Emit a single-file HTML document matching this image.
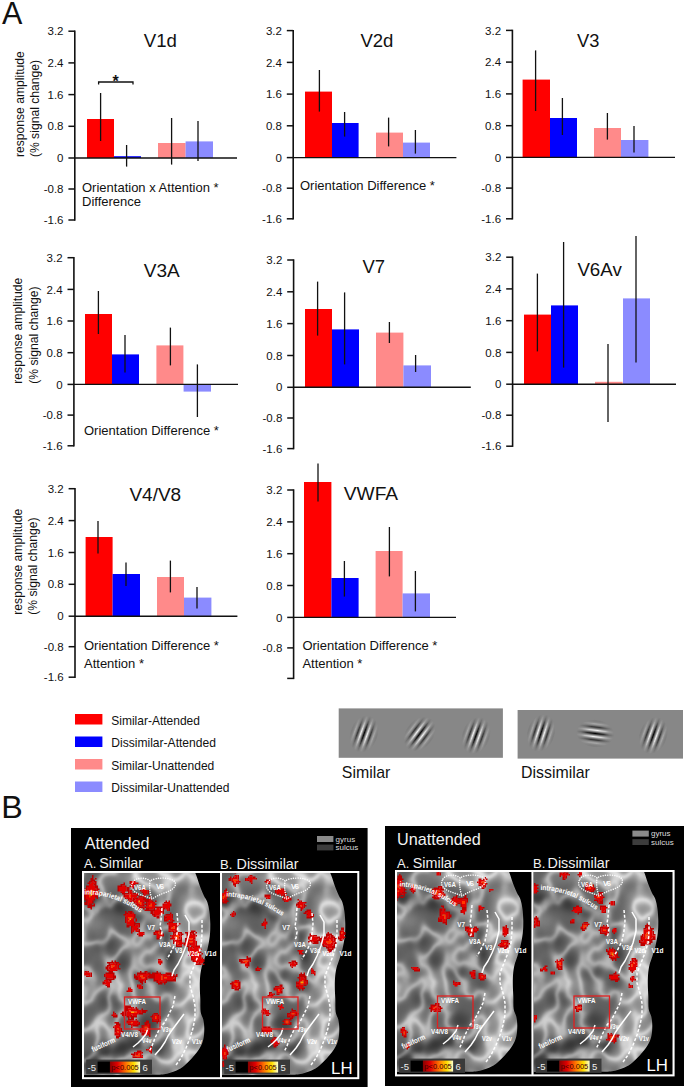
<!DOCTYPE html>
<html><head><meta charset="utf-8"><style>
html,body{margin:0;padding:0;background:#fff;width:685px;height:1089px;overflow:hidden}
svg{position:absolute;left:0;top:0;display:block}
text{font-family:"Liberation Sans", sans-serif}
</style></head><body>
<svg width="685" height="1089" viewBox="0 0 685 1089" fill="#111">
<defs>
<linearGradient id="stripes" gradientUnits="userSpaceOnUse" x1="-3.25" y1="0" x2="3.25" y2="0" spreadMethod="repeat">
<stop offset="0" stop-color="#fff"/><stop offset="0.5" stop-color="#000"/><stop offset="1" stop-color="#fff"/>
</linearGradient>
<radialGradient id="env" cx="0.5" cy="0.5" r="0.5">
<stop offset="0" stop-color="#fff"/><stop offset="0.25" stop-color="#e4e4e4"/><stop offset="0.5" stop-color="#909090"/><stop offset="0.75" stop-color="#303030"/><stop offset="1" stop-color="#000"/>
</radialGradient>
<mask id="gmask" maskContentUnits="userSpaceOnUse"><ellipse cx="0" cy="0" rx="14" ry="19" fill="url(#env)"/></mask>
</defs>
<text x="2" y="24" font-size="30.5">A</text>
<text x="1.2" y="818" font-size="30.5" textLength="21.5" lengthAdjust="spacingAndGlyphs">B</text>

<rect x="87" y="119.0" width="27.0" height="39.0" fill="#ff0000"/>
<rect x="114" y="156.2" width="27.0" height="1.8" fill="#0000ff"/>
<rect x="158" y="143.0" width="27.6" height="15.0" fill="#ff8a8a"/>
<rect x="185.6" y="141.4" width="27.4" height="16.6" fill="#8b8bff"/>
<line x1="74.8" y1="158.0" x2="237" y2="158.0" stroke="#111" stroke-width="1.4"/>
<line x1="100.6" y1="93" x2="100.6" y2="141" stroke="#111" stroke-width="1.3"/>
<line x1="126.6" y1="145" x2="126.6" y2="166.6" stroke="#111" stroke-width="1.3"/>
<line x1="171.6" y1="118" x2="171.6" y2="164.6" stroke="#111" stroke-width="1.3"/>
<line x1="198" y1="121" x2="198" y2="161" stroke="#111" stroke-width="1.3"/>
<line x1="74.8" y1="30.5" x2="74.8" y2="220.7" stroke="#111" stroke-width="1.6"/>
<line x1="68.39999999999999" y1="31.2" x2="74.8" y2="31.2" stroke="#111" stroke-width="1.5"/>
<text x="63.5" y="35.3" text-anchor="end" font-size="11.5">3.2</text>
<line x1="68.39999999999999" y1="62.9" x2="74.8" y2="62.9" stroke="#111" stroke-width="1.5"/>
<text x="63.5" y="67.0" text-anchor="end" font-size="11.5">2.4</text>
<line x1="68.39999999999999" y1="94.6" x2="74.8" y2="94.6" stroke="#111" stroke-width="1.5"/>
<text x="63.5" y="98.7" text-anchor="end" font-size="11.5">1.6</text>
<line x1="68.39999999999999" y1="126.3" x2="74.8" y2="126.3" stroke="#111" stroke-width="1.5"/>
<text x="63.5" y="130.4" text-anchor="end" font-size="11.5">0.8</text>
<line x1="68.39999999999999" y1="158.0" x2="74.8" y2="158.0" stroke="#111" stroke-width="1.5"/>
<text x="63.5" y="162.1" text-anchor="end" font-size="11.5">0</text>
<line x1="68.39999999999999" y1="189.0" x2="74.8" y2="189.0" stroke="#111" stroke-width="1.5"/>
<text x="63.5" y="193.1" text-anchor="end" font-size="11.5">-0.8</text>
<line x1="68.39999999999999" y1="220.0" x2="74.8" y2="220.0" stroke="#111" stroke-width="1.5"/>
<text x="63.5" y="224.1" text-anchor="end" font-size="11.5">-1.6</text>
<text x="143.8" y="47.4" font-size="18" textLength="33.2" lengthAdjust="spacingAndGlyphs">V1d</text>
<text x="82" y="192.3" font-size="13">Orientation x Attention *</text>
<text x="82" y="205.8" font-size="13">Difference</text>
<rect x="305" y="91.6" width="27.0" height="66.0" fill="#ff0000"/>
<rect x="332" y="123.0" width="26.6" height="34.6" fill="#0000ff"/>
<rect x="376" y="132.6" width="27.0" height="25.0" fill="#ff8a8a"/>
<rect x="403" y="142.6" width="27.0" height="15.0" fill="#8b8bff"/>
<line x1="293.2" y1="157.6" x2="456.4" y2="157.6" stroke="#111" stroke-width="1.4"/>
<line x1="319.4" y1="70" x2="319.4" y2="111.6" stroke="#111" stroke-width="1.3"/>
<line x1="344.6" y1="112" x2="344.6" y2="136.6" stroke="#111" stroke-width="1.3"/>
<line x1="388.6" y1="117.6" x2="388.6" y2="146.4" stroke="#111" stroke-width="1.3"/>
<line x1="415.4" y1="130" x2="415.4" y2="153.6" stroke="#111" stroke-width="1.3"/>
<line x1="293.2" y1="29.900000000000002" x2="293.2" y2="219.5" stroke="#111" stroke-width="1.6"/>
<line x1="286.8" y1="30.6" x2="293.2" y2="30.6" stroke="#111" stroke-width="1.5"/>
<text x="281.9" y="34.7" text-anchor="end" font-size="11.5">3.2</text>
<line x1="286.8" y1="62.4" x2="293.2" y2="62.4" stroke="#111" stroke-width="1.5"/>
<text x="281.9" y="66.5" text-anchor="end" font-size="11.5">2.4</text>
<line x1="286.8" y1="94.1" x2="293.2" y2="94.1" stroke="#111" stroke-width="1.5"/>
<text x="281.9" y="98.2" text-anchor="end" font-size="11.5">1.6</text>
<line x1="286.8" y1="125.8" x2="293.2" y2="125.8" stroke="#111" stroke-width="1.5"/>
<text x="281.9" y="129.9" text-anchor="end" font-size="11.5">0.8</text>
<line x1="286.8" y1="157.6" x2="293.2" y2="157.6" stroke="#111" stroke-width="1.5"/>
<text x="281.9" y="161.7" text-anchor="end" font-size="11.5">0</text>
<line x1="286.8" y1="188.2" x2="293.2" y2="188.2" stroke="#111" stroke-width="1.5"/>
<text x="281.9" y="192.3" text-anchor="end" font-size="11.5">-0.8</text>
<line x1="286.8" y1="218.8" x2="293.2" y2="218.8" stroke="#111" stroke-width="1.5"/>
<text x="281.9" y="222.9" text-anchor="end" font-size="11.5">-1.6</text>
<text x="360.4" y="47" font-size="18" textLength="33" lengthAdjust="spacingAndGlyphs">V2d</text>
<text x="300" y="190.4" font-size="13">Orientation Difference *</text>
<rect x="522.6" y="79.6" width="27.4" height="77.8" fill="#ff0000"/>
<rect x="550" y="118.0" width="27.0" height="39.4" fill="#0000ff"/>
<rect x="594" y="128.0" width="27.0" height="29.4" fill="#ff8a8a"/>
<rect x="621" y="140.0" width="27.4" height="17.4" fill="#8b8bff"/>
<line x1="512.4" y1="157.4" x2="675" y2="157.4" stroke="#111" stroke-width="1.4"/>
<line x1="535.6" y1="50.4" x2="535.6" y2="111" stroke="#111" stroke-width="1.3"/>
<line x1="562.4" y1="98" x2="562.4" y2="135" stroke="#111" stroke-width="1.3"/>
<line x1="607.4" y1="113" x2="607.4" y2="139.6" stroke="#111" stroke-width="1.3"/>
<line x1="634" y1="126" x2="634" y2="152.4" stroke="#111" stroke-width="1.3"/>
<line x1="512.4" y1="29.7" x2="512.4" y2="219.5" stroke="#111" stroke-width="1.6"/>
<line x1="506.0" y1="30.4" x2="512.4" y2="30.4" stroke="#111" stroke-width="1.5"/>
<text x="501.1" y="34.5" text-anchor="end" font-size="11.5">3.2</text>
<line x1="506.0" y1="62.1" x2="512.4" y2="62.1" stroke="#111" stroke-width="1.5"/>
<text x="501.1" y="66.2" text-anchor="end" font-size="11.5">2.4</text>
<line x1="506.0" y1="93.9" x2="512.4" y2="93.9" stroke="#111" stroke-width="1.5"/>
<text x="501.1" y="98.0" text-anchor="end" font-size="11.5">1.6</text>
<line x1="506.0" y1="125.7" x2="512.4" y2="125.7" stroke="#111" stroke-width="1.5"/>
<text x="501.1" y="129.8" text-anchor="end" font-size="11.5">0.8</text>
<line x1="506.0" y1="157.4" x2="512.4" y2="157.4" stroke="#111" stroke-width="1.5"/>
<text x="501.1" y="161.5" text-anchor="end" font-size="11.5">0</text>
<line x1="506.0" y1="188.1" x2="512.4" y2="188.1" stroke="#111" stroke-width="1.5"/>
<text x="501.1" y="192.2" text-anchor="end" font-size="11.5">-0.8</text>
<line x1="506.0" y1="218.8" x2="512.4" y2="218.8" stroke="#111" stroke-width="1.5"/>
<text x="501.1" y="222.9" text-anchor="end" font-size="11.5">-1.6</text>
<text x="577.0" y="47" font-size="18" textLength="22.4" lengthAdjust="spacingAndGlyphs">V3</text>
<rect x="85" y="314.0" width="27.0" height="70.4" fill="#ff0000"/>
<rect x="112" y="354.4" width="27.0" height="30.0" fill="#0000ff"/>
<rect x="156.4" y="345.4" width="27.0" height="39.0" fill="#ff8a8a"/>
<rect x="183.6" y="384.4" width="27.4" height="7.2" fill="#8b8bff"/>
<line x1="73.9" y1="384.4" x2="238" y2="384.4" stroke="#111" stroke-width="1.4"/>
<line x1="98.4" y1="291" x2="98.4" y2="334" stroke="#111" stroke-width="1.3"/>
<line x1="125" y1="335" x2="125" y2="372.4" stroke="#111" stroke-width="1.3"/>
<line x1="170.4" y1="327.6" x2="170.4" y2="365.4" stroke="#111" stroke-width="1.3"/>
<line x1="197.4" y1="364.4" x2="197.4" y2="417" stroke="#111" stroke-width="1.3"/>
<line x1="73.9" y1="257.0" x2="73.9" y2="446.5" stroke="#111" stroke-width="1.6"/>
<line x1="67.5" y1="257.7" x2="73.9" y2="257.7" stroke="#111" stroke-width="1.5"/>
<text x="62.6" y="261.8" text-anchor="end" font-size="11.5">3.2</text>
<line x1="67.5" y1="289.4" x2="73.9" y2="289.4" stroke="#111" stroke-width="1.5"/>
<text x="62.6" y="293.5" text-anchor="end" font-size="11.5">2.4</text>
<line x1="67.5" y1="321.0" x2="73.9" y2="321.0" stroke="#111" stroke-width="1.5"/>
<text x="62.6" y="325.1" text-anchor="end" font-size="11.5">1.6</text>
<line x1="67.5" y1="352.7" x2="73.9" y2="352.7" stroke="#111" stroke-width="1.5"/>
<text x="62.6" y="356.8" text-anchor="end" font-size="11.5">0.8</text>
<line x1="67.5" y1="384.4" x2="73.9" y2="384.4" stroke="#111" stroke-width="1.5"/>
<text x="62.6" y="388.5" text-anchor="end" font-size="11.5">0</text>
<line x1="67.5" y1="415.1" x2="73.9" y2="415.1" stroke="#111" stroke-width="1.5"/>
<text x="62.6" y="419.2" text-anchor="end" font-size="11.5">-0.8</text>
<line x1="67.5" y1="445.8" x2="73.9" y2="445.8" stroke="#111" stroke-width="1.5"/>
<text x="62.6" y="449.9" text-anchor="end" font-size="11.5">-1.6</text>
<text x="143.8" y="276.6" font-size="18" textLength="36" lengthAdjust="spacingAndGlyphs">V3A</text>
<text x="84" y="435.2" font-size="13">Orientation Difference *</text>
<rect x="305" y="309.0" width="27.0" height="78.3" fill="#ff0000"/>
<rect x="332" y="329.4" width="27.0" height="57.9" fill="#0000ff"/>
<rect x="376" y="332.6" width="27.4" height="54.7" fill="#ff8a8a"/>
<rect x="403.4" y="365.4" width="27.6" height="21.9" fill="#8b8bff"/>
<line x1="293.6" y1="387.3" x2="470.8" y2="387.3" stroke="#111" stroke-width="1.4"/>
<line x1="317.6" y1="281.6" x2="317.6" y2="335.6" stroke="#111" stroke-width="1.3"/>
<line x1="344.6" y1="292.4" x2="344.6" y2="364.4" stroke="#111" stroke-width="1.3"/>
<line x1="389.4" y1="322" x2="389.4" y2="343" stroke="#111" stroke-width="1.3"/>
<line x1="415.6" y1="355" x2="415.6" y2="372" stroke="#111" stroke-width="1.3"/>
<line x1="293.6" y1="259.3" x2="293.6" y2="449.3" stroke="#111" stroke-width="1.6"/>
<line x1="287.20000000000005" y1="260.0" x2="293.6" y2="260.0" stroke="#111" stroke-width="1.5"/>
<text x="282.3" y="264.1" text-anchor="end" font-size="11.5">3.2</text>
<line x1="287.20000000000005" y1="291.8" x2="293.6" y2="291.8" stroke="#111" stroke-width="1.5"/>
<text x="282.3" y="295.9" text-anchor="end" font-size="11.5">2.4</text>
<line x1="287.20000000000005" y1="323.6" x2="293.6" y2="323.6" stroke="#111" stroke-width="1.5"/>
<text x="282.3" y="327.8" text-anchor="end" font-size="11.5">1.6</text>
<line x1="287.20000000000005" y1="355.5" x2="293.6" y2="355.5" stroke="#111" stroke-width="1.5"/>
<text x="282.3" y="359.6" text-anchor="end" font-size="11.5">0.8</text>
<line x1="287.20000000000005" y1="387.3" x2="293.6" y2="387.3" stroke="#111" stroke-width="1.5"/>
<text x="282.3" y="391.4" text-anchor="end" font-size="11.5">0</text>
<line x1="287.20000000000005" y1="418.0" x2="293.6" y2="418.0" stroke="#111" stroke-width="1.5"/>
<text x="282.3" y="422.1" text-anchor="end" font-size="11.5">-0.8</text>
<line x1="287.20000000000005" y1="448.6" x2="293.6" y2="448.6" stroke="#111" stroke-width="1.5"/>
<text x="282.3" y="452.7" text-anchor="end" font-size="11.5">-1.6</text>
<text x="362.4" y="273" font-size="18" textLength="22.6" lengthAdjust="spacingAndGlyphs">V7</text>
<rect x="524" y="314.6" width="27.0" height="69.6" fill="#ff0000"/>
<rect x="551" y="305.4" width="27.0" height="78.8" fill="#0000ff"/>
<rect x="595" y="381.8" width="27.6" height="2.4" fill="#ff8a8a"/>
<rect x="623" y="298.4" width="27.0" height="85.8" fill="#8b8bff"/>
<line x1="512.6" y1="384.2" x2="676" y2="384.2" stroke="#111" stroke-width="1.4"/>
<line x1="537.4" y1="273.6" x2="537.4" y2="351.4" stroke="#111" stroke-width="1.3"/>
<line x1="563.6" y1="242" x2="563.6" y2="367.6" stroke="#111" stroke-width="1.3"/>
<line x1="608" y1="344" x2="608" y2="422" stroke="#111" stroke-width="1.3"/>
<line x1="636" y1="236" x2="636" y2="362.6" stroke="#111" stroke-width="1.3"/>
<line x1="512.6" y1="256.5" x2="512.6" y2="446.9" stroke="#111" stroke-width="1.6"/>
<line x1="506.20000000000005" y1="257.2" x2="512.6" y2="257.2" stroke="#111" stroke-width="1.5"/>
<text x="501.3" y="261.3" text-anchor="end" font-size="11.5">3.2</text>
<line x1="506.20000000000005" y1="288.9" x2="512.6" y2="288.9" stroke="#111" stroke-width="1.5"/>
<text x="501.3" y="293.1" text-anchor="end" font-size="11.5">2.4</text>
<line x1="506.20000000000005" y1="320.7" x2="512.6" y2="320.7" stroke="#111" stroke-width="1.5"/>
<text x="501.3" y="324.8" text-anchor="end" font-size="11.5">1.6</text>
<line x1="506.20000000000005" y1="352.4" x2="512.6" y2="352.4" stroke="#111" stroke-width="1.5"/>
<text x="501.3" y="356.6" text-anchor="end" font-size="11.5">0.8</text>
<line x1="506.20000000000005" y1="384.2" x2="512.6" y2="384.2" stroke="#111" stroke-width="1.5"/>
<text x="501.3" y="388.3" text-anchor="end" font-size="11.5">0</text>
<line x1="506.20000000000005" y1="415.2" x2="512.6" y2="415.2" stroke="#111" stroke-width="1.5"/>
<text x="501.3" y="419.3" text-anchor="end" font-size="11.5">-0.8</text>
<line x1="506.20000000000005" y1="446.2" x2="512.6" y2="446.2" stroke="#111" stroke-width="1.5"/>
<text x="501.3" y="450.3" text-anchor="end" font-size="11.5">-1.6</text>
<text x="577.4" y="275.6" font-size="18" textLength="44.4" lengthAdjust="spacingAndGlyphs">V6Av</text>
<rect x="85.6" y="537.0" width="27.0" height="79.2" fill="#ff0000"/>
<rect x="112.6" y="574.0" width="27.4" height="42.2" fill="#0000ff"/>
<rect x="157" y="577.0" width="27.0" height="39.2" fill="#ff8a8a"/>
<rect x="184" y="597.6" width="27.4" height="18.6" fill="#8b8bff"/>
<line x1="75.0" y1="616.2" x2="237.4" y2="616.2" stroke="#111" stroke-width="1.4"/>
<line x1="98" y1="521" x2="98" y2="553.6" stroke="#111" stroke-width="1.3"/>
<line x1="126" y1="562.4" x2="126" y2="586" stroke="#111" stroke-width="1.3"/>
<line x1="170.4" y1="560.6" x2="170.4" y2="592.4" stroke="#111" stroke-width="1.3"/>
<line x1="197" y1="587" x2="197" y2="608.6" stroke="#111" stroke-width="1.3"/>
<line x1="75.0" y1="488.0" x2="75.0" y2="677.9000000000001" stroke="#111" stroke-width="1.6"/>
<line x1="68.6" y1="488.7" x2="75.0" y2="488.7" stroke="#111" stroke-width="1.5"/>
<text x="63.7" y="492.8" text-anchor="end" font-size="11.5">3.2</text>
<line x1="68.6" y1="520.6" x2="75.0" y2="520.6" stroke="#111" stroke-width="1.5"/>
<text x="63.7" y="524.7" text-anchor="end" font-size="11.5">2.4</text>
<line x1="68.6" y1="552.5" x2="75.0" y2="552.5" stroke="#111" stroke-width="1.5"/>
<text x="63.7" y="556.6" text-anchor="end" font-size="11.5">1.6</text>
<line x1="68.6" y1="584.3" x2="75.0" y2="584.3" stroke="#111" stroke-width="1.5"/>
<text x="63.7" y="588.4" text-anchor="end" font-size="11.5">0.8</text>
<line x1="68.6" y1="616.2" x2="75.0" y2="616.2" stroke="#111" stroke-width="1.5"/>
<text x="63.7" y="620.3" text-anchor="end" font-size="11.5">0</text>
<line x1="68.6" y1="646.7" x2="75.0" y2="646.7" stroke="#111" stroke-width="1.5"/>
<text x="63.7" y="650.8" text-anchor="end" font-size="11.5">-0.8</text>
<line x1="68.6" y1="677.2" x2="75.0" y2="677.2" stroke="#111" stroke-width="1.5"/>
<text x="63.7" y="681.3" text-anchor="end" font-size="11.5">-1.6</text>
<text x="129.4" y="501" font-size="18" textLength="51.8" lengthAdjust="spacingAndGlyphs">V4/V8</text>
<text x="84" y="650" font-size="13">Orientation Difference *</text>
<text x="84" y="668" font-size="13">Attention *</text>
<rect x="304" y="482.0" width="27.4" height="135.4" fill="#ff0000"/>
<rect x="331.4" y="578.0" width="27.2" height="39.4" fill="#0000ff"/>
<rect x="375.6" y="551.0" width="27.0" height="66.4" fill="#ff8a8a"/>
<rect x="402.6" y="593.4" width="27.4" height="24.0" fill="#8b8bff"/>
<line x1="293.6" y1="617.4" x2="456" y2="617.4" stroke="#111" stroke-width="1.4"/>
<line x1="318" y1="463.6" x2="318" y2="501.6" stroke="#111" stroke-width="1.3"/>
<line x1="344.4" y1="561" x2="344.4" y2="596.6" stroke="#111" stroke-width="1.3"/>
<line x1="389.4" y1="527" x2="389.4" y2="576.4" stroke="#111" stroke-width="1.3"/>
<line x1="415.4" y1="571" x2="415.4" y2="611.4" stroke="#111" stroke-width="1.3"/>
<line x1="293.6" y1="489.3" x2="293.6" y2="679.1" stroke="#111" stroke-width="1.6"/>
<line x1="287.20000000000005" y1="490.0" x2="293.6" y2="490.0" stroke="#111" stroke-width="1.5"/>
<text x="282.3" y="494.1" text-anchor="end" font-size="11.5">3.2</text>
<line x1="287.20000000000005" y1="521.9" x2="293.6" y2="521.9" stroke="#111" stroke-width="1.5"/>
<text x="282.3" y="526.0" text-anchor="end" font-size="11.5">2.4</text>
<line x1="287.20000000000005" y1="553.7" x2="293.6" y2="553.7" stroke="#111" stroke-width="1.5"/>
<text x="282.3" y="557.8" text-anchor="end" font-size="11.5">1.6</text>
<line x1="287.20000000000005" y1="585.5" x2="293.6" y2="585.5" stroke="#111" stroke-width="1.5"/>
<text x="282.3" y="589.6" text-anchor="end" font-size="11.5">0.8</text>
<line x1="287.20000000000005" y1="617.4" x2="293.6" y2="617.4" stroke="#111" stroke-width="1.5"/>
<text x="282.3" y="621.5" text-anchor="end" font-size="11.5">0</text>
<line x1="287.20000000000005" y1="647.9" x2="293.6" y2="647.9" stroke="#111" stroke-width="1.5"/>
<text x="282.3" y="652.0" text-anchor="end" font-size="11.5">-0.8</text>
<line x1="287.20000000000005" y1="678.4" x2="293.6" y2="678.4" stroke="#111" stroke-width="1.5"/>
<text x="343.79999999999995" y="500" font-size="18" textLength="54.3" lengthAdjust="spacingAndGlyphs">VWFA</text>
<text x="302.4" y="650" font-size="13">Orientation Difference *</text>
<text x="302.4" y="668" font-size="13">Attention *</text>
<path d="M98.6 84.5 V82 H133 V84.5" fill="none" stroke="#111" stroke-width="1.3"/>
<text x="115.6" y="86.6" text-anchor="middle" font-size="16" font-weight="bold">*</text>
<text transform="translate(24,157.1) rotate(-90)" font-size="12.15">response amplitude</text>
<text transform="translate(39.3,157.1) rotate(-90)" font-size="12.15">(% signal change)</text>
<text transform="translate(22,383.7) rotate(-90)" font-size="12.15">response amplitude</text>
<text transform="translate(37.5,383.7) rotate(-90)" font-size="12.15">(% signal change)</text>
<text transform="translate(21.6,614.7) rotate(-90)" font-size="12.15">response amplitude</text>
<text transform="translate(37.2,614.7) rotate(-90)" font-size="12.15">(% signal change)</text>
<rect x="75" y="714.0" width="27.4" height="10.5" fill="#ff0000"/>
<text x="111.3" y="724.6" font-size="12.4" textLength="88.6" lengthAdjust="spacingAndGlyphs">Similar-Attended</text>
<rect x="75" y="736.5" width="27.4" height="10.5" fill="#0000ff"/>
<text x="111.3" y="747.1" font-size="12.4" textLength="104.6" lengthAdjust="spacingAndGlyphs">Dissimilar-Attended</text>
<rect x="75" y="759.0" width="27.4" height="10.5" fill="#ff8a8a"/>
<text x="111.3" y="769.6" font-size="12.4" textLength="103" lengthAdjust="spacingAndGlyphs">Similar-Unattended</text>
<rect x="75" y="781.5" width="27.4" height="10.5" fill="#8b8bff"/>
<text x="111.3" y="792.1" font-size="12.4" textLength="118.1" lengthAdjust="spacingAndGlyphs">Dissimilar-Unattended</text>
<rect x="338.7" y="708.4" width="164.2" height="49.4" fill="#878787"/>
<rect x="517.6" y="710" width="165.4" height="48.6" fill="#878787"/>
<g transform="translate(364,734) rotate(20)"><rect x="-15" y="-20" width="30" height="40" fill="url(#stripes)" mask="url(#gmask)"/></g>
<g transform="translate(419.6,734) rotate(37)"><rect x="-15" y="-20" width="30" height="40" fill="url(#stripes)" mask="url(#gmask)"/></g>
<g transform="translate(476,735.5) rotate(20)"><rect x="-15" y="-20" width="30" height="40" fill="url(#stripes)" mask="url(#gmask)"/></g>
<g transform="translate(541,733) rotate(18)"><rect x="-15" y="-20" width="30" height="40" fill="url(#stripes)" mask="url(#gmask)"/></g>
<g transform="translate(595.2,733.5) rotate(97)"><rect x="-15" y="-20" width="30" height="40" fill="url(#stripes)" mask="url(#gmask)"/></g>
<g transform="translate(653.2,735.5) rotate(20)"><rect x="-15" y="-20" width="30" height="40" fill="url(#stripes)" mask="url(#gmask)"/></g>
<text x="341.8" y="778.3" font-size="15.9">Similar</text>
<text x="521" y="778.3" font-size="15.9">Dissimilar</text>
<defs>
<filter id="bpaint" x="-6" y="-6" width="154" height="220" filterUnits="userSpaceOnUse" color-interpolation-filters="sRGB">
<feGaussianBlur in="SourceGraphic" stdDeviation="4.5" result="p"/>
<feTurbulence type="fractalNoise" baseFrequency="0.038 0.032" numOctaves="2" seed="11" result="n"/>
<feColorMatrix in="n" type="matrix" values="1 0 0 0 0  1 0 0 0 0  1 0 0 0 0  0 0 0 0 1" result="g"/>
<feComponentTransfer in="g" result="c">
<feFuncR type="table" tableValues="0 0 0 0 0 0 0.01 0.03 0.07 0.14 0.28 0.55 0.8 0.55 0.28 0.14 0.07 0.03 0.01 0 0 0 0 0 0"/>
<feFuncG type="table" tableValues="0 0 0 0 0 0 0.01 0.03 0.07 0.14 0.28 0.55 0.8 0.55 0.28 0.14 0.07 0.03 0.01 0 0 0 0 0 0"/>
<feFuncB type="table" tableValues="0 0 0 0 0 0 0.01 0.03 0.07 0.14 0.28 0.55 0.8 0.55 0.28 0.14 0.07 0.03 0.01 0 0 0 0 0 0"/>
</feComponentTransfer>
<feGaussianBlur in="c" stdDeviation="1.2" result="r"/>
<feComposite in="p" in2="r" operator="arithmetic" k1="0" k2="1" k3="0.46" k4="-0.16"/>
</filter>
<filter id="rblob" x="-20%" y="-20%" width="140%" height="140%"><feGaussianBlur stdDeviation="0.45"/></filter>
<filter id="bblur4" x="-10%" y="-10%" width="120%" height="120%"><feGaussianBlur stdDeviation="4.5"/></filter>
<filter id="bblur3" x="-50%" y="-50%" width="200%" height="200%"><feGaussianBlur stdDeviation="3"/></filter>
<filter id="rblur" x="-50%" y="-50%" width="200%" height="200%"><feGaussianBlur stdDeviation="0.7"/></filter>
<linearGradient id="cbar" x1="0" y1="0" x2="1" y2="0">
<stop offset="0" stop-color="#8a0000"/><stop offset="0.25" stop-color="#e00000"/><stop offset="0.55" stop-color="#ff7a00"/><stop offset="0.8" stop-color="#ffe000"/><stop offset="1" stop-color="#ffffd0"/>
</linearGradient>
<g id="brainbase">
<g filter="url(#bpaint)">
<rect x="-10" y="-10" width="165" height="230" fill="#888"/>
<ellipse cx="72" cy="4" rx="42" ry="9" fill="#b8b8b8"/>
<path d="M96 18 L122 18 L124 100 L118 130 L121 165 L112 192 L88 196 L92 150 L100 110 L92 60 Z" fill="#b0b0b0"/>
<ellipse cx="14" cy="50" rx="10" ry="7" fill="#a8a8a8"/>
<ellipse cx="42" cy="112" rx="12" ry="9" fill="#a4a4a4"/>
<ellipse cx="18" cy="152" rx="14" ry="9" fill="#a0a0a0"/>
<ellipse cx="30" cy="8" rx="14" ry="6" fill="#a0a0a0"/>
<ellipse cx="78" cy="185" rx="20" ry="10" fill="#a8a8a8"/>
<path d="M-5 27 C20 28 42 33 58 41 C72 49 80 62 86 84" fill="none" stroke="#555" stroke-width="11" stroke-linecap="round"/>
<ellipse cx="22" cy="70" rx="10" ry="8" fill="#686868"/>
<ellipse cx="38" cy="90" rx="8" ry="8" fill="#6e6e6e"/>
<ellipse cx="62" cy="100" rx="11" ry="8" fill="#6c6c6c"/>
<ellipse cx="28" cy="128" rx="10" ry="8" fill="#6a6a6a"/>
<ellipse cx="62" cy="150" rx="12" ry="9" fill="#6a6a6a"/>
<path d="M-2 192 C10 185 25 178 40 173 C52 170 62 172 75 177" fill="none" stroke="#505050" stroke-width="11" stroke-linecap="round"/>
<ellipse cx="84" cy="118" rx="5" ry="14" fill="#7a7a7a"/>
</g>
<path d="M111.5 -3 C111.8 -2.2 112.8 0.2 113.5 2 C114.2 3.8 114.8 5.8 115.5 8 C116.2 10.2 117.1 12.7 118 15 C118.9 17.3 120.0 19.8 121 22 C122.0 24.2 123.4 25.3 124.3 28 C125.2 30.7 126.0 34.3 126.5 38 C127.0 41.7 127.2 46.0 127.3 50 C127.3 54.0 127.3 57.8 126.8 62 C126.3 66.2 125.4 71.2 124.5 75 C123.6 78.8 122.5 81.8 121.5 85 C120.5 88.2 119.2 91.2 118.5 94 C117.8 96.8 117.5 99.0 117.2 102 C116.9 105.0 116.8 108.2 116.8 112 C116.8 115.8 117.1 120.7 117.3 125 C117.5 129.3 117.2 134.6 117.7 138 C118.2 141.4 119.7 142.8 120.3 145.6 C120.9 148.4 121.3 151.8 121.3 155 C121.3 158.2 121.0 162.2 120.4 165 C119.8 167.8 119.0 169.9 117.9 172.1 C116.8 174.3 115.4 176.2 113.9 178.3 C112.4 180.4 110.6 182.4 108.7 184.4 C106.8 186.4 104.8 188.6 102.6 190.5 C100.4 192.4 98.6 194.1 95.5 195.6 C92.4 197.1 88.5 198.8 84.2 199.7 C80.0 200.6 77.4 200.6 70 200.8 C62.6 201.0 52.5 201.0 40 201 C27.5 201.0 2.5 201.0 -5 201 L-8 215 L152 215 L152 -8 L111.5 -8 Z" fill="#000"/>
</g>
<g id="bover">
<g fill="none" stroke="#fff" stroke-width="1.5" stroke-linecap="butt" stroke-linejoin="round">
<path d="M47 8 C50 3 60 3 64 7 C70 3 85 3 89 8 C91 13 85 17 78 19 C73 21 69 23 66 25 C60 22 52 21 48 17 C45 14 45 11 47 8 Z M64 7 C63 13 64 19 66 25" stroke-linecap="round" stroke-dasharray="0.01 2.3" stroke-width="1.5"/>
<path d="M76 34 L75 46 L74 52 L76 58 L75 64 L73 66" stroke-dasharray="3 1.8"/>
<path d="M91 39 L92 50 L91 60 L89 70 L84 80 L81 85" stroke-dasharray="3 1.8"/>
<path d="M99 41 L103 48 L103 60 L100 72 L96 82 L92 90 L88 96 L86 102"/>
<path d="M116 46 L116 60 L115 72 L112 82 L108 92 L104 102 L104 112 L107 122 L109 132 L109 144 L107 154 L104 164 L100 174 L95 184 L90 191" stroke-dasharray="3 1.8"/>
<path d="M89 122 L87 132 L83 140 L79 148 L74 154 L69 164 L66 172 L63 178" stroke-dasharray="3 1.8"/>
<path d="M98 140 L92 148 L86 156 L82 162 L79 168 L75 174 L69 181"/>
<path d="M62 154 L60 160 L56 165 L52 169 L47 173"/>
</g>
<g font-family="Liberation Sans, sans-serif" font-weight="bold" font-size="7.6" fill="#fff">
<text x="48" y="15.5" textLength="12" lengthAdjust="spacingAndGlyphs">V6A</text><text x="70" y="15" textLength="8">V6</text>
<text x="61.3" y="56" textLength="7.8" lengthAdjust="spacingAndGlyphs">V7</text><text x="73" y="73" textLength="11.8" lengthAdjust="spacingAndGlyphs">V3A</text>
<text x="101.5" y="81.5" textLength="10.5" lengthAdjust="spacingAndGlyphs">V2d</text><text x="118.5" y="81.5" textLength="12" lengthAdjust="spacingAndGlyphs">V1d</text>
<text x="35" y="162.5" textLength="17" lengthAdjust="spacingAndGlyphs">V4/V8</text>
<text x="56" y="169" textLength="9.5" lengthAdjust="spacingAndGlyphs">V4v</text>
<text x="76" y="157.5" textLength="9.5" lengthAdjust="spacingAndGlyphs">V3v</text><text x="86" y="170" textLength="10" lengthAdjust="spacingAndGlyphs">V2v</text><text x="106" y="170" textLength="10" lengthAdjust="spacingAndGlyphs">V1v</text>
<text transform="translate(7,178) rotate(-24)" textLength="25" lengthAdjust="spacingAndGlyphs">fusiform</text>
</g>
</g>
<g id="bfixed">
<text x="45" y="132" font-family="Liberation Sans, sans-serif" font-weight="bold" font-size="7" fill="#fff" textLength="18" lengthAdjust="spacingAndGlyphs">VWFA</text>
<rect x="41.5" y="125" width="35.5" height="32" fill="none" stroke="#e02020" stroke-width="1.3"/>
<rect x="3.2" y="187.6" width="65.8" height="14.3" fill="#3a3a3a"/>
<rect x="14.6" y="189.6" width="12.4" height="11" fill="#000"/>
<rect x="26.9" y="189.6" width="30.2" height="11" fill="url(#cbar)"/>
<text x="4.6" y="198.6" font-family="Liberation Sans, sans-serif" font-size="9.5" fill="#eee">-5</text>
<text x="28.3" y="198" font-family="Liberation Sans, sans-serif" font-size="6.8" fill="#400" textLength="27.5" lengthAdjust="spacingAndGlyphs">p&lt;0.005</text>
</g>
</defs>

<rect x="71" y="828" width="296.6" height="259" fill="#000"/>
<text x="84.7" y="849.3" font-family="Liberation Sans, sans-serif" font-size="16.2" fill="#f2f2f2">Attended</text>
<rect x="317" y="836" width="16.4" height="6" fill="#8a8a8a"/>
<rect x="317" y="844.6" width="16.4" height="5.8" fill="#3c3c3c"/>
<text x="335.6" y="841.8" font-family="Liberation Sans, sans-serif" font-size="8" fill="#ddd">gyrus</text>
<text x="335.6" y="850.2" font-family="Liberation Sans, sans-serif" font-size="8" fill="#ddd">sulcus</text>
<text x="84" y="868.3" font-family="Liberation Sans, sans-serif" font-size="13" fill="#f2f2f2">A.</text>
<text x="99.3" y="868.3" font-family="Liberation Sans, sans-serif" font-size="15.5" fill="#f2f2f2" textLength="43.8" lengthAdjust="spacingAndGlyphs">Similar</text>
<text x="220" y="868.5" font-family="Liberation Sans, sans-serif" font-size="13" fill="#f2f2f2">B.</text>
<text x="236.6" y="868.5" font-family="Liberation Sans, sans-serif" font-size="15.5" fill="#f2f2f2" textLength="62" lengthAdjust="spacingAndGlyphs">Dissimilar</text>
<clipPath id="bc1"><rect x="1" y="1" width="136" height="204.2"/></clipPath>
<g transform="translate(83,872)"><g clip-path="url(#bc1)">
<use href="#brainbase" transform="translate(0,2)"/>
<g filter="url(#rblob)">
<path fill="#bc0000" d="M9.0 3.0h1.5v1.5h-1.5zM9.0 4.5h1.5v1.5h-1.5zM7.5 6.0h1.5v1.5h-1.5zM9.0 6.0h1.5v1.5h-1.5zM12.0 6.0h1.5v1.5h-1.5zM7.5 7.5h1.5v1.5h-1.5zM9.0 7.5h1.5v1.5h-1.5zM10.5 7.5h1.5v1.5h-1.5zM6.0 9.0h1.5v1.5h-1.5zM7.5 9.0h1.5v1.5h-1.5zM10.5 9.0h1.5v1.5h-1.5zM12.0 9.0h1.5v1.5h-1.5zM4.5 10.5h1.5v1.5h-1.5zM6.0 10.5h1.5v1.5h-1.5zM12.0 10.5h1.5v1.5h-1.5zM10.5 12.0h1.5v1.5h-1.5zM12.0 12.0h1.5v1.5h-1.5zM3.0 13.5h1.5v1.5h-1.5zM4.5 13.5h1.5v1.5h-1.5zM12.0 13.5h1.5v1.5h-1.5zM13.5 13.5h1.5v1.5h-1.5zM3.0 15.0h1.5v1.5h-1.5zM12.0 15.0h1.5v1.5h-1.5zM13.5 15.0h1.5v1.5h-1.5zM-1.5 16.5h1.5v1.5h-1.5zM1.5 16.5h1.5v1.5h-1.5zM3.0 16.5h1.5v1.5h-1.5zM13.5 16.5h1.5v1.5h-1.5zM15.0 16.5h1.5v1.5h-1.5zM0.0 18.0h1.5v1.5h-1.5zM12.0 18.0h1.5v1.5h-1.5zM0.0 19.5h1.5v1.5h-1.5zM15.0 19.5h1.5v1.5h-1.5zM0.0 21.0h1.5v1.5h-1.5zM16.5 21.0h1.5v1.5h-1.5zM-1.5 22.5h1.5v1.5h-1.5zM0.0 22.5h1.5v1.5h-1.5zM1.5 22.5h1.5v1.5h-1.5zM13.5 22.5h1.5v1.5h-1.5zM0.0 24.0h1.5v1.5h-1.5zM1.5 24.0h1.5v1.5h-1.5zM12.0 24.0h1.5v1.5h-1.5zM13.5 24.0h1.5v1.5h-1.5zM-1.5 25.5h1.5v1.5h-1.5zM1.5 25.5h1.5v1.5h-1.5zM13.5 25.5h1.5v1.5h-1.5zM1.5 27.0h1.5v1.5h-1.5zM3.0 27.0h1.5v1.5h-1.5zM10.5 27.0h1.5v1.5h-1.5zM3.0 28.5h1.5v1.5h-1.5zM9.0 28.5h1.5v1.5h-1.5zM1.5 30.0h1.5v1.5h-1.5zM3.0 30.0h1.5v1.5h-1.5zM9.0 30.0h1.5v1.5h-1.5zM1.5 31.5h1.5v1.5h-1.5zM3.0 31.5h1.5v1.5h-1.5zM6.0 31.5h1.5v1.5h-1.5zM7.5 31.5h1.5v1.5h-1.5zM10.5 31.5h1.5v1.5h-1.5zM4.5 33.0h1.5v1.5h-1.5zM6.0 33.0h1.5v1.5h-1.5zM7.5 33.0h1.5v1.5h-1.5zM9.0 33.0h1.5v1.5h-1.5zM10.5 33.0h1.5v1.5h-1.5zM4.5 34.5h1.5v1.5h-1.5zM6.0 34.5h1.5v1.5h-1.5zM7.5 34.5h1.5v1.5h-1.5zM7.5 36.0h1.5v1.5h-1.5zM40.5 10.5h1.5v1.5h-1.5zM37.5 12.0h1.5v1.5h-1.5zM39.0 12.0h1.5v1.5h-1.5zM40.5 12.0h1.5v1.5h-1.5zM34.5 13.5h1.5v1.5h-1.5zM36.0 13.5h1.5v1.5h-1.5zM37.5 13.5h1.5v1.5h-1.5zM42.0 13.5h1.5v1.5h-1.5zM34.5 15.0h1.5v1.5h-1.5zM43.5 15.0h1.5v1.5h-1.5zM45.0 15.0h1.5v1.5h-1.5zM34.5 16.5h1.5v1.5h-1.5zM43.5 16.5h1.5v1.5h-1.5zM45.0 16.5h1.5v1.5h-1.5zM34.5 18.0h1.5v1.5h-1.5zM43.5 18.0h1.5v1.5h-1.5zM37.5 19.5h1.5v1.5h-1.5zM39.0 21.0h1.5v1.5h-1.5zM40.5 21.0h1.5v1.5h-1.5zM45.0 18.0h1.5v1.5h-1.5zM48.0 18.0h1.5v1.5h-1.5zM45.0 19.5h1.5v1.5h-1.5zM42.0 21.0h1.5v1.5h-1.5zM43.5 21.0h1.5v1.5h-1.5zM45.0 21.0h1.5v1.5h-1.5zM49.5 21.0h1.5v1.5h-1.5zM51.0 21.0h1.5v1.5h-1.5zM52.5 21.0h1.5v1.5h-1.5zM54.0 21.0h1.5v1.5h-1.5zM40.5 22.5h1.5v1.5h-1.5zM54.0 22.5h1.5v1.5h-1.5zM40.5 24.0h1.5v1.5h-1.5zM55.5 24.0h1.5v1.5h-1.5zM42.0 25.5h1.5v1.5h-1.5zM49.5 25.5h1.5v1.5h-1.5zM45.0 27.0h1.5v1.5h-1.5zM49.5 27.0h1.5v1.5h-1.5zM46.5 28.5h1.5v1.5h-1.5zM48.0 28.5h1.5v1.5h-1.5zM49.5 28.5h1.5v1.5h-1.5zM57.0 24.0h1.5v1.5h-1.5zM58.5 24.0h1.5v1.5h-1.5zM60.0 24.0h1.5v1.5h-1.5zM51.0 25.5h1.5v1.5h-1.5zM52.5 25.5h1.5v1.5h-1.5zM54.0 25.5h1.5v1.5h-1.5zM60.0 25.5h1.5v1.5h-1.5zM61.5 25.5h1.5v1.5h-1.5zM51.0 27.0h1.5v1.5h-1.5zM60.0 27.0h1.5v1.5h-1.5zM61.5 27.0h1.5v1.5h-1.5zM61.5 28.5h1.5v1.5h-1.5zM51.0 30.0h1.5v1.5h-1.5zM60.0 30.0h1.5v1.5h-1.5zM52.5 31.5h1.5v1.5h-1.5zM61.5 31.5h1.5v1.5h-1.5zM54.0 33.0h1.5v1.5h-1.5zM60.0 33.0h1.5v1.5h-1.5zM55.5 34.5h1.5v1.5h-1.5zM57.0 34.5h1.5v1.5h-1.5zM58.5 34.5h1.5v1.5h-1.5zM55.5 36.0h1.5v1.5h-1.5zM57.0 36.0h1.5v1.5h-1.5zM60.0 36.0h1.5v1.5h-1.5zM66.0 24.0h1.5v1.5h-1.5zM66.0 25.5h1.5v1.5h-1.5zM63.0 27.0h1.5v1.5h-1.5zM64.5 27.0h1.5v1.5h-1.5zM67.5 27.0h1.5v1.5h-1.5zM63.0 28.5h1.5v1.5h-1.5zM64.5 28.5h1.5v1.5h-1.5zM69.0 28.5h1.5v1.5h-1.5zM72.0 28.5h1.5v1.5h-1.5zM63.0 30.0h1.5v1.5h-1.5zM63.0 31.5h1.5v1.5h-1.5zM72.0 31.5h1.5v1.5h-1.5zM63.0 33.0h1.5v1.5h-1.5zM61.5 34.5h1.5v1.5h-1.5zM72.0 34.5h1.5v1.5h-1.5zM63.0 36.0h1.5v1.5h-1.5zM64.5 36.0h1.5v1.5h-1.5zM70.5 36.0h1.5v1.5h-1.5zM61.5 37.5h1.5v1.5h-1.5zM63.0 37.5h1.5v1.5h-1.5zM64.5 37.5h1.5v1.5h-1.5zM66.0 37.5h1.5v1.5h-1.5zM67.5 37.5h1.5v1.5h-1.5zM69.0 37.5h1.5v1.5h-1.5zM70.5 37.5h1.5v1.5h-1.5zM69.0 39.0h1.5v1.5h-1.5zM73.5 34.5h1.5v1.5h-1.5zM75.0 34.5h1.5v1.5h-1.5zM76.5 34.5h1.5v1.5h-1.5zM78.0 34.5h1.5v1.5h-1.5zM76.5 36.0h1.5v1.5h-1.5zM78.0 36.0h1.5v1.5h-1.5zM79.5 36.0h1.5v1.5h-1.5zM70.5 37.5h1.5v1.5h-1.5zM79.5 37.5h1.5v1.5h-1.5zM67.5 39.0h1.5v1.5h-1.5zM69.0 39.0h1.5v1.5h-1.5zM79.5 39.0h1.5v1.5h-1.5zM67.5 40.5h1.5v1.5h-1.5zM69.0 40.5h1.5v1.5h-1.5zM79.5 40.5h1.5v1.5h-1.5zM69.0 42.0h1.5v1.5h-1.5zM70.5 42.0h1.5v1.5h-1.5zM76.5 42.0h1.5v1.5h-1.5zM70.5 43.5h1.5v1.5h-1.5zM73.5 43.5h1.5v1.5h-1.5zM75.0 43.5h1.5v1.5h-1.5zM73.5 45.0h1.5v1.5h-1.5zM75.0 45.0h1.5v1.5h-1.5zM46.5 9.0h1.5v1.5h-1.5zM46.5 10.5h1.5v1.5h-1.5zM54.0 10.5h1.5v1.5h-1.5zM51.0 12.0h1.5v1.5h-1.5zM46.5 13.5h1.5v1.5h-1.5zM48.0 15.0h1.5v1.5h-1.5zM49.5 15.0h1.5v1.5h-1.5zM58.5 16.5h1.5v1.5h-1.5zM61.5 16.5h1.5v1.5h-1.5zM57.0 18.0h1.5v1.5h-1.5zM64.5 18.0h1.5v1.5h-1.5zM58.5 19.5h1.5v1.5h-1.5zM64.5 19.5h1.5v1.5h-1.5zM60.0 21.0h1.5v1.5h-1.5zM64.5 21.0h1.5v1.5h-1.5zM60.0 22.5h1.5v1.5h-1.5zM61.5 22.5h1.5v1.5h-1.5zM42.0 39.0h1.5v1.5h-1.5zM45.0 39.0h1.5v1.5h-1.5zM46.5 39.0h1.5v1.5h-1.5zM48.0 39.0h1.5v1.5h-1.5zM42.0 40.5h1.5v1.5h-1.5zM43.5 40.5h1.5v1.5h-1.5zM46.5 40.5h1.5v1.5h-1.5zM48.0 40.5h1.5v1.5h-1.5zM40.5 42.0h1.5v1.5h-1.5zM42.0 42.0h1.5v1.5h-1.5zM51.0 42.0h1.5v1.5h-1.5zM51.0 43.5h1.5v1.5h-1.5zM42.0 45.0h1.5v1.5h-1.5zM51.0 45.0h1.5v1.5h-1.5zM42.0 46.5h1.5v1.5h-1.5zM52.5 46.5h1.5v1.5h-1.5zM42.0 48.0h1.5v1.5h-1.5zM52.5 48.0h1.5v1.5h-1.5zM42.0 49.5h1.5v1.5h-1.5zM51.0 49.5h1.5v1.5h-1.5zM51.0 51.0h1.5v1.5h-1.5zM43.5 52.5h1.5v1.5h-1.5zM45.0 52.5h1.5v1.5h-1.5zM49.5 52.5h1.5v1.5h-1.5zM51.0 52.5h1.5v1.5h-1.5zM43.5 54.0h1.5v1.5h-1.5zM45.0 54.0h1.5v1.5h-1.5zM48.0 54.0h1.5v1.5h-1.5zM49.5 54.0h1.5v1.5h-1.5zM49.5 51.0h1.5v1.5h-1.5zM52.5 51.0h1.5v1.5h-1.5zM54.0 51.0h1.5v1.5h-1.5zM55.5 51.0h1.5v1.5h-1.5zM46.5 52.5h1.5v1.5h-1.5zM48.0 52.5h1.5v1.5h-1.5zM51.0 52.5h1.5v1.5h-1.5zM55.5 52.5h1.5v1.5h-1.5zM48.0 54.0h1.5v1.5h-1.5zM55.5 54.0h1.5v1.5h-1.5zM48.0 55.5h1.5v1.5h-1.5zM54.0 55.5h1.5v1.5h-1.5zM48.0 57.0h1.5v1.5h-1.5zM55.5 57.0h1.5v1.5h-1.5zM48.0 58.5h1.5v1.5h-1.5zM54.0 58.5h1.5v1.5h-1.5zM55.5 58.5h1.5v1.5h-1.5zM48.0 60.0h1.5v1.5h-1.5zM60.0 60.0h1.5v1.5h-1.5zM54.0 61.5h1.5v1.5h-1.5zM55.5 63.0h1.5v1.5h-1.5zM57.0 63.0h1.5v1.5h-1.5zM58.5 63.0h1.5v1.5h-1.5zM76.5 57.0h1.5v1.5h-1.5zM72.0 58.5h1.5v1.5h-1.5zM73.5 58.5h1.5v1.5h-1.5zM76.5 58.5h1.5v1.5h-1.5zM70.5 60.0h1.5v1.5h-1.5zM70.5 61.5h1.5v1.5h-1.5zM72.0 61.5h1.5v1.5h-1.5zM79.5 61.5h1.5v1.5h-1.5zM79.5 63.0h1.5v1.5h-1.5zM76.5 64.5h1.5v1.5h-1.5zM73.5 66.0h1.5v1.5h-1.5zM75.0 66.0h1.5v1.5h-1.5zM82.5 28.5h1.5v1.5h-1.5zM85.5 28.5h1.5v1.5h-1.5zM81.0 30.0h1.5v1.5h-1.5zM82.5 30.0h1.5v1.5h-1.5zM79.5 31.5h1.5v1.5h-1.5zM87.0 31.5h1.5v1.5h-1.5zM87.0 33.0h1.5v1.5h-1.5zM79.5 36.0h1.5v1.5h-1.5zM81.0 36.0h1.5v1.5h-1.5zM85.5 36.0h1.5v1.5h-1.5zM85.5 37.5h1.5v1.5h-1.5zM87.0 40.5h1.5v1.5h-1.5zM82.5 42.0h1.5v1.5h-1.5zM84.0 42.0h1.5v1.5h-1.5zM85.5 42.0h1.5v1.5h-1.5zM88.5 42.0h1.5v1.5h-1.5zM81.0 43.5h1.5v1.5h-1.5zM88.5 43.5h1.5v1.5h-1.5zM81.0 45.0h1.5v1.5h-1.5zM82.5 45.0h1.5v1.5h-1.5zM88.5 45.0h1.5v1.5h-1.5zM81.0 46.5h1.5v1.5h-1.5zM81.0 48.0h1.5v1.5h-1.5zM82.5 48.0h1.5v1.5h-1.5zM88.5 48.0h1.5v1.5h-1.5zM90.0 48.0h1.5v1.5h-1.5zM88.5 49.5h1.5v1.5h-1.5zM85.5 49.5h1.5v1.5h-1.5zM87.0 49.5h1.5v1.5h-1.5zM84.0 51.0h1.5v1.5h-1.5zM93.0 51.0h1.5v1.5h-1.5zM94.5 51.0h1.5v1.5h-1.5zM96.0 51.0h1.5v1.5h-1.5zM94.5 52.5h1.5v1.5h-1.5zM85.5 54.0h1.5v1.5h-1.5zM93.0 54.0h1.5v1.5h-1.5zM85.5 55.5h1.5v1.5h-1.5zM93.0 55.5h1.5v1.5h-1.5zM93.0 57.0h1.5v1.5h-1.5zM85.5 58.5h1.5v1.5h-1.5zM87.0 58.5h1.5v1.5h-1.5zM90.0 58.5h1.5v1.5h-1.5zM93.0 58.5h1.5v1.5h-1.5zM90.0 60.0h1.5v1.5h-1.5zM91.5 60.0h1.5v1.5h-1.5zM93.0 60.0h1.5v1.5h-1.5zM96.0 60.0h1.5v1.5h-1.5zM97.5 60.0h1.5v1.5h-1.5zM90.0 61.5h1.5v1.5h-1.5zM97.5 61.5h1.5v1.5h-1.5zM99.0 61.5h1.5v1.5h-1.5zM87.0 63.0h1.5v1.5h-1.5zM97.5 63.0h1.5v1.5h-1.5zM96.0 64.5h1.5v1.5h-1.5zM87.0 66.0h1.5v1.5h-1.5zM88.5 66.0h1.5v1.5h-1.5zM97.5 66.0h1.5v1.5h-1.5zM90.0 67.5h1.5v1.5h-1.5zM96.0 67.5h1.5v1.5h-1.5zM97.5 67.5h1.5v1.5h-1.5zM93.0 69.0h1.5v1.5h-1.5zM94.5 69.0h1.5v1.5h-1.5zM94.5 70.5h1.5v1.5h-1.5zM93.0 67.5h1.5v1.5h-1.5zM96.0 67.5h1.5v1.5h-1.5zM90.0 69.0h1.5v1.5h-1.5zM91.5 69.0h1.5v1.5h-1.5zM90.0 70.5h1.5v1.5h-1.5zM91.5 70.5h1.5v1.5h-1.5zM93.0 72.0h1.5v1.5h-1.5zM100.5 72.0h1.5v1.5h-1.5zM93.0 73.5h1.5v1.5h-1.5zM94.5 73.5h1.5v1.5h-1.5zM96.0 73.5h1.5v1.5h-1.5zM97.5 73.5h1.5v1.5h-1.5zM105.0 58.5h1.5v1.5h-1.5zM108.0 58.5h1.5v1.5h-1.5zM109.5 58.5h1.5v1.5h-1.5zM111.0 58.5h1.5v1.5h-1.5zM102.0 60.0h1.5v1.5h-1.5zM103.5 60.0h1.5v1.5h-1.5zM105.0 60.0h1.5v1.5h-1.5zM106.5 60.0h1.5v1.5h-1.5zM108.0 60.0h1.5v1.5h-1.5zM109.5 60.0h1.5v1.5h-1.5zM112.5 60.0h1.5v1.5h-1.5zM103.5 61.5h1.5v1.5h-1.5zM106.5 61.5h1.5v1.5h-1.5zM109.5 61.5h1.5v1.5h-1.5zM111.0 61.5h1.5v1.5h-1.5zM103.5 63.0h1.5v1.5h-1.5zM112.5 63.0h1.5v1.5h-1.5zM102.0 66.0h1.5v1.5h-1.5zM103.5 66.0h1.5v1.5h-1.5zM111.0 66.0h1.5v1.5h-1.5zM102.0 67.5h1.5v1.5h-1.5zM103.5 67.5h1.5v1.5h-1.5zM102.0 69.0h1.5v1.5h-1.5zM112.5 69.0h1.5v1.5h-1.5zM100.5 70.5h1.5v1.5h-1.5zM112.5 70.5h1.5v1.5h-1.5zM100.5 72.0h1.5v1.5h-1.5zM106.5 72.0h1.5v1.5h-1.5zM112.5 72.0h1.5v1.5h-1.5zM102.0 73.5h1.5v1.5h-1.5zM103.5 73.5h1.5v1.5h-1.5zM105.0 73.5h1.5v1.5h-1.5zM112.5 73.5h1.5v1.5h-1.5zM109.5 75.0h1.5v1.5h-1.5zM111.0 75.0h1.5v1.5h-1.5zM112.5 76.5h1.5v1.5h-1.5zM112.5 72.0h1.5v1.5h-1.5zM108.0 73.5h1.5v1.5h-1.5zM109.5 73.5h1.5v1.5h-1.5zM111.0 73.5h1.5v1.5h-1.5zM112.5 73.5h1.5v1.5h-1.5zM114.0 73.5h1.5v1.5h-1.5zM115.5 73.5h1.5v1.5h-1.5zM105.0 75.0h1.5v1.5h-1.5zM109.5 75.0h1.5v1.5h-1.5zM105.0 76.5h1.5v1.5h-1.5zM115.5 76.5h1.5v1.5h-1.5zM117.0 76.5h1.5v1.5h-1.5zM105.0 78.0h1.5v1.5h-1.5zM106.5 79.5h1.5v1.5h-1.5zM117.0 79.5h1.5v1.5h-1.5zM106.5 81.0h1.5v1.5h-1.5zM118.5 81.0h1.5v1.5h-1.5zM105.0 82.5h1.5v1.5h-1.5zM106.5 82.5h1.5v1.5h-1.5zM117.0 82.5h1.5v1.5h-1.5zM108.0 84.0h1.5v1.5h-1.5zM115.5 84.0h1.5v1.5h-1.5zM108.0 85.5h1.5v1.5h-1.5zM111.0 85.5h1.5v1.5h-1.5zM114.0 85.5h1.5v1.5h-1.5zM115.5 85.5h1.5v1.5h-1.5zM115.5 82.5h1.5v1.5h-1.5zM117.0 82.5h1.5v1.5h-1.5zM109.5 84.0h1.5v1.5h-1.5zM109.5 85.5h1.5v1.5h-1.5zM118.5 85.5h1.5v1.5h-1.5zM108.0 87.0h1.5v1.5h-1.5zM109.5 87.0h1.5v1.5h-1.5zM120.0 87.0h1.5v1.5h-1.5zM109.5 88.5h1.5v1.5h-1.5zM120.0 88.5h1.5v1.5h-1.5zM115.5 90.0h1.5v1.5h-1.5zM112.5 91.5h1.5v1.5h-1.5zM114.0 91.5h1.5v1.5h-1.5zM115.5 91.5h1.5v1.5h-1.5zM117.0 91.5h1.5v1.5h-1.5zM120.0 91.5h1.5v1.5h-1.5zM28.5 88.5h1.5v1.5h-1.5zM31.5 88.5h1.5v1.5h-1.5zM24.0 90.0h1.5v1.5h-1.5zM25.5 90.0h1.5v1.5h-1.5zM27.0 90.0h1.5v1.5h-1.5zM28.5 90.0h1.5v1.5h-1.5zM31.5 90.0h1.5v1.5h-1.5zM33.0 90.0h1.5v1.5h-1.5zM34.5 90.0h1.5v1.5h-1.5zM25.5 91.5h1.5v1.5h-1.5zM33.0 91.5h1.5v1.5h-1.5zM36.0 91.5h1.5v1.5h-1.5zM24.0 93.0h1.5v1.5h-1.5zM25.5 93.0h1.5v1.5h-1.5zM34.5 93.0h1.5v1.5h-1.5zM22.5 94.5h1.5v1.5h-1.5zM24.0 94.5h1.5v1.5h-1.5zM34.5 94.5h1.5v1.5h-1.5zM22.5 96.0h1.5v1.5h-1.5zM24.0 96.0h1.5v1.5h-1.5zM34.5 96.0h1.5v1.5h-1.5zM36.0 96.0h1.5v1.5h-1.5zM24.0 97.5h1.5v1.5h-1.5zM25.5 97.5h1.5v1.5h-1.5zM33.0 97.5h1.5v1.5h-1.5zM27.0 99.0h1.5v1.5h-1.5zM28.5 99.0h1.5v1.5h-1.5zM27.0 100.5h1.5v1.5h-1.5zM25.5 99.0h1.5v1.5h-1.5zM22.5 100.5h1.5v1.5h-1.5zM24.0 100.5h1.5v1.5h-1.5zM25.5 100.5h1.5v1.5h-1.5zM27.0 100.5h1.5v1.5h-1.5zM28.5 100.5h1.5v1.5h-1.5zM30.0 100.5h1.5v1.5h-1.5zM21.0 102.0h1.5v1.5h-1.5zM30.0 102.0h1.5v1.5h-1.5zM21.0 103.5h1.5v1.5h-1.5zM30.0 103.5h1.5v1.5h-1.5zM31.5 103.5h1.5v1.5h-1.5zM22.5 105.0h1.5v1.5h-1.5zM30.0 105.0h1.5v1.5h-1.5zM31.5 105.0h1.5v1.5h-1.5zM22.5 106.5h1.5v1.5h-1.5zM24.0 106.5h1.5v1.5h-1.5zM25.5 106.5h1.5v1.5h-1.5zM27.0 106.5h1.5v1.5h-1.5zM28.5 106.5h1.5v1.5h-1.5zM30.0 106.5h1.5v1.5h-1.5zM25.5 108.0h1.5v1.5h-1.5zM27.0 108.0h1.5v1.5h-1.5zM19.5 109.5h1.5v1.5h-1.5zM21.0 109.5h1.5v1.5h-1.5zM27.0 109.5h1.5v1.5h-1.5zM19.5 111.0h1.5v1.5h-1.5zM22.5 112.5h1.5v1.5h-1.5zM24.0 114.0h1.5v1.5h-1.5zM25.5 114.0h1.5v1.5h-1.5zM1.5 99.0h1.5v1.5h-1.5zM4.5 99.0h1.5v1.5h-1.5zM0.0 100.5h1.5v1.5h-1.5zM7.5 100.5h1.5v1.5h-1.5zM0.0 102.0h1.5v1.5h-1.5zM7.5 102.0h1.5v1.5h-1.5zM3.0 103.5h1.5v1.5h-1.5zM4.5 103.5h1.5v1.5h-1.5zM7.5 103.5h1.5v1.5h-1.5zM57.0 99.0h1.5v1.5h-1.5zM61.5 99.0h1.5v1.5h-1.5zM63.0 99.0h1.5v1.5h-1.5zM54.0 100.5h1.5v1.5h-1.5zM55.5 100.5h1.5v1.5h-1.5zM57.0 100.5h1.5v1.5h-1.5zM58.5 100.5h1.5v1.5h-1.5zM60.0 100.5h1.5v1.5h-1.5zM61.5 100.5h1.5v1.5h-1.5zM64.5 100.5h1.5v1.5h-1.5zM66.0 100.5h1.5v1.5h-1.5zM51.0 102.0h1.5v1.5h-1.5zM54.0 102.0h1.5v1.5h-1.5zM66.0 102.0h1.5v1.5h-1.5zM67.5 102.0h1.5v1.5h-1.5zM51.0 103.5h1.5v1.5h-1.5zM52.5 103.5h1.5v1.5h-1.5zM64.5 103.5h1.5v1.5h-1.5zM66.0 103.5h1.5v1.5h-1.5zM67.5 103.5h1.5v1.5h-1.5zM51.0 105.0h1.5v1.5h-1.5zM52.5 105.0h1.5v1.5h-1.5zM54.0 105.0h1.5v1.5h-1.5zM63.0 105.0h1.5v1.5h-1.5zM66.0 105.0h1.5v1.5h-1.5zM52.5 106.5h1.5v1.5h-1.5zM54.0 106.5h1.5v1.5h-1.5zM63.0 106.5h1.5v1.5h-1.5zM55.5 108.0h1.5v1.5h-1.5zM57.0 108.0h1.5v1.5h-1.5zM58.5 108.0h1.5v1.5h-1.5zM61.5 108.0h1.5v1.5h-1.5zM57.0 109.5h1.5v1.5h-1.5zM58.5 109.5h1.5v1.5h-1.5zM61.5 109.5h1.5v1.5h-1.5zM58.5 111.0h1.5v1.5h-1.5zM73.5 99.0h1.5v1.5h-1.5zM69.0 100.5h1.5v1.5h-1.5zM70.5 100.5h1.5v1.5h-1.5zM72.0 100.5h1.5v1.5h-1.5zM73.5 100.5h1.5v1.5h-1.5zM76.5 100.5h1.5v1.5h-1.5zM82.5 100.5h1.5v1.5h-1.5zM84.0 100.5h1.5v1.5h-1.5zM85.5 100.5h1.5v1.5h-1.5zM87.0 100.5h1.5v1.5h-1.5zM69.0 102.0h1.5v1.5h-1.5zM70.5 102.0h1.5v1.5h-1.5zM78.0 102.0h1.5v1.5h-1.5zM84.0 102.0h1.5v1.5h-1.5zM85.5 102.0h1.5v1.5h-1.5zM87.0 102.0h1.5v1.5h-1.5zM88.5 102.0h1.5v1.5h-1.5zM90.0 102.0h1.5v1.5h-1.5zM93.0 102.0h1.5v1.5h-1.5zM67.5 103.5h1.5v1.5h-1.5zM69.0 103.5h1.5v1.5h-1.5zM70.5 103.5h1.5v1.5h-1.5zM87.0 103.5h1.5v1.5h-1.5zM90.0 103.5h1.5v1.5h-1.5zM91.5 103.5h1.5v1.5h-1.5zM93.0 103.5h1.5v1.5h-1.5zM67.5 105.0h1.5v1.5h-1.5zM69.0 105.0h1.5v1.5h-1.5zM70.5 105.0h1.5v1.5h-1.5zM91.5 105.0h1.5v1.5h-1.5zM70.5 106.5h1.5v1.5h-1.5zM90.0 106.5h1.5v1.5h-1.5zM91.5 106.5h1.5v1.5h-1.5zM70.5 108.0h1.5v1.5h-1.5zM72.0 108.0h1.5v1.5h-1.5zM73.5 108.0h1.5v1.5h-1.5zM82.5 108.0h1.5v1.5h-1.5zM84.0 108.0h1.5v1.5h-1.5zM85.5 108.0h1.5v1.5h-1.5zM87.0 108.0h1.5v1.5h-1.5zM88.5 108.0h1.5v1.5h-1.5zM90.0 108.0h1.5v1.5h-1.5zM91.5 108.0h1.5v1.5h-1.5zM73.5 109.5h1.5v1.5h-1.5zM76.5 109.5h1.5v1.5h-1.5zM78.0 109.5h1.5v1.5h-1.5zM81.0 109.5h1.5v1.5h-1.5zM82.5 109.5h1.5v1.5h-1.5zM75.0 111.0h1.5v1.5h-1.5zM76.5 111.0h1.5v1.5h-1.5zM78.0 111.0h1.5v1.5h-1.5zM81.0 111.0h1.5v1.5h-1.5zM75.0 87.0h1.5v1.5h-1.5zM76.5 87.0h1.5v1.5h-1.5zM78.0 90.0h1.5v1.5h-1.5zM45.0 115.5h1.5v1.5h-1.5zM43.5 118.5h1.5v1.5h-1.5zM48.0 118.5h1.5v1.5h-1.5zM54.0 112.5h1.5v1.5h-1.5zM54.0 114.0h1.5v1.5h-1.5zM58.5 114.0h1.5v1.5h-1.5zM58.5 115.5h1.5v1.5h-1.5zM42.0 133.5h1.5v1.5h-1.5zM43.5 133.5h1.5v1.5h-1.5zM45.0 133.5h1.5v1.5h-1.5zM46.5 133.5h1.5v1.5h-1.5zM42.0 135.0h1.5v1.5h-1.5zM43.5 135.0h1.5v1.5h-1.5zM45.0 135.0h1.5v1.5h-1.5zM46.5 135.0h1.5v1.5h-1.5zM49.5 135.0h1.5v1.5h-1.5zM52.5 135.0h1.5v1.5h-1.5zM42.0 136.5h1.5v1.5h-1.5zM43.5 136.5h1.5v1.5h-1.5zM52.5 136.5h1.5v1.5h-1.5zM54.0 136.5h1.5v1.5h-1.5zM58.5 136.5h1.5v1.5h-1.5zM42.0 138.0h1.5v1.5h-1.5zM43.5 138.0h1.5v1.5h-1.5zM58.5 138.0h1.5v1.5h-1.5zM60.0 138.0h1.5v1.5h-1.5zM61.5 138.0h1.5v1.5h-1.5zM63.0 138.0h1.5v1.5h-1.5zM39.0 139.5h1.5v1.5h-1.5zM40.5 139.5h1.5v1.5h-1.5zM42.0 139.5h1.5v1.5h-1.5zM58.5 139.5h1.5v1.5h-1.5zM60.0 139.5h1.5v1.5h-1.5zM61.5 139.5h1.5v1.5h-1.5zM37.5 141.0h1.5v1.5h-1.5zM39.0 141.0h1.5v1.5h-1.5zM40.5 141.0h1.5v1.5h-1.5zM42.0 141.0h1.5v1.5h-1.5zM55.5 141.0h1.5v1.5h-1.5zM57.0 141.0h1.5v1.5h-1.5zM58.5 141.0h1.5v1.5h-1.5zM39.0 142.5h1.5v1.5h-1.5zM40.5 142.5h1.5v1.5h-1.5zM42.0 142.5h1.5v1.5h-1.5zM48.0 142.5h1.5v1.5h-1.5zM40.5 144.0h1.5v1.5h-1.5zM43.5 144.0h1.5v1.5h-1.5zM45.0 144.0h1.5v1.5h-1.5zM48.0 144.0h1.5v1.5h-1.5zM49.5 144.0h1.5v1.5h-1.5zM51.0 144.0h1.5v1.5h-1.5zM52.5 144.0h1.5v1.5h-1.5zM45.0 145.5h1.5v1.5h-1.5zM48.0 145.5h1.5v1.5h-1.5zM49.5 145.5h1.5v1.5h-1.5zM45.0 147.0h1.5v1.5h-1.5zM46.5 147.0h1.5v1.5h-1.5zM48.0 147.0h1.5v1.5h-1.5zM49.5 147.0h1.5v1.5h-1.5zM52.5 147.0h1.5v1.5h-1.5zM43.5 148.5h1.5v1.5h-1.5zM54.0 148.5h1.5v1.5h-1.5zM55.5 150.0h1.5v1.5h-1.5zM45.0 151.5h1.5v1.5h-1.5zM46.5 151.5h1.5v1.5h-1.5zM54.0 151.5h1.5v1.5h-1.5zM55.5 151.5h1.5v1.5h-1.5zM49.5 153.0h1.5v1.5h-1.5zM51.0 153.0h1.5v1.5h-1.5zM52.5 153.0h1.5v1.5h-1.5zM54.0 153.0h1.5v1.5h-1.5zM48.0 154.5h1.5v1.5h-1.5zM70.5 141.0h1.5v1.5h-1.5zM72.0 141.0h1.5v1.5h-1.5zM73.5 141.0h1.5v1.5h-1.5zM69.0 142.5h1.5v1.5h-1.5zM75.0 142.5h1.5v1.5h-1.5zM67.5 144.0h1.5v1.5h-1.5zM69.0 144.0h1.5v1.5h-1.5zM76.5 144.0h1.5v1.5h-1.5zM76.5 145.5h1.5v1.5h-1.5zM69.0 147.0h1.5v1.5h-1.5zM75.0 147.0h1.5v1.5h-1.5zM69.0 148.5h1.5v1.5h-1.5zM70.5 148.5h1.5v1.5h-1.5zM72.0 148.5h1.5v1.5h-1.5zM73.5 148.5h1.5v1.5h-1.5zM75.0 148.5h1.5v1.5h-1.5zM76.5 148.5h1.5v1.5h-1.5zM73.5 150.0h1.5v1.5h-1.5zM30.0 139.5h1.5v1.5h-1.5zM31.5 141.0h1.5v1.5h-1.5zM28.5 142.5h1.5v1.5h-1.5zM33.0 142.5h1.5v1.5h-1.5zM30.0 144.0h1.5v1.5h-1.5zM31.5 144.0h1.5v1.5h-1.5zM33.0 144.0h1.5v1.5h-1.5zM31.5 150.0h1.5v1.5h-1.5zM33.0 150.0h1.5v1.5h-1.5zM34.5 150.0h1.5v1.5h-1.5zM33.0 151.5h1.5v1.5h-1.5zM34.5 151.5h1.5v1.5h-1.5zM36.0 151.5h1.5v1.5h-1.5zM36.0 153.0h1.5v1.5h-1.5zM30.0 154.5h1.5v1.5h-1.5zM31.5 156.0h1.5v1.5h-1.5zM37.5 156.0h1.5v1.5h-1.5zM31.5 157.5h1.5v1.5h-1.5zM37.5 157.5h1.5v1.5h-1.5zM31.5 159.0h1.5v1.5h-1.5zM37.5 159.0h1.5v1.5h-1.5zM39.0 159.0h1.5v1.5h-1.5zM37.5 160.5h1.5v1.5h-1.5zM31.5 162.0h1.5v1.5h-1.5zM36.0 162.0h1.5v1.5h-1.5zM33.0 163.5h1.5v1.5h-1.5zM34.5 163.5h1.5v1.5h-1.5zM36.0 163.5h1.5v1.5h-1.5zM33.0 165.0h1.5v1.5h-1.5zM34.5 165.0h1.5v1.5h-1.5zM63.0 148.5h1.5v1.5h-1.5zM64.5 148.5h1.5v1.5h-1.5zM61.5 150.0h1.5v1.5h-1.5zM63.0 150.0h1.5v1.5h-1.5zM64.5 150.0h1.5v1.5h-1.5zM61.5 151.5h1.5v1.5h-1.5zM63.0 151.5h1.5v1.5h-1.5zM66.0 151.5h1.5v1.5h-1.5zM58.5 153.0h1.5v1.5h-1.5zM60.0 153.0h1.5v1.5h-1.5zM66.0 153.0h1.5v1.5h-1.5zM58.5 154.5h1.5v1.5h-1.5zM66.0 154.5h1.5v1.5h-1.5zM57.0 156.0h1.5v1.5h-1.5zM66.0 156.0h1.5v1.5h-1.5zM55.5 157.5h1.5v1.5h-1.5zM57.0 157.5h1.5v1.5h-1.5zM66.0 157.5h1.5v1.5h-1.5zM57.0 159.0h1.5v1.5h-1.5zM66.0 159.0h1.5v1.5h-1.5zM58.5 160.5h1.5v1.5h-1.5zM60.0 160.5h1.5v1.5h-1.5zM66.0 160.5h1.5v1.5h-1.5zM58.5 162.0h1.5v1.5h-1.5zM60.0 162.0h1.5v1.5h-1.5zM64.5 162.0h1.5v1.5h-1.5zM66.0 162.0h1.5v1.5h-1.5zM66.0 163.5h1.5v1.5h-1.5zM54.0 178.5h1.5v1.5h-1.5zM55.5 178.5h1.5v1.5h-1.5zM57.0 178.5h1.5v1.5h-1.5zM51.0 180.0h1.5v1.5h-1.5zM58.5 180.0h1.5v1.5h-1.5zM48.0 181.5h1.5v1.5h-1.5zM49.5 181.5h1.5v1.5h-1.5zM51.0 181.5h1.5v1.5h-1.5zM58.5 183.0h1.5v1.5h-1.5zM49.5 184.5h1.5v1.5h-1.5zM51.0 184.5h1.5v1.5h-1.5zM52.5 184.5h1.5v1.5h-1.5zM67.5 174.0h1.5v1.5h-1.5zM66.0 175.5h1.5v1.5h-1.5zM63.0 177.0h1.5v1.5h-1.5zM67.5 180.0h1.5v1.5h-1.5z"/>
<path fill="#e20000" d="M9.0 9.0h1.5v1.5h-1.5zM7.5 10.5h1.5v1.5h-1.5zM9.0 10.5h1.5v1.5h-1.5zM10.5 10.5h1.5v1.5h-1.5zM6.0 12.0h1.5v1.5h-1.5zM7.5 12.0h1.5v1.5h-1.5zM9.0 12.0h1.5v1.5h-1.5zM6.0 13.5h1.5v1.5h-1.5zM7.5 13.5h1.5v1.5h-1.5zM9.0 13.5h1.5v1.5h-1.5zM10.5 13.5h1.5v1.5h-1.5zM4.5 15.0h1.5v1.5h-1.5zM6.0 15.0h1.5v1.5h-1.5zM7.5 15.0h1.5v1.5h-1.5zM9.0 15.0h1.5v1.5h-1.5zM10.5 15.0h1.5v1.5h-1.5zM4.5 16.5h1.5v1.5h-1.5zM6.0 16.5h1.5v1.5h-1.5zM7.5 16.5h1.5v1.5h-1.5zM9.0 16.5h1.5v1.5h-1.5zM10.5 16.5h1.5v1.5h-1.5zM12.0 16.5h1.5v1.5h-1.5zM1.5 18.0h1.5v1.5h-1.5zM3.0 18.0h1.5v1.5h-1.5zM4.5 18.0h1.5v1.5h-1.5zM6.0 18.0h1.5v1.5h-1.5zM10.5 18.0h1.5v1.5h-1.5zM13.5 18.0h1.5v1.5h-1.5zM1.5 19.5h1.5v1.5h-1.5zM3.0 19.5h1.5v1.5h-1.5zM4.5 19.5h1.5v1.5h-1.5zM10.5 19.5h1.5v1.5h-1.5zM12.0 19.5h1.5v1.5h-1.5zM13.5 19.5h1.5v1.5h-1.5zM1.5 21.0h1.5v1.5h-1.5zM3.0 21.0h1.5v1.5h-1.5zM6.0 21.0h1.5v1.5h-1.5zM10.5 21.0h1.5v1.5h-1.5zM12.0 21.0h1.5v1.5h-1.5zM13.5 21.0h1.5v1.5h-1.5zM3.0 22.5h1.5v1.5h-1.5zM4.5 22.5h1.5v1.5h-1.5zM9.0 22.5h1.5v1.5h-1.5zM10.5 22.5h1.5v1.5h-1.5zM12.0 22.5h1.5v1.5h-1.5zM3.0 24.0h1.5v1.5h-1.5zM4.5 24.0h1.5v1.5h-1.5zM7.5 24.0h1.5v1.5h-1.5zM9.0 24.0h1.5v1.5h-1.5zM10.5 24.0h1.5v1.5h-1.5zM3.0 25.5h1.5v1.5h-1.5zM4.5 25.5h1.5v1.5h-1.5zM6.0 25.5h1.5v1.5h-1.5zM7.5 25.5h1.5v1.5h-1.5zM9.0 25.5h1.5v1.5h-1.5zM10.5 25.5h1.5v1.5h-1.5zM4.5 27.0h1.5v1.5h-1.5zM6.0 27.0h1.5v1.5h-1.5zM7.5 27.0h1.5v1.5h-1.5zM9.0 27.0h1.5v1.5h-1.5zM4.5 28.5h1.5v1.5h-1.5zM6.0 28.5h1.5v1.5h-1.5zM7.5 28.5h1.5v1.5h-1.5zM4.5 30.0h1.5v1.5h-1.5zM6.0 30.0h1.5v1.5h-1.5zM7.5 30.0h1.5v1.5h-1.5zM4.5 31.5h1.5v1.5h-1.5zM39.0 13.5h1.5v1.5h-1.5zM40.5 13.5h1.5v1.5h-1.5zM36.0 15.0h1.5v1.5h-1.5zM37.5 15.0h1.5v1.5h-1.5zM39.0 15.0h1.5v1.5h-1.5zM40.5 15.0h1.5v1.5h-1.5zM42.0 15.0h1.5v1.5h-1.5zM36.0 16.5h1.5v1.5h-1.5zM37.5 16.5h1.5v1.5h-1.5zM39.0 16.5h1.5v1.5h-1.5zM40.5 16.5h1.5v1.5h-1.5zM42.0 16.5h1.5v1.5h-1.5zM36.0 18.0h1.5v1.5h-1.5zM37.5 18.0h1.5v1.5h-1.5zM39.0 18.0h1.5v1.5h-1.5zM40.5 18.0h1.5v1.5h-1.5zM42.0 18.0h1.5v1.5h-1.5zM39.0 19.5h1.5v1.5h-1.5zM40.5 19.5h1.5v1.5h-1.5zM46.5 18.0h1.5v1.5h-1.5zM46.5 19.5h1.5v1.5h-1.5zM48.0 19.5h1.5v1.5h-1.5zM46.5 21.0h1.5v1.5h-1.5zM48.0 21.0h1.5v1.5h-1.5zM42.0 22.5h1.5v1.5h-1.5zM43.5 22.5h1.5v1.5h-1.5zM45.0 22.5h1.5v1.5h-1.5zM48.0 22.5h1.5v1.5h-1.5zM49.5 22.5h1.5v1.5h-1.5zM51.0 22.5h1.5v1.5h-1.5zM52.5 22.5h1.5v1.5h-1.5zM42.0 24.0h1.5v1.5h-1.5zM43.5 24.0h1.5v1.5h-1.5zM45.0 24.0h1.5v1.5h-1.5zM48.0 24.0h1.5v1.5h-1.5zM49.5 24.0h1.5v1.5h-1.5zM51.0 24.0h1.5v1.5h-1.5zM52.5 24.0h1.5v1.5h-1.5zM43.5 25.5h1.5v1.5h-1.5zM45.0 25.5h1.5v1.5h-1.5zM46.5 25.5h1.5v1.5h-1.5zM48.0 25.5h1.5v1.5h-1.5zM51.0 25.5h1.5v1.5h-1.5zM46.5 27.0h1.5v1.5h-1.5zM48.0 27.0h1.5v1.5h-1.5zM55.5 25.5h1.5v1.5h-1.5zM57.0 25.5h1.5v1.5h-1.5zM58.5 25.5h1.5v1.5h-1.5zM52.5 27.0h1.5v1.5h-1.5zM54.0 27.0h1.5v1.5h-1.5zM55.5 27.0h1.5v1.5h-1.5zM57.0 27.0h1.5v1.5h-1.5zM58.5 27.0h1.5v1.5h-1.5zM51.0 28.5h1.5v1.5h-1.5zM52.5 28.5h1.5v1.5h-1.5zM54.0 28.5h1.5v1.5h-1.5zM57.0 28.5h1.5v1.5h-1.5zM58.5 28.5h1.5v1.5h-1.5zM60.0 28.5h1.5v1.5h-1.5zM52.5 30.0h1.5v1.5h-1.5zM54.0 30.0h1.5v1.5h-1.5zM58.5 30.0h1.5v1.5h-1.5zM54.0 31.5h1.5v1.5h-1.5zM55.5 31.5h1.5v1.5h-1.5zM58.5 31.5h1.5v1.5h-1.5zM60.0 31.5h1.5v1.5h-1.5zM55.5 33.0h1.5v1.5h-1.5zM57.0 33.0h1.5v1.5h-1.5zM58.5 33.0h1.5v1.5h-1.5zM60.0 34.5h1.5v1.5h-1.5zM66.0 27.0h1.5v1.5h-1.5zM66.0 28.5h1.5v1.5h-1.5zM67.5 28.5h1.5v1.5h-1.5zM64.5 30.0h1.5v1.5h-1.5zM66.0 30.0h1.5v1.5h-1.5zM67.5 30.0h1.5v1.5h-1.5zM69.0 30.0h1.5v1.5h-1.5zM70.5 30.0h1.5v1.5h-1.5zM64.5 31.5h1.5v1.5h-1.5zM66.0 31.5h1.5v1.5h-1.5zM69.0 31.5h1.5v1.5h-1.5zM70.5 31.5h1.5v1.5h-1.5zM64.5 33.0h1.5v1.5h-1.5zM69.0 33.0h1.5v1.5h-1.5zM70.5 33.0h1.5v1.5h-1.5zM63.0 34.5h1.5v1.5h-1.5zM64.5 34.5h1.5v1.5h-1.5zM66.0 34.5h1.5v1.5h-1.5zM67.5 34.5h1.5v1.5h-1.5zM69.0 34.5h1.5v1.5h-1.5zM70.5 34.5h1.5v1.5h-1.5zM66.0 36.0h1.5v1.5h-1.5zM67.5 36.0h1.5v1.5h-1.5zM69.0 36.0h1.5v1.5h-1.5zM73.5 36.0h1.5v1.5h-1.5zM75.0 36.0h1.5v1.5h-1.5zM72.0 37.5h1.5v1.5h-1.5zM73.5 37.5h1.5v1.5h-1.5zM75.0 37.5h1.5v1.5h-1.5zM76.5 37.5h1.5v1.5h-1.5zM78.0 37.5h1.5v1.5h-1.5zM70.5 39.0h1.5v1.5h-1.5zM72.0 39.0h1.5v1.5h-1.5zM73.5 39.0h1.5v1.5h-1.5zM75.0 39.0h1.5v1.5h-1.5zM76.5 39.0h1.5v1.5h-1.5zM78.0 39.0h1.5v1.5h-1.5zM70.5 40.5h1.5v1.5h-1.5zM72.0 40.5h1.5v1.5h-1.5zM73.5 40.5h1.5v1.5h-1.5zM75.0 40.5h1.5v1.5h-1.5zM76.5 40.5h1.5v1.5h-1.5zM78.0 40.5h1.5v1.5h-1.5zM72.0 42.0h1.5v1.5h-1.5zM73.5 42.0h1.5v1.5h-1.5zM75.0 42.0h1.5v1.5h-1.5zM72.0 43.5h1.5v1.5h-1.5zM48.0 9.0h1.5v1.5h-1.5zM49.5 9.0h1.5v1.5h-1.5zM51.0 9.0h1.5v1.5h-1.5zM48.0 10.5h1.5v1.5h-1.5zM49.5 10.5h1.5v1.5h-1.5zM51.0 10.5h1.5v1.5h-1.5zM52.5 10.5h1.5v1.5h-1.5zM48.0 12.0h1.5v1.5h-1.5zM49.5 12.0h1.5v1.5h-1.5zM48.0 13.5h1.5v1.5h-1.5zM49.5 13.5h1.5v1.5h-1.5zM60.0 16.5h1.5v1.5h-1.5zM58.5 18.0h1.5v1.5h-1.5zM60.0 18.0h1.5v1.5h-1.5zM61.5 18.0h1.5v1.5h-1.5zM63.0 18.0h1.5v1.5h-1.5zM60.0 19.5h1.5v1.5h-1.5zM61.5 19.5h1.5v1.5h-1.5zM63.0 19.5h1.5v1.5h-1.5zM61.5 21.0h1.5v1.5h-1.5zM63.0 21.0h1.5v1.5h-1.5zM45.0 40.5h1.5v1.5h-1.5zM49.5 40.5h1.5v1.5h-1.5zM43.5 42.0h1.5v1.5h-1.5zM45.0 42.0h1.5v1.5h-1.5zM46.5 42.0h1.5v1.5h-1.5zM48.0 42.0h1.5v1.5h-1.5zM49.5 42.0h1.5v1.5h-1.5zM42.0 43.5h1.5v1.5h-1.5zM43.5 43.5h1.5v1.5h-1.5zM45.0 43.5h1.5v1.5h-1.5zM46.5 43.5h1.5v1.5h-1.5zM48.0 43.5h1.5v1.5h-1.5zM49.5 43.5h1.5v1.5h-1.5zM43.5 45.0h1.5v1.5h-1.5zM49.5 45.0h1.5v1.5h-1.5zM43.5 46.5h1.5v1.5h-1.5zM45.0 46.5h1.5v1.5h-1.5zM48.0 46.5h1.5v1.5h-1.5zM49.5 46.5h1.5v1.5h-1.5zM43.5 48.0h1.5v1.5h-1.5zM46.5 48.0h1.5v1.5h-1.5zM48.0 48.0h1.5v1.5h-1.5zM49.5 48.0h1.5v1.5h-1.5zM43.5 49.5h1.5v1.5h-1.5zM45.0 49.5h1.5v1.5h-1.5zM46.5 49.5h1.5v1.5h-1.5zM48.0 49.5h1.5v1.5h-1.5zM49.5 49.5h1.5v1.5h-1.5zM43.5 51.0h1.5v1.5h-1.5zM45.0 51.0h1.5v1.5h-1.5zM46.5 51.0h1.5v1.5h-1.5zM48.0 51.0h1.5v1.5h-1.5zM49.5 51.0h1.5v1.5h-1.5zM46.5 52.5h1.5v1.5h-1.5zM48.0 52.5h1.5v1.5h-1.5zM49.5 52.5h1.5v1.5h-1.5zM52.5 52.5h1.5v1.5h-1.5zM54.0 52.5h1.5v1.5h-1.5zM49.5 54.0h1.5v1.5h-1.5zM51.0 54.0h1.5v1.5h-1.5zM52.5 54.0h1.5v1.5h-1.5zM54.0 54.0h1.5v1.5h-1.5zM49.5 55.5h1.5v1.5h-1.5zM51.0 55.5h1.5v1.5h-1.5zM52.5 55.5h1.5v1.5h-1.5zM49.5 57.0h1.5v1.5h-1.5zM51.0 57.0h1.5v1.5h-1.5zM52.5 57.0h1.5v1.5h-1.5zM54.0 57.0h1.5v1.5h-1.5zM49.5 58.5h1.5v1.5h-1.5zM52.5 58.5h1.5v1.5h-1.5zM55.5 60.0h1.5v1.5h-1.5zM57.0 60.0h1.5v1.5h-1.5zM58.5 60.0h1.5v1.5h-1.5zM55.5 61.5h1.5v1.5h-1.5zM57.0 61.5h1.5v1.5h-1.5zM58.5 61.5h1.5v1.5h-1.5zM60.0 61.5h1.5v1.5h-1.5zM75.0 58.5h1.5v1.5h-1.5zM72.0 60.0h1.5v1.5h-1.5zM73.5 60.0h1.5v1.5h-1.5zM76.5 60.0h1.5v1.5h-1.5zM78.0 60.0h1.5v1.5h-1.5zM73.5 61.5h1.5v1.5h-1.5zM75.0 61.5h1.5v1.5h-1.5zM78.0 61.5h1.5v1.5h-1.5zM73.5 63.0h1.5v1.5h-1.5zM75.0 63.0h1.5v1.5h-1.5zM76.5 63.0h1.5v1.5h-1.5zM78.0 63.0h1.5v1.5h-1.5zM73.5 64.5h1.5v1.5h-1.5zM75.0 64.5h1.5v1.5h-1.5zM84.0 30.0h1.5v1.5h-1.5zM85.5 30.0h1.5v1.5h-1.5zM81.0 31.5h1.5v1.5h-1.5zM82.5 31.5h1.5v1.5h-1.5zM84.0 31.5h1.5v1.5h-1.5zM85.5 31.5h1.5v1.5h-1.5zM79.5 33.0h1.5v1.5h-1.5zM81.0 33.0h1.5v1.5h-1.5zM82.5 33.0h1.5v1.5h-1.5zM84.0 33.0h1.5v1.5h-1.5zM85.5 33.0h1.5v1.5h-1.5zM79.5 34.5h1.5v1.5h-1.5zM81.0 34.5h1.5v1.5h-1.5zM82.5 34.5h1.5v1.5h-1.5zM84.0 34.5h1.5v1.5h-1.5zM85.5 34.5h1.5v1.5h-1.5zM82.5 36.0h1.5v1.5h-1.5zM84.0 36.0h1.5v1.5h-1.5zM84.0 37.5h1.5v1.5h-1.5zM87.0 42.0h1.5v1.5h-1.5zM82.5 43.5h1.5v1.5h-1.5zM84.0 43.5h1.5v1.5h-1.5zM85.5 43.5h1.5v1.5h-1.5zM87.0 43.5h1.5v1.5h-1.5zM84.0 45.0h1.5v1.5h-1.5zM85.5 45.0h1.5v1.5h-1.5zM87.0 45.0h1.5v1.5h-1.5zM82.5 46.5h1.5v1.5h-1.5zM84.0 46.5h1.5v1.5h-1.5zM85.5 46.5h1.5v1.5h-1.5zM87.0 46.5h1.5v1.5h-1.5zM88.5 46.5h1.5v1.5h-1.5zM84.0 48.0h1.5v1.5h-1.5zM87.0 48.0h1.5v1.5h-1.5zM85.5 51.0h1.5v1.5h-1.5zM87.0 51.0h1.5v1.5h-1.5zM88.5 51.0h1.5v1.5h-1.5zM90.0 51.0h1.5v1.5h-1.5zM91.5 51.0h1.5v1.5h-1.5zM85.5 52.5h1.5v1.5h-1.5zM87.0 52.5h1.5v1.5h-1.5zM88.5 52.5h1.5v1.5h-1.5zM90.0 52.5h1.5v1.5h-1.5zM91.5 52.5h1.5v1.5h-1.5zM93.0 52.5h1.5v1.5h-1.5zM87.0 54.0h1.5v1.5h-1.5zM88.5 54.0h1.5v1.5h-1.5zM91.5 54.0h1.5v1.5h-1.5zM87.0 55.5h1.5v1.5h-1.5zM91.5 55.5h1.5v1.5h-1.5zM85.5 57.0h1.5v1.5h-1.5zM87.0 57.0h1.5v1.5h-1.5zM88.5 57.0h1.5v1.5h-1.5zM90.0 57.0h1.5v1.5h-1.5zM91.5 57.0h1.5v1.5h-1.5zM88.5 58.5h1.5v1.5h-1.5zM91.5 58.5h1.5v1.5h-1.5zM94.5 60.0h1.5v1.5h-1.5zM91.5 61.5h1.5v1.5h-1.5zM93.0 61.5h1.5v1.5h-1.5zM94.5 61.5h1.5v1.5h-1.5zM96.0 61.5h1.5v1.5h-1.5zM88.5 63.0h1.5v1.5h-1.5zM90.0 63.0h1.5v1.5h-1.5zM91.5 63.0h1.5v1.5h-1.5zM96.0 63.0h1.5v1.5h-1.5zM88.5 64.5h1.5v1.5h-1.5zM90.0 64.5h1.5v1.5h-1.5zM97.5 64.5h1.5v1.5h-1.5zM90.0 66.0h1.5v1.5h-1.5zM91.5 66.0h1.5v1.5h-1.5zM93.0 66.0h1.5v1.5h-1.5zM96.0 66.0h1.5v1.5h-1.5zM91.5 67.5h1.5v1.5h-1.5zM93.0 67.5h1.5v1.5h-1.5zM94.5 67.5h1.5v1.5h-1.5zM96.0 69.0h1.5v1.5h-1.5zM94.5 67.5h1.5v1.5h-1.5zM93.0 69.0h1.5v1.5h-1.5zM94.5 69.0h1.5v1.5h-1.5zM96.0 69.0h1.5v1.5h-1.5zM97.5 69.0h1.5v1.5h-1.5zM93.0 70.5h1.5v1.5h-1.5zM96.0 70.5h1.5v1.5h-1.5zM97.5 70.5h1.5v1.5h-1.5zM99.0 70.5h1.5v1.5h-1.5zM94.5 72.0h1.5v1.5h-1.5zM96.0 72.0h1.5v1.5h-1.5zM97.5 72.0h1.5v1.5h-1.5zM105.0 61.5h1.5v1.5h-1.5zM108.0 61.5h1.5v1.5h-1.5zM105.0 63.0h1.5v1.5h-1.5zM106.5 63.0h1.5v1.5h-1.5zM108.0 63.0h1.5v1.5h-1.5zM109.5 63.0h1.5v1.5h-1.5zM111.0 63.0h1.5v1.5h-1.5zM103.5 64.5h1.5v1.5h-1.5zM105.0 64.5h1.5v1.5h-1.5zM106.5 64.5h1.5v1.5h-1.5zM108.0 64.5h1.5v1.5h-1.5zM109.5 64.5h1.5v1.5h-1.5zM111.0 64.5h1.5v1.5h-1.5zM105.0 66.0h1.5v1.5h-1.5zM109.5 66.0h1.5v1.5h-1.5zM105.0 67.5h1.5v1.5h-1.5zM106.5 67.5h1.5v1.5h-1.5zM108.0 67.5h1.5v1.5h-1.5zM109.5 67.5h1.5v1.5h-1.5zM111.0 67.5h1.5v1.5h-1.5zM103.5 69.0h1.5v1.5h-1.5zM105.0 69.0h1.5v1.5h-1.5zM109.5 69.0h1.5v1.5h-1.5zM111.0 69.0h1.5v1.5h-1.5zM102.0 70.5h1.5v1.5h-1.5zM103.5 70.5h1.5v1.5h-1.5zM105.0 70.5h1.5v1.5h-1.5zM106.5 70.5h1.5v1.5h-1.5zM108.0 70.5h1.5v1.5h-1.5zM109.5 70.5h1.5v1.5h-1.5zM111.0 70.5h1.5v1.5h-1.5zM102.0 72.0h1.5v1.5h-1.5zM103.5 72.0h1.5v1.5h-1.5zM105.0 72.0h1.5v1.5h-1.5zM108.0 72.0h1.5v1.5h-1.5zM109.5 72.0h1.5v1.5h-1.5zM111.0 72.0h1.5v1.5h-1.5zM109.5 73.5h1.5v1.5h-1.5zM111.0 73.5h1.5v1.5h-1.5zM106.5 75.0h1.5v1.5h-1.5zM108.0 75.0h1.5v1.5h-1.5zM111.0 75.0h1.5v1.5h-1.5zM112.5 75.0h1.5v1.5h-1.5zM114.0 75.0h1.5v1.5h-1.5zM115.5 75.0h1.5v1.5h-1.5zM106.5 76.5h1.5v1.5h-1.5zM108.0 76.5h1.5v1.5h-1.5zM109.5 76.5h1.5v1.5h-1.5zM111.0 76.5h1.5v1.5h-1.5zM112.5 76.5h1.5v1.5h-1.5zM114.0 76.5h1.5v1.5h-1.5zM106.5 78.0h1.5v1.5h-1.5zM108.0 78.0h1.5v1.5h-1.5zM109.5 78.0h1.5v1.5h-1.5zM111.0 78.0h1.5v1.5h-1.5zM112.5 78.0h1.5v1.5h-1.5zM114.0 78.0h1.5v1.5h-1.5zM115.5 78.0h1.5v1.5h-1.5zM108.0 79.5h1.5v1.5h-1.5zM109.5 79.5h1.5v1.5h-1.5zM111.0 79.5h1.5v1.5h-1.5zM112.5 79.5h1.5v1.5h-1.5zM114.0 79.5h1.5v1.5h-1.5zM115.5 79.5h1.5v1.5h-1.5zM108.0 81.0h1.5v1.5h-1.5zM109.5 81.0h1.5v1.5h-1.5zM111.0 81.0h1.5v1.5h-1.5zM112.5 81.0h1.5v1.5h-1.5zM114.0 81.0h1.5v1.5h-1.5zM115.5 81.0h1.5v1.5h-1.5zM108.0 82.5h1.5v1.5h-1.5zM109.5 82.5h1.5v1.5h-1.5zM111.0 82.5h1.5v1.5h-1.5zM112.5 82.5h1.5v1.5h-1.5zM114.0 82.5h1.5v1.5h-1.5zM115.5 82.5h1.5v1.5h-1.5zM109.5 84.0h1.5v1.5h-1.5zM111.0 84.0h1.5v1.5h-1.5zM112.5 84.0h1.5v1.5h-1.5zM114.0 84.0h1.5v1.5h-1.5zM109.5 85.5h1.5v1.5h-1.5zM112.5 85.5h1.5v1.5h-1.5zM111.0 84.0h1.5v1.5h-1.5zM112.5 84.0h1.5v1.5h-1.5zM114.0 84.0h1.5v1.5h-1.5zM115.5 84.0h1.5v1.5h-1.5zM117.0 84.0h1.5v1.5h-1.5zM111.0 85.5h1.5v1.5h-1.5zM112.5 85.5h1.5v1.5h-1.5zM114.0 85.5h1.5v1.5h-1.5zM115.5 85.5h1.5v1.5h-1.5zM117.0 85.5h1.5v1.5h-1.5zM111.0 87.0h1.5v1.5h-1.5zM112.5 87.0h1.5v1.5h-1.5zM114.0 87.0h1.5v1.5h-1.5zM115.5 87.0h1.5v1.5h-1.5zM117.0 87.0h1.5v1.5h-1.5zM118.5 87.0h1.5v1.5h-1.5zM111.0 88.5h1.5v1.5h-1.5zM112.5 88.5h1.5v1.5h-1.5zM114.0 88.5h1.5v1.5h-1.5zM115.5 88.5h1.5v1.5h-1.5zM117.0 88.5h1.5v1.5h-1.5zM118.5 88.5h1.5v1.5h-1.5zM112.5 90.0h1.5v1.5h-1.5zM114.0 90.0h1.5v1.5h-1.5zM117.0 90.0h1.5v1.5h-1.5zM118.5 90.0h1.5v1.5h-1.5zM30.0 90.0h1.5v1.5h-1.5zM27.0 91.5h1.5v1.5h-1.5zM28.5 91.5h1.5v1.5h-1.5zM30.0 91.5h1.5v1.5h-1.5zM31.5 91.5h1.5v1.5h-1.5zM34.5 91.5h1.5v1.5h-1.5zM27.0 93.0h1.5v1.5h-1.5zM31.5 93.0h1.5v1.5h-1.5zM33.0 93.0h1.5v1.5h-1.5zM25.5 94.5h1.5v1.5h-1.5zM27.0 94.5h1.5v1.5h-1.5zM30.0 94.5h1.5v1.5h-1.5zM31.5 94.5h1.5v1.5h-1.5zM33.0 94.5h1.5v1.5h-1.5zM25.5 96.0h1.5v1.5h-1.5zM27.0 96.0h1.5v1.5h-1.5zM28.5 96.0h1.5v1.5h-1.5zM30.0 96.0h1.5v1.5h-1.5zM31.5 96.0h1.5v1.5h-1.5zM33.0 96.0h1.5v1.5h-1.5zM27.0 97.5h1.5v1.5h-1.5zM28.5 97.5h1.5v1.5h-1.5zM30.0 97.5h1.5v1.5h-1.5zM31.5 97.5h1.5v1.5h-1.5zM22.5 102.0h1.5v1.5h-1.5zM24.0 102.0h1.5v1.5h-1.5zM25.5 102.0h1.5v1.5h-1.5zM27.0 102.0h1.5v1.5h-1.5zM28.5 102.0h1.5v1.5h-1.5zM22.5 103.5h1.5v1.5h-1.5zM24.0 103.5h1.5v1.5h-1.5zM25.5 103.5h1.5v1.5h-1.5zM27.0 103.5h1.5v1.5h-1.5zM28.5 103.5h1.5v1.5h-1.5zM24.0 105.0h1.5v1.5h-1.5zM25.5 105.0h1.5v1.5h-1.5zM27.0 105.0h1.5v1.5h-1.5zM28.5 105.0h1.5v1.5h-1.5zM21.0 108.0h1.5v1.5h-1.5zM22.5 108.0h1.5v1.5h-1.5zM24.0 108.0h1.5v1.5h-1.5zM22.5 109.5h1.5v1.5h-1.5zM24.0 109.5h1.5v1.5h-1.5zM25.5 109.5h1.5v1.5h-1.5zM21.0 111.0h1.5v1.5h-1.5zM22.5 111.0h1.5v1.5h-1.5zM24.0 111.0h1.5v1.5h-1.5zM25.5 111.0h1.5v1.5h-1.5zM24.0 112.5h1.5v1.5h-1.5zM25.5 112.5h1.5v1.5h-1.5zM3.0 99.0h1.5v1.5h-1.5zM1.5 100.5h1.5v1.5h-1.5zM3.0 100.5h1.5v1.5h-1.5zM4.5 100.5h1.5v1.5h-1.5zM6.0 100.5h1.5v1.5h-1.5zM1.5 102.0h1.5v1.5h-1.5zM3.0 102.0h1.5v1.5h-1.5zM4.5 102.0h1.5v1.5h-1.5zM6.0 102.0h1.5v1.5h-1.5zM6.0 103.5h1.5v1.5h-1.5zM63.0 100.5h1.5v1.5h-1.5zM55.5 102.0h1.5v1.5h-1.5zM57.0 102.0h1.5v1.5h-1.5zM58.5 102.0h1.5v1.5h-1.5zM60.0 102.0h1.5v1.5h-1.5zM61.5 102.0h1.5v1.5h-1.5zM63.0 102.0h1.5v1.5h-1.5zM64.5 102.0h1.5v1.5h-1.5zM54.0 103.5h1.5v1.5h-1.5zM55.5 103.5h1.5v1.5h-1.5zM60.0 103.5h1.5v1.5h-1.5zM61.5 103.5h1.5v1.5h-1.5zM63.0 103.5h1.5v1.5h-1.5zM55.5 105.0h1.5v1.5h-1.5zM57.0 105.0h1.5v1.5h-1.5zM61.5 105.0h1.5v1.5h-1.5zM64.5 105.0h1.5v1.5h-1.5zM55.5 106.5h1.5v1.5h-1.5zM57.0 106.5h1.5v1.5h-1.5zM58.5 106.5h1.5v1.5h-1.5zM60.0 106.5h1.5v1.5h-1.5zM61.5 106.5h1.5v1.5h-1.5zM60.0 108.0h1.5v1.5h-1.5zM75.0 100.5h1.5v1.5h-1.5zM72.0 102.0h1.5v1.5h-1.5zM73.5 102.0h1.5v1.5h-1.5zM75.0 102.0h1.5v1.5h-1.5zM76.5 102.0h1.5v1.5h-1.5zM79.5 102.0h1.5v1.5h-1.5zM81.0 102.0h1.5v1.5h-1.5zM82.5 102.0h1.5v1.5h-1.5zM72.0 103.5h1.5v1.5h-1.5zM73.5 103.5h1.5v1.5h-1.5zM75.0 103.5h1.5v1.5h-1.5zM76.5 103.5h1.5v1.5h-1.5zM79.5 103.5h1.5v1.5h-1.5zM81.0 103.5h1.5v1.5h-1.5zM82.5 103.5h1.5v1.5h-1.5zM84.0 103.5h1.5v1.5h-1.5zM85.5 103.5h1.5v1.5h-1.5zM88.5 103.5h1.5v1.5h-1.5zM72.0 105.0h1.5v1.5h-1.5zM73.5 105.0h1.5v1.5h-1.5zM75.0 105.0h1.5v1.5h-1.5zM76.5 105.0h1.5v1.5h-1.5zM79.5 105.0h1.5v1.5h-1.5zM84.0 105.0h1.5v1.5h-1.5zM85.5 105.0h1.5v1.5h-1.5zM87.0 105.0h1.5v1.5h-1.5zM88.5 105.0h1.5v1.5h-1.5zM90.0 105.0h1.5v1.5h-1.5zM72.0 106.5h1.5v1.5h-1.5zM73.5 106.5h1.5v1.5h-1.5zM75.0 106.5h1.5v1.5h-1.5zM76.5 106.5h1.5v1.5h-1.5zM79.5 106.5h1.5v1.5h-1.5zM81.0 106.5h1.5v1.5h-1.5zM82.5 106.5h1.5v1.5h-1.5zM84.0 106.5h1.5v1.5h-1.5zM85.5 106.5h1.5v1.5h-1.5zM87.0 106.5h1.5v1.5h-1.5zM88.5 106.5h1.5v1.5h-1.5zM75.0 108.0h1.5v1.5h-1.5zM76.5 108.0h1.5v1.5h-1.5zM78.0 108.0h1.5v1.5h-1.5zM79.5 108.0h1.5v1.5h-1.5zM81.0 108.0h1.5v1.5h-1.5zM75.0 109.5h1.5v1.5h-1.5zM79.5 109.5h1.5v1.5h-1.5zM75.0 88.5h1.5v1.5h-1.5zM76.5 88.5h1.5v1.5h-1.5zM78.0 88.5h1.5v1.5h-1.5zM75.0 90.0h1.5v1.5h-1.5zM76.5 90.0h1.5v1.5h-1.5zM76.5 91.5h1.5v1.5h-1.5zM46.5 115.5h1.5v1.5h-1.5zM45.0 117.0h1.5v1.5h-1.5zM46.5 117.0h1.5v1.5h-1.5zM48.0 117.0h1.5v1.5h-1.5zM45.0 118.5h1.5v1.5h-1.5zM46.5 118.5h1.5v1.5h-1.5zM55.5 112.5h1.5v1.5h-1.5zM57.0 112.5h1.5v1.5h-1.5zM55.5 114.0h1.5v1.5h-1.5zM57.0 114.0h1.5v1.5h-1.5zM55.5 115.5h1.5v1.5h-1.5zM57.0 115.5h1.5v1.5h-1.5zM48.0 135.0h1.5v1.5h-1.5zM45.0 136.5h1.5v1.5h-1.5zM46.5 136.5h1.5v1.5h-1.5zM48.0 136.5h1.5v1.5h-1.5zM49.5 136.5h1.5v1.5h-1.5zM51.0 136.5h1.5v1.5h-1.5zM45.0 138.0h1.5v1.5h-1.5zM48.0 138.0h1.5v1.5h-1.5zM49.5 138.0h1.5v1.5h-1.5zM51.0 138.0h1.5v1.5h-1.5zM52.5 138.0h1.5v1.5h-1.5zM54.0 138.0h1.5v1.5h-1.5zM55.5 138.0h1.5v1.5h-1.5zM57.0 138.0h1.5v1.5h-1.5zM43.5 139.5h1.5v1.5h-1.5zM45.0 139.5h1.5v1.5h-1.5zM46.5 139.5h1.5v1.5h-1.5zM54.0 139.5h1.5v1.5h-1.5zM55.5 139.5h1.5v1.5h-1.5zM57.0 139.5h1.5v1.5h-1.5zM43.5 141.0h1.5v1.5h-1.5zM45.0 141.0h1.5v1.5h-1.5zM46.5 141.0h1.5v1.5h-1.5zM48.0 141.0h1.5v1.5h-1.5zM49.5 141.0h1.5v1.5h-1.5zM51.0 141.0h1.5v1.5h-1.5zM52.5 141.0h1.5v1.5h-1.5zM54.0 141.0h1.5v1.5h-1.5zM43.5 142.5h1.5v1.5h-1.5zM45.0 142.5h1.5v1.5h-1.5zM46.5 142.5h1.5v1.5h-1.5zM49.5 142.5h1.5v1.5h-1.5zM51.0 142.5h1.5v1.5h-1.5zM52.5 142.5h1.5v1.5h-1.5zM46.5 144.0h1.5v1.5h-1.5zM45.0 148.5h1.5v1.5h-1.5zM46.5 148.5h1.5v1.5h-1.5zM48.0 148.5h1.5v1.5h-1.5zM49.5 148.5h1.5v1.5h-1.5zM51.0 148.5h1.5v1.5h-1.5zM52.5 148.5h1.5v1.5h-1.5zM43.5 150.0h1.5v1.5h-1.5zM45.0 150.0h1.5v1.5h-1.5zM46.5 150.0h1.5v1.5h-1.5zM49.5 150.0h1.5v1.5h-1.5zM51.0 150.0h1.5v1.5h-1.5zM52.5 150.0h1.5v1.5h-1.5zM54.0 150.0h1.5v1.5h-1.5zM48.0 151.5h1.5v1.5h-1.5zM49.5 151.5h1.5v1.5h-1.5zM51.0 151.5h1.5v1.5h-1.5zM52.5 151.5h1.5v1.5h-1.5zM48.0 153.0h1.5v1.5h-1.5zM70.5 142.5h1.5v1.5h-1.5zM72.0 142.5h1.5v1.5h-1.5zM73.5 142.5h1.5v1.5h-1.5zM70.5 144.0h1.5v1.5h-1.5zM73.5 144.0h1.5v1.5h-1.5zM75.0 144.0h1.5v1.5h-1.5zM69.0 145.5h1.5v1.5h-1.5zM70.5 145.5h1.5v1.5h-1.5zM73.5 145.5h1.5v1.5h-1.5zM75.0 145.5h1.5v1.5h-1.5zM70.5 147.0h1.5v1.5h-1.5zM72.0 147.0h1.5v1.5h-1.5zM73.5 147.0h1.5v1.5h-1.5zM30.0 141.0h1.5v1.5h-1.5zM30.0 142.5h1.5v1.5h-1.5zM31.5 142.5h1.5v1.5h-1.5zM31.5 153.0h1.5v1.5h-1.5zM33.0 153.0h1.5v1.5h-1.5zM34.5 153.0h1.5v1.5h-1.5zM31.5 154.5h1.5v1.5h-1.5zM33.0 154.5h1.5v1.5h-1.5zM34.5 154.5h1.5v1.5h-1.5zM36.0 154.5h1.5v1.5h-1.5zM33.0 156.0h1.5v1.5h-1.5zM36.0 156.0h1.5v1.5h-1.5zM33.0 157.5h1.5v1.5h-1.5zM34.5 157.5h1.5v1.5h-1.5zM36.0 157.5h1.5v1.5h-1.5zM33.0 159.0h1.5v1.5h-1.5zM36.0 159.0h1.5v1.5h-1.5zM31.5 160.5h1.5v1.5h-1.5zM33.0 160.5h1.5v1.5h-1.5zM34.5 160.5h1.5v1.5h-1.5zM36.0 160.5h1.5v1.5h-1.5zM33.0 162.0h1.5v1.5h-1.5zM34.5 162.0h1.5v1.5h-1.5zM64.5 151.5h1.5v1.5h-1.5zM61.5 153.0h1.5v1.5h-1.5zM63.0 153.0h1.5v1.5h-1.5zM64.5 153.0h1.5v1.5h-1.5zM60.0 154.5h1.5v1.5h-1.5zM64.5 154.5h1.5v1.5h-1.5zM58.5 156.0h1.5v1.5h-1.5zM60.0 156.0h1.5v1.5h-1.5zM64.5 156.0h1.5v1.5h-1.5zM58.5 157.5h1.5v1.5h-1.5zM60.0 157.5h1.5v1.5h-1.5zM64.5 157.5h1.5v1.5h-1.5zM58.5 159.0h1.5v1.5h-1.5zM60.0 159.0h1.5v1.5h-1.5zM61.5 159.0h1.5v1.5h-1.5zM63.0 159.0h1.5v1.5h-1.5zM64.5 159.0h1.5v1.5h-1.5zM61.5 160.5h1.5v1.5h-1.5zM63.0 160.5h1.5v1.5h-1.5zM64.5 160.5h1.5v1.5h-1.5zM63.0 162.0h1.5v1.5h-1.5zM52.5 180.0h1.5v1.5h-1.5zM54.0 180.0h1.5v1.5h-1.5zM55.5 180.0h1.5v1.5h-1.5zM57.0 180.0h1.5v1.5h-1.5zM52.5 181.5h1.5v1.5h-1.5zM54.0 181.5h1.5v1.5h-1.5zM57.0 181.5h1.5v1.5h-1.5zM49.5 183.0h1.5v1.5h-1.5zM51.0 183.0h1.5v1.5h-1.5zM57.0 183.0h1.5v1.5h-1.5zM54.0 184.5h1.5v1.5h-1.5zM55.5 184.5h1.5v1.5h-1.5zM57.0 184.5h1.5v1.5h-1.5zM58.5 184.5h1.5v1.5h-1.5zM67.5 175.5h1.5v1.5h-1.5zM64.5 177.0h1.5v1.5h-1.5zM66.0 177.0h1.5v1.5h-1.5zM67.5 177.0h1.5v1.5h-1.5zM66.0 178.5h1.5v1.5h-1.5zM67.5 178.5h1.5v1.5h-1.5z"/>
<path fill="#ff3800" d="M7.5 18.0h1.5v1.5h-1.5zM9.0 18.0h1.5v1.5h-1.5zM6.0 19.5h1.5v1.5h-1.5zM9.0 19.5h1.5v1.5h-1.5zM4.5 21.0h1.5v1.5h-1.5zM9.0 21.0h1.5v1.5h-1.5zM6.0 22.5h1.5v1.5h-1.5zM6.0 24.0h1.5v1.5h-1.5zM46.5 22.5h1.5v1.5h-1.5zM46.5 24.0h1.5v1.5h-1.5zM55.5 30.0h1.5v1.5h-1.5zM57.0 30.0h1.5v1.5h-1.5zM57.0 31.5h1.5v1.5h-1.5zM67.5 31.5h1.5v1.5h-1.5zM66.0 33.0h1.5v1.5h-1.5zM67.5 33.0h1.5v1.5h-1.5zM45.0 45.0h1.5v1.5h-1.5zM46.5 45.0h1.5v1.5h-1.5zM48.0 45.0h1.5v1.5h-1.5zM45.0 48.0h1.5v1.5h-1.5zM75.0 60.0h1.5v1.5h-1.5zM76.5 61.5h1.5v1.5h-1.5zM90.0 54.0h1.5v1.5h-1.5zM88.5 55.5h1.5v1.5h-1.5zM90.0 55.5h1.5v1.5h-1.5zM93.0 63.0h1.5v1.5h-1.5zM94.5 63.0h1.5v1.5h-1.5zM91.5 64.5h1.5v1.5h-1.5zM93.0 64.5h1.5v1.5h-1.5zM94.5 64.5h1.5v1.5h-1.5zM94.5 66.0h1.5v1.5h-1.5zM94.5 70.5h1.5v1.5h-1.5zM106.5 66.0h1.5v1.5h-1.5zM108.0 66.0h1.5v1.5h-1.5zM106.5 69.0h1.5v1.5h-1.5zM108.0 69.0h1.5v1.5h-1.5zM28.5 93.0h1.5v1.5h-1.5zM30.0 93.0h1.5v1.5h-1.5zM28.5 94.5h1.5v1.5h-1.5zM57.0 103.5h1.5v1.5h-1.5zM58.5 103.5h1.5v1.5h-1.5zM58.5 105.0h1.5v1.5h-1.5zM60.0 105.0h1.5v1.5h-1.5zM78.0 103.5h1.5v1.5h-1.5zM78.0 105.0h1.5v1.5h-1.5zM81.0 105.0h1.5v1.5h-1.5zM82.5 105.0h1.5v1.5h-1.5zM78.0 106.5h1.5v1.5h-1.5zM46.5 138.0h1.5v1.5h-1.5zM51.0 139.5h1.5v1.5h-1.5zM52.5 139.5h1.5v1.5h-1.5zM48.0 150.0h1.5v1.5h-1.5zM72.0 144.0h1.5v1.5h-1.5zM72.0 145.5h1.5v1.5h-1.5zM34.5 156.0h1.5v1.5h-1.5zM34.5 159.0h1.5v1.5h-1.5zM61.5 154.5h1.5v1.5h-1.5zM63.0 154.5h1.5v1.5h-1.5zM61.5 156.0h1.5v1.5h-1.5zM63.0 156.0h1.5v1.5h-1.5zM61.5 157.5h1.5v1.5h-1.5zM63.0 157.5h1.5v1.5h-1.5zM55.5 181.5h1.5v1.5h-1.5zM52.5 183.0h1.5v1.5h-1.5zM54.0 183.0h1.5v1.5h-1.5zM55.5 183.0h1.5v1.5h-1.5z"/>
<path fill="#ffa000" d="M7.5 19.5h1.5v1.5h-1.5zM7.5 21.0h1.5v1.5h-1.5zM7.5 22.5h1.5v1.5h-1.5zM55.5 28.5h1.5v1.5h-1.5zM46.5 46.5h1.5v1.5h-1.5zM48.0 139.5h1.5v1.5h-1.5zM49.5 139.5h1.5v1.5h-1.5z"/>
</g>
<g transform="translate(3,2)"><use href="#bover"/>
<text x="89" y="79" font-family="Liberation Sans, sans-serif" font-weight="bold" font-size="7" fill="#fff" textLength="7.5" lengthAdjust="spacingAndGlyphs">V3</text></g>
<path id="ips_bc1" d="M1.4 22.5 C20 22 42 28 63 45" fill="none"/>
<text font-family="Liberation Sans, sans-serif" font-weight="bold" font-size="7.3" fill="#fff"><textPath href="#ips_bc1" textLength="60" lengthAdjust="spacingAndGlyphs">intraparietal sulcus</textPath></text>
<use href="#bfixed"/>
<text x="59.6" y="198.6" font-family="Liberation Sans, sans-serif" font-size="9.5" fill="#eee">6</text>
</g></g>
<clipPath id="bc2"><rect x="1" y="1" width="135.3" height="204.2"/></clipPath>
<g transform="translate(221,872)"><g clip-path="url(#bc2)">
<use href="#brainbase" transform="translate(-3,2)"/>
<g filter="url(#rblob)">
<path fill="#bc0000" d="M13.5 0.0h1.5v1.5h-1.5zM13.5 3.0h1.5v1.5h-1.5zM16.5 3.0h1.5v1.5h-1.5zM9.0 4.5h1.5v1.5h-1.5zM12.0 4.5h1.5v1.5h-1.5zM16.5 4.5h1.5v1.5h-1.5zM7.5 6.0h1.5v1.5h-1.5zM9.0 6.0h1.5v1.5h-1.5zM16.5 6.0h1.5v1.5h-1.5zM7.5 7.5h1.5v1.5h-1.5zM9.0 7.5h1.5v1.5h-1.5zM10.5 9.0h1.5v1.5h-1.5zM18.0 9.0h1.5v1.5h-1.5zM16.5 10.5h1.5v1.5h-1.5zM12.0 12.0h1.5v1.5h-1.5zM13.5 12.0h1.5v1.5h-1.5zM13.5 13.5h1.5v1.5h-1.5zM28.5 3.0h1.5v1.5h-1.5zM30.0 3.0h1.5v1.5h-1.5zM27.0 4.5h1.5v1.5h-1.5zM31.5 4.5h1.5v1.5h-1.5zM33.0 4.5h1.5v1.5h-1.5zM24.0 6.0h1.5v1.5h-1.5zM34.5 6.0h1.5v1.5h-1.5zM24.0 7.5h1.5v1.5h-1.5zM27.0 7.5h1.5v1.5h-1.5zM28.5 9.0h1.5v1.5h-1.5zM30.0 10.5h1.5v1.5h-1.5zM4.5 16.5h1.5v1.5h-1.5zM3.0 18.0h1.5v1.5h-1.5zM4.5 18.0h1.5v1.5h-1.5zM6.0 19.5h1.5v1.5h-1.5zM0.0 21.0h1.5v1.5h-1.5zM6.0 21.0h1.5v1.5h-1.5zM-3.0 22.5h1.5v1.5h-1.5zM6.0 22.5h1.5v1.5h-1.5zM-3.0 24.0h1.5v1.5h-1.5zM-1.5 24.0h1.5v1.5h-1.5zM6.0 24.0h1.5v1.5h-1.5zM-1.5 27.0h1.5v1.5h-1.5zM0.0 27.0h1.5v1.5h-1.5zM4.5 27.0h1.5v1.5h-1.5zM-1.5 28.5h1.5v1.5h-1.5zM0.0 28.5h1.5v1.5h-1.5zM3.0 28.5h1.5v1.5h-1.5zM4.5 28.5h1.5v1.5h-1.5zM6.0 28.5h1.5v1.5h-1.5zM1.5 30.0h1.5v1.5h-1.5zM3.0 30.0h1.5v1.5h-1.5zM4.5 30.0h1.5v1.5h-1.5zM45.0 7.5h1.5v1.5h-1.5zM46.5 7.5h1.5v1.5h-1.5zM48.0 7.5h1.5v1.5h-1.5zM43.5 9.0h1.5v1.5h-1.5zM45.0 10.5h1.5v1.5h-1.5zM48.0 10.5h1.5v1.5h-1.5zM57.0 16.5h1.5v1.5h-1.5zM58.5 16.5h1.5v1.5h-1.5zM61.5 16.5h1.5v1.5h-1.5zM54.0 18.0h1.5v1.5h-1.5zM63.0 18.0h1.5v1.5h-1.5zM54.0 19.5h1.5v1.5h-1.5zM57.0 21.0h1.5v1.5h-1.5zM63.0 21.0h1.5v1.5h-1.5zM64.5 21.0h1.5v1.5h-1.5zM61.5 22.5h1.5v1.5h-1.5zM63.0 22.5h1.5v1.5h-1.5zM43.5 22.5h1.5v1.5h-1.5zM45.0 22.5h1.5v1.5h-1.5zM46.5 22.5h1.5v1.5h-1.5zM48.0 22.5h1.5v1.5h-1.5zM43.5 24.0h1.5v1.5h-1.5zM45.0 25.5h1.5v1.5h-1.5zM48.0 25.5h1.5v1.5h-1.5zM63.0 24.0h1.5v1.5h-1.5zM61.5 25.5h1.5v1.5h-1.5zM69.0 25.5h1.5v1.5h-1.5zM61.5 27.0h1.5v1.5h-1.5zM69.0 27.0h1.5v1.5h-1.5zM63.0 28.5h1.5v1.5h-1.5zM76.5 27.0h1.5v1.5h-1.5zM79.5 28.5h1.5v1.5h-1.5zM76.5 30.0h1.5v1.5h-1.5zM84.0 30.0h1.5v1.5h-1.5zM75.0 31.5h1.5v1.5h-1.5zM76.5 31.5h1.5v1.5h-1.5zM82.5 31.5h1.5v1.5h-1.5zM75.0 33.0h1.5v1.5h-1.5zM82.5 33.0h1.5v1.5h-1.5zM84.0 33.0h1.5v1.5h-1.5zM82.5 34.5h1.5v1.5h-1.5zM79.5 36.0h1.5v1.5h-1.5zM79.5 37.5h1.5v1.5h-1.5zM85.5 37.5h1.5v1.5h-1.5zM87.0 37.5h1.5v1.5h-1.5zM88.5 37.5h1.5v1.5h-1.5zM84.0 39.0h1.5v1.5h-1.5zM85.5 39.0h1.5v1.5h-1.5zM82.5 40.5h1.5v1.5h-1.5zM84.0 40.5h1.5v1.5h-1.5zM90.0 40.5h1.5v1.5h-1.5zM85.5 42.0h1.5v1.5h-1.5zM91.5 42.0h1.5v1.5h-1.5zM88.5 43.5h1.5v1.5h-1.5zM90.0 43.5h1.5v1.5h-1.5zM91.5 43.5h1.5v1.5h-1.5zM85.5 45.0h1.5v1.5h-1.5zM87.0 45.0h1.5v1.5h-1.5zM88.5 45.0h1.5v1.5h-1.5zM90.0 45.0h1.5v1.5h-1.5zM12.0 39.0h1.5v1.5h-1.5zM13.5 40.5h1.5v1.5h-1.5zM9.0 42.0h1.5v1.5h-1.5zM13.5 42.0h1.5v1.5h-1.5zM12.0 43.5h1.5v1.5h-1.5zM43.5 46.5h1.5v1.5h-1.5zM43.5 48.0h1.5v1.5h-1.5zM42.0 49.5h1.5v1.5h-1.5zM45.0 49.5h1.5v1.5h-1.5zM40.5 51.0h1.5v1.5h-1.5zM40.5 52.5h1.5v1.5h-1.5zM43.5 55.5h1.5v1.5h-1.5zM88.5 61.5h1.5v1.5h-1.5zM88.5 63.0h1.5v1.5h-1.5zM90.0 63.0h1.5v1.5h-1.5zM93.0 63.0h1.5v1.5h-1.5zM94.5 63.0h1.5v1.5h-1.5zM87.0 64.5h1.5v1.5h-1.5zM88.5 64.5h1.5v1.5h-1.5zM96.0 64.5h1.5v1.5h-1.5zM97.5 64.5h1.5v1.5h-1.5zM87.0 66.0h1.5v1.5h-1.5zM97.5 66.0h1.5v1.5h-1.5zM88.5 67.5h1.5v1.5h-1.5zM96.0 67.5h1.5v1.5h-1.5zM97.5 67.5h1.5v1.5h-1.5zM87.0 69.0h1.5v1.5h-1.5zM88.5 69.0h1.5v1.5h-1.5zM90.0 69.0h1.5v1.5h-1.5zM93.0 69.0h1.5v1.5h-1.5zM94.5 69.0h1.5v1.5h-1.5zM96.0 69.0h1.5v1.5h-1.5zM91.5 70.5h1.5v1.5h-1.5zM93.0 70.5h1.5v1.5h-1.5zM94.5 70.5h1.5v1.5h-1.5zM96.0 70.5h1.5v1.5h-1.5zM106.5 60.0h1.5v1.5h-1.5zM105.0 61.5h1.5v1.5h-1.5zM106.5 61.5h1.5v1.5h-1.5zM108.0 61.5h1.5v1.5h-1.5zM109.5 61.5h1.5v1.5h-1.5zM105.0 63.0h1.5v1.5h-1.5zM106.5 63.0h1.5v1.5h-1.5zM109.5 63.0h1.5v1.5h-1.5zM111.0 63.0h1.5v1.5h-1.5zM100.5 64.5h1.5v1.5h-1.5zM102.0 64.5h1.5v1.5h-1.5zM103.5 64.5h1.5v1.5h-1.5zM105.0 64.5h1.5v1.5h-1.5zM109.5 64.5h1.5v1.5h-1.5zM111.0 64.5h1.5v1.5h-1.5zM112.5 64.5h1.5v1.5h-1.5zM99.0 66.0h1.5v1.5h-1.5zM100.5 66.0h1.5v1.5h-1.5zM102.0 66.0h1.5v1.5h-1.5zM103.5 66.0h1.5v1.5h-1.5zM112.5 66.0h1.5v1.5h-1.5zM114.0 66.0h1.5v1.5h-1.5zM99.0 67.5h1.5v1.5h-1.5zM100.5 67.5h1.5v1.5h-1.5zM112.5 67.5h1.5v1.5h-1.5zM114.0 67.5h1.5v1.5h-1.5zM99.0 69.0h1.5v1.5h-1.5zM100.5 69.0h1.5v1.5h-1.5zM114.0 69.0h1.5v1.5h-1.5zM112.5 70.5h1.5v1.5h-1.5zM114.0 70.5h1.5v1.5h-1.5zM100.5 72.0h1.5v1.5h-1.5zM102.0 72.0h1.5v1.5h-1.5zM112.5 72.0h1.5v1.5h-1.5zM102.0 73.5h1.5v1.5h-1.5zM103.5 73.5h1.5v1.5h-1.5zM105.0 73.5h1.5v1.5h-1.5zM111.0 73.5h1.5v1.5h-1.5zM112.5 73.5h1.5v1.5h-1.5zM105.0 75.0h1.5v1.5h-1.5zM106.5 75.0h1.5v1.5h-1.5zM111.0 75.0h1.5v1.5h-1.5zM112.5 75.0h1.5v1.5h-1.5zM106.5 76.5h1.5v1.5h-1.5zM108.0 76.5h1.5v1.5h-1.5zM109.5 76.5h1.5v1.5h-1.5zM111.0 76.5h1.5v1.5h-1.5zM106.5 78.0h1.5v1.5h-1.5zM108.0 78.0h1.5v1.5h-1.5zM109.5 78.0h1.5v1.5h-1.5zM106.5 79.5h1.5v1.5h-1.5zM108.0 79.5h1.5v1.5h-1.5zM109.5 79.5h1.5v1.5h-1.5zM120.0 55.5h1.5v1.5h-1.5zM121.5 55.5h1.5v1.5h-1.5zM120.0 57.0h1.5v1.5h-1.5zM121.5 57.0h1.5v1.5h-1.5zM118.5 58.5h1.5v1.5h-1.5zM118.5 60.0h1.5v1.5h-1.5zM123.0 60.0h1.5v1.5h-1.5zM118.5 61.5h1.5v1.5h-1.5zM123.0 61.5h1.5v1.5h-1.5zM117.0 64.5h1.5v1.5h-1.5zM123.0 64.5h1.5v1.5h-1.5zM117.0 66.0h1.5v1.5h-1.5zM118.5 66.0h1.5v1.5h-1.5zM121.5 66.0h1.5v1.5h-1.5zM118.5 67.5h1.5v1.5h-1.5zM120.0 67.5h1.5v1.5h-1.5zM76.5 78.0h1.5v1.5h-1.5zM78.0 81.0h1.5v1.5h-1.5zM81.0 81.0h1.5v1.5h-1.5zM25.5 84.0h1.5v1.5h-1.5zM25.5 85.5h1.5v1.5h-1.5zM27.0 85.5h1.5v1.5h-1.5zM28.5 85.5h1.5v1.5h-1.5zM18.0 87.0h1.5v1.5h-1.5zM19.5 87.0h1.5v1.5h-1.5zM21.0 87.0h1.5v1.5h-1.5zM22.5 87.0h1.5v1.5h-1.5zM27.0 87.0h1.5v1.5h-1.5zM28.5 87.0h1.5v1.5h-1.5zM18.0 88.5h1.5v1.5h-1.5zM19.5 88.5h1.5v1.5h-1.5zM28.5 88.5h1.5v1.5h-1.5zM19.5 90.0h1.5v1.5h-1.5zM27.0 90.0h1.5v1.5h-1.5zM27.0 91.5h1.5v1.5h-1.5zM27.0 93.0h1.5v1.5h-1.5zM25.5 94.5h1.5v1.5h-1.5zM36.0 94.5h1.5v1.5h-1.5zM34.5 96.0h1.5v1.5h-1.5zM39.0 96.0h1.5v1.5h-1.5zM34.5 97.5h1.5v1.5h-1.5zM36.0 97.5h1.5v1.5h-1.5zM37.5 97.5h1.5v1.5h-1.5zM70.5 88.5h1.5v1.5h-1.5zM72.0 88.5h1.5v1.5h-1.5zM73.5 88.5h1.5v1.5h-1.5zM67.5 90.0h1.5v1.5h-1.5zM69.0 90.0h1.5v1.5h-1.5zM73.5 90.0h1.5v1.5h-1.5zM75.0 90.0h1.5v1.5h-1.5zM75.0 91.5h1.5v1.5h-1.5zM69.0 93.0h1.5v1.5h-1.5zM70.5 94.5h1.5v1.5h-1.5zM90.0 96.0h1.5v1.5h-1.5zM93.0 99.0h1.5v1.5h-1.5zM90.0 100.5h1.5v1.5h-1.5zM93.0 102.0h1.5v1.5h-1.5zM79.5 100.5h1.5v1.5h-1.5zM82.5 100.5h1.5v1.5h-1.5zM78.0 102.0h1.5v1.5h-1.5zM79.5 102.0h1.5v1.5h-1.5zM81.0 102.0h1.5v1.5h-1.5zM82.5 102.0h1.5v1.5h-1.5zM78.0 103.5h1.5v1.5h-1.5zM79.5 103.5h1.5v1.5h-1.5zM81.0 103.5h1.5v1.5h-1.5zM82.5 103.5h1.5v1.5h-1.5zM84.0 103.5h1.5v1.5h-1.5zM76.5 105.0h1.5v1.5h-1.5zM78.0 105.0h1.5v1.5h-1.5zM82.5 105.0h1.5v1.5h-1.5zM84.0 105.0h1.5v1.5h-1.5zM78.0 106.5h1.5v1.5h-1.5zM84.0 106.5h1.5v1.5h-1.5zM84.0 108.0h1.5v1.5h-1.5zM85.5 108.0h1.5v1.5h-1.5zM75.0 109.5h1.5v1.5h-1.5zM85.5 109.5h1.5v1.5h-1.5zM75.0 111.0h1.5v1.5h-1.5zM76.5 111.0h1.5v1.5h-1.5zM85.5 111.0h1.5v1.5h-1.5zM82.5 112.5h1.5v1.5h-1.5zM84.0 112.5h1.5v1.5h-1.5zM75.0 114.0h1.5v1.5h-1.5zM76.5 114.0h1.5v1.5h-1.5zM76.5 115.5h1.5v1.5h-1.5zM78.0 115.5h1.5v1.5h-1.5zM81.0 115.5h1.5v1.5h-1.5zM82.5 115.5h1.5v1.5h-1.5zM78.0 117.0h1.5v1.5h-1.5zM81.0 117.0h1.5v1.5h-1.5zM16.5 108.0h1.5v1.5h-1.5zM10.5 109.5h1.5v1.5h-1.5zM18.0 109.5h1.5v1.5h-1.5zM9.0 111.0h1.5v1.5h-1.5zM10.5 111.0h1.5v1.5h-1.5zM18.0 111.0h1.5v1.5h-1.5zM10.5 112.5h1.5v1.5h-1.5zM18.0 112.5h1.5v1.5h-1.5zM10.5 114.0h1.5v1.5h-1.5zM18.0 114.0h1.5v1.5h-1.5zM10.5 115.5h1.5v1.5h-1.5zM12.0 115.5h1.5v1.5h-1.5zM16.5 115.5h1.5v1.5h-1.5zM18.0 115.5h1.5v1.5h-1.5zM13.5 117.0h1.5v1.5h-1.5zM15.0 117.0h1.5v1.5h-1.5zM16.5 117.0h1.5v1.5h-1.5zM58.5 112.5h1.5v1.5h-1.5zM60.0 112.5h1.5v1.5h-1.5zM54.0 114.0h1.5v1.5h-1.5zM55.5 114.0h1.5v1.5h-1.5zM57.0 114.0h1.5v1.5h-1.5zM60.0 114.0h1.5v1.5h-1.5zM52.5 115.5h1.5v1.5h-1.5zM61.5 115.5h1.5v1.5h-1.5zM52.5 117.0h1.5v1.5h-1.5zM60.0 118.5h1.5v1.5h-1.5zM60.0 120.0h1.5v1.5h-1.5zM55.5 121.5h1.5v1.5h-1.5zM57.0 121.5h1.5v1.5h-1.5zM48.0 120.0h1.5v1.5h-1.5zM49.5 120.0h1.5v1.5h-1.5zM48.0 121.5h1.5v1.5h-1.5zM52.5 121.5h1.5v1.5h-1.5zM46.5 123.0h1.5v1.5h-1.5zM51.0 123.0h1.5v1.5h-1.5zM49.5 124.5h1.5v1.5h-1.5zM42.0 136.5h1.5v1.5h-1.5zM40.5 138.0h1.5v1.5h-1.5zM46.5 138.0h1.5v1.5h-1.5zM40.5 139.5h1.5v1.5h-1.5zM42.0 139.5h1.5v1.5h-1.5zM42.0 141.0h1.5v1.5h-1.5zM48.0 141.0h1.5v1.5h-1.5zM45.0 142.5h1.5v1.5h-1.5zM46.5 142.5h1.5v1.5h-1.5zM57.0 133.5h1.5v1.5h-1.5zM58.5 136.5h1.5v1.5h-1.5zM70.5 136.5h1.5v1.5h-1.5zM70.5 138.0h1.5v1.5h-1.5zM72.0 138.0h1.5v1.5h-1.5zM73.5 138.0h1.5v1.5h-1.5zM69.0 139.5h1.5v1.5h-1.5zM66.0 141.0h1.5v1.5h-1.5zM67.5 141.0h1.5v1.5h-1.5zM75.0 141.0h1.5v1.5h-1.5zM76.5 141.0h1.5v1.5h-1.5zM66.0 142.5h1.5v1.5h-1.5zM73.5 142.5h1.5v1.5h-1.5zM75.0 142.5h1.5v1.5h-1.5zM66.0 144.0h1.5v1.5h-1.5zM67.5 144.0h1.5v1.5h-1.5zM70.5 144.0h1.5v1.5h-1.5zM69.0 145.5h1.5v1.5h-1.5zM70.5 145.5h1.5v1.5h-1.5zM63.0 147.0h1.5v1.5h-1.5zM67.5 147.0h1.5v1.5h-1.5zM69.0 147.0h1.5v1.5h-1.5zM61.5 148.5h1.5v1.5h-1.5zM69.0 150.0h1.5v1.5h-1.5zM61.5 151.5h1.5v1.5h-1.5zM63.0 151.5h1.5v1.5h-1.5zM64.5 151.5h1.5v1.5h-1.5zM67.5 151.5h1.5v1.5h-1.5zM69.0 151.5h1.5v1.5h-1.5zM42.0 154.5h1.5v1.5h-1.5zM43.5 154.5h1.5v1.5h-1.5zM46.5 154.5h1.5v1.5h-1.5zM48.0 154.5h1.5v1.5h-1.5zM40.5 156.0h1.5v1.5h-1.5zM49.5 156.0h1.5v1.5h-1.5zM40.5 157.5h1.5v1.5h-1.5zM40.5 159.0h1.5v1.5h-1.5zM42.0 159.0h1.5v1.5h-1.5zM49.5 159.0h1.5v1.5h-1.5zM43.5 160.5h1.5v1.5h-1.5zM45.0 160.5h1.5v1.5h-1.5zM48.0 160.5h1.5v1.5h-1.5zM52.5 165.0h1.5v1.5h-1.5zM54.0 165.0h1.5v1.5h-1.5zM51.0 166.5h1.5v1.5h-1.5zM49.5 168.0h1.5v1.5h-1.5zM49.5 169.5h1.5v1.5h-1.5zM51.0 169.5h1.5v1.5h-1.5zM57.0 169.5h1.5v1.5h-1.5zM51.0 171.0h1.5v1.5h-1.5zM57.0 171.0h1.5v1.5h-1.5zM54.0 172.5h1.5v1.5h-1.5zM55.5 172.5h1.5v1.5h-1.5zM52.5 174.0h1.5v1.5h-1.5zM54.0 174.0h1.5v1.5h-1.5zM3.0 172.5h1.5v1.5h-1.5zM3.0 174.0h1.5v1.5h-1.5zM1.5 175.5h1.5v1.5h-1.5zM4.5 175.5h1.5v1.5h-1.5zM-3.0 177.0h1.5v1.5h-1.5zM-1.5 177.0h1.5v1.5h-1.5zM0.0 177.0h1.5v1.5h-1.5zM6.0 177.0h1.5v1.5h-1.5zM-3.0 178.5h1.5v1.5h-1.5zM6.0 178.5h1.5v1.5h-1.5zM-3.0 180.0h1.5v1.5h-1.5zM-1.5 180.0h1.5v1.5h-1.5zM6.0 180.0h1.5v1.5h-1.5zM-1.5 181.5h1.5v1.5h-1.5zM6.0 181.5h1.5v1.5h-1.5zM0.0 183.0h1.5v1.5h-1.5zM4.5 184.5h1.5v1.5h-1.5zM1.5 186.0h1.5v1.5h-1.5zM4.5 186.0h1.5v1.5h-1.5zM3.0 187.5h1.5v1.5h-1.5zM1.5 189.0h1.5v1.5h-1.5zM0.0 190.5h1.5v1.5h-1.5zM3.0 190.5h1.5v1.5h-1.5zM4.5 192.0h1.5v1.5h-1.5zM4.5 193.5h1.5v1.5h-1.5z"/>
<path fill="#e20000" d="M15.0 3.0h1.5v1.5h-1.5zM13.5 4.5h1.5v1.5h-1.5zM15.0 4.5h1.5v1.5h-1.5zM10.5 6.0h1.5v1.5h-1.5zM12.0 6.0h1.5v1.5h-1.5zM13.5 6.0h1.5v1.5h-1.5zM15.0 6.0h1.5v1.5h-1.5zM10.5 7.5h1.5v1.5h-1.5zM16.5 7.5h1.5v1.5h-1.5zM12.0 9.0h1.5v1.5h-1.5zM15.0 9.0h1.5v1.5h-1.5zM16.5 9.0h1.5v1.5h-1.5zM12.0 10.5h1.5v1.5h-1.5zM13.5 10.5h1.5v1.5h-1.5zM15.0 10.5h1.5v1.5h-1.5zM28.5 4.5h1.5v1.5h-1.5zM30.0 4.5h1.5v1.5h-1.5zM25.5 6.0h1.5v1.5h-1.5zM27.0 6.0h1.5v1.5h-1.5zM28.5 6.0h1.5v1.5h-1.5zM30.0 6.0h1.5v1.5h-1.5zM31.5 6.0h1.5v1.5h-1.5zM33.0 6.0h1.5v1.5h-1.5zM25.5 7.5h1.5v1.5h-1.5zM28.5 7.5h1.5v1.5h-1.5zM30.0 7.5h1.5v1.5h-1.5zM30.0 9.0h1.5v1.5h-1.5zM3.0 19.5h1.5v1.5h-1.5zM4.5 19.5h1.5v1.5h-1.5zM1.5 21.0h1.5v1.5h-1.5zM3.0 21.0h1.5v1.5h-1.5zM4.5 21.0h1.5v1.5h-1.5zM0.0 22.5h1.5v1.5h-1.5zM1.5 22.5h1.5v1.5h-1.5zM4.5 22.5h1.5v1.5h-1.5zM0.0 24.0h1.5v1.5h-1.5zM4.5 24.0h1.5v1.5h-1.5zM-1.5 25.5h1.5v1.5h-1.5zM0.0 25.5h1.5v1.5h-1.5zM3.0 25.5h1.5v1.5h-1.5zM4.5 25.5h1.5v1.5h-1.5zM1.5 27.0h1.5v1.5h-1.5zM3.0 27.0h1.5v1.5h-1.5zM1.5 28.5h1.5v1.5h-1.5zM45.0 9.0h1.5v1.5h-1.5zM46.5 9.0h1.5v1.5h-1.5zM48.0 9.0h1.5v1.5h-1.5zM46.5 10.5h1.5v1.5h-1.5zM60.0 16.5h1.5v1.5h-1.5zM55.5 18.0h1.5v1.5h-1.5zM57.0 18.0h1.5v1.5h-1.5zM58.5 18.0h1.5v1.5h-1.5zM60.0 18.0h1.5v1.5h-1.5zM61.5 18.0h1.5v1.5h-1.5zM55.5 19.5h1.5v1.5h-1.5zM57.0 19.5h1.5v1.5h-1.5zM58.5 19.5h1.5v1.5h-1.5zM60.0 19.5h1.5v1.5h-1.5zM61.5 19.5h1.5v1.5h-1.5zM63.0 19.5h1.5v1.5h-1.5zM55.5 21.0h1.5v1.5h-1.5zM58.5 21.0h1.5v1.5h-1.5zM60.0 21.0h1.5v1.5h-1.5zM61.5 21.0h1.5v1.5h-1.5zM60.0 22.5h1.5v1.5h-1.5zM45.0 24.0h1.5v1.5h-1.5zM46.5 24.0h1.5v1.5h-1.5zM48.0 24.0h1.5v1.5h-1.5zM46.5 25.5h1.5v1.5h-1.5zM64.5 24.0h1.5v1.5h-1.5zM66.0 24.0h1.5v1.5h-1.5zM63.0 25.5h1.5v1.5h-1.5zM64.5 25.5h1.5v1.5h-1.5zM66.0 25.5h1.5v1.5h-1.5zM67.5 25.5h1.5v1.5h-1.5zM63.0 27.0h1.5v1.5h-1.5zM64.5 27.0h1.5v1.5h-1.5zM66.0 27.0h1.5v1.5h-1.5zM67.5 27.0h1.5v1.5h-1.5zM64.5 28.5h1.5v1.5h-1.5zM66.0 28.5h1.5v1.5h-1.5zM78.0 28.5h1.5v1.5h-1.5zM78.0 30.0h1.5v1.5h-1.5zM79.5 30.0h1.5v1.5h-1.5zM81.0 30.0h1.5v1.5h-1.5zM82.5 30.0h1.5v1.5h-1.5zM78.0 31.5h1.5v1.5h-1.5zM79.5 31.5h1.5v1.5h-1.5zM81.0 31.5h1.5v1.5h-1.5zM76.5 33.0h1.5v1.5h-1.5zM78.0 33.0h1.5v1.5h-1.5zM81.0 33.0h1.5v1.5h-1.5zM76.5 34.5h1.5v1.5h-1.5zM78.0 34.5h1.5v1.5h-1.5zM79.5 34.5h1.5v1.5h-1.5zM81.0 34.5h1.5v1.5h-1.5zM81.0 36.0h1.5v1.5h-1.5zM87.0 39.0h1.5v1.5h-1.5zM88.5 39.0h1.5v1.5h-1.5zM85.5 40.5h1.5v1.5h-1.5zM87.0 40.5h1.5v1.5h-1.5zM88.5 40.5h1.5v1.5h-1.5zM87.0 42.0h1.5v1.5h-1.5zM88.5 42.0h1.5v1.5h-1.5zM90.0 42.0h1.5v1.5h-1.5zM85.5 43.5h1.5v1.5h-1.5zM87.0 43.5h1.5v1.5h-1.5zM10.5 40.5h1.5v1.5h-1.5zM12.0 40.5h1.5v1.5h-1.5zM10.5 42.0h1.5v1.5h-1.5zM12.0 42.0h1.5v1.5h-1.5zM10.5 43.5h1.5v1.5h-1.5zM43.5 49.5h1.5v1.5h-1.5zM42.0 51.0h1.5v1.5h-1.5zM43.5 51.0h1.5v1.5h-1.5zM45.0 51.0h1.5v1.5h-1.5zM42.0 52.5h1.5v1.5h-1.5zM43.5 52.5h1.5v1.5h-1.5zM43.5 54.0h1.5v1.5h-1.5zM91.5 63.0h1.5v1.5h-1.5zM90.0 64.5h1.5v1.5h-1.5zM91.5 64.5h1.5v1.5h-1.5zM93.0 64.5h1.5v1.5h-1.5zM94.5 64.5h1.5v1.5h-1.5zM88.5 66.0h1.5v1.5h-1.5zM90.0 66.0h1.5v1.5h-1.5zM91.5 66.0h1.5v1.5h-1.5zM93.0 66.0h1.5v1.5h-1.5zM94.5 66.0h1.5v1.5h-1.5zM96.0 66.0h1.5v1.5h-1.5zM90.0 67.5h1.5v1.5h-1.5zM91.5 67.5h1.5v1.5h-1.5zM93.0 67.5h1.5v1.5h-1.5zM94.5 67.5h1.5v1.5h-1.5zM91.5 69.0h1.5v1.5h-1.5zM108.0 63.0h1.5v1.5h-1.5zM106.5 64.5h1.5v1.5h-1.5zM108.0 64.5h1.5v1.5h-1.5zM105.0 66.0h1.5v1.5h-1.5zM106.5 66.0h1.5v1.5h-1.5zM108.0 66.0h1.5v1.5h-1.5zM109.5 66.0h1.5v1.5h-1.5zM111.0 66.0h1.5v1.5h-1.5zM102.0 67.5h1.5v1.5h-1.5zM103.5 67.5h1.5v1.5h-1.5zM105.0 67.5h1.5v1.5h-1.5zM106.5 67.5h1.5v1.5h-1.5zM109.5 67.5h1.5v1.5h-1.5zM111.0 67.5h1.5v1.5h-1.5zM102.0 69.0h1.5v1.5h-1.5zM103.5 69.0h1.5v1.5h-1.5zM111.0 69.0h1.5v1.5h-1.5zM112.5 69.0h1.5v1.5h-1.5zM100.5 70.5h1.5v1.5h-1.5zM102.0 70.5h1.5v1.5h-1.5zM103.5 70.5h1.5v1.5h-1.5zM105.0 70.5h1.5v1.5h-1.5zM109.5 70.5h1.5v1.5h-1.5zM111.0 70.5h1.5v1.5h-1.5zM103.5 72.0h1.5v1.5h-1.5zM105.0 72.0h1.5v1.5h-1.5zM106.5 72.0h1.5v1.5h-1.5zM108.0 72.0h1.5v1.5h-1.5zM109.5 72.0h1.5v1.5h-1.5zM111.0 72.0h1.5v1.5h-1.5zM106.5 73.5h1.5v1.5h-1.5zM108.0 73.5h1.5v1.5h-1.5zM109.5 73.5h1.5v1.5h-1.5zM108.0 75.0h1.5v1.5h-1.5zM109.5 75.0h1.5v1.5h-1.5zM120.0 58.5h1.5v1.5h-1.5zM121.5 58.5h1.5v1.5h-1.5zM121.5 60.0h1.5v1.5h-1.5zM120.0 61.5h1.5v1.5h-1.5zM121.5 61.5h1.5v1.5h-1.5zM118.5 63.0h1.5v1.5h-1.5zM120.0 63.0h1.5v1.5h-1.5zM121.5 63.0h1.5v1.5h-1.5zM118.5 64.5h1.5v1.5h-1.5zM120.0 64.5h1.5v1.5h-1.5zM121.5 64.5h1.5v1.5h-1.5zM120.0 66.0h1.5v1.5h-1.5zM78.0 78.0h1.5v1.5h-1.5zM79.5 78.0h1.5v1.5h-1.5zM81.0 78.0h1.5v1.5h-1.5zM78.0 79.5h1.5v1.5h-1.5zM79.5 79.5h1.5v1.5h-1.5zM79.5 81.0h1.5v1.5h-1.5zM24.0 87.0h1.5v1.5h-1.5zM25.5 87.0h1.5v1.5h-1.5zM21.0 88.5h1.5v1.5h-1.5zM27.0 88.5h1.5v1.5h-1.5zM21.0 90.0h1.5v1.5h-1.5zM22.5 90.0h1.5v1.5h-1.5zM25.5 90.0h1.5v1.5h-1.5zM24.0 91.5h1.5v1.5h-1.5zM25.5 91.5h1.5v1.5h-1.5zM24.0 93.0h1.5v1.5h-1.5zM25.5 93.0h1.5v1.5h-1.5zM36.0 96.0h1.5v1.5h-1.5zM37.5 96.0h1.5v1.5h-1.5zM70.5 90.0h1.5v1.5h-1.5zM72.0 90.0h1.5v1.5h-1.5zM69.0 91.5h1.5v1.5h-1.5zM70.5 91.5h1.5v1.5h-1.5zM72.0 91.5h1.5v1.5h-1.5zM73.5 91.5h1.5v1.5h-1.5zM70.5 93.0h1.5v1.5h-1.5zM72.0 93.0h1.5v1.5h-1.5zM73.5 93.0h1.5v1.5h-1.5zM90.0 97.5h1.5v1.5h-1.5zM91.5 97.5h1.5v1.5h-1.5zM90.0 99.0h1.5v1.5h-1.5zM91.5 99.0h1.5v1.5h-1.5zM91.5 100.5h1.5v1.5h-1.5zM93.0 100.5h1.5v1.5h-1.5zM79.5 105.0h1.5v1.5h-1.5zM81.0 105.0h1.5v1.5h-1.5zM79.5 106.5h1.5v1.5h-1.5zM81.0 106.5h1.5v1.5h-1.5zM82.5 106.5h1.5v1.5h-1.5zM78.0 108.0h1.5v1.5h-1.5zM79.5 108.0h1.5v1.5h-1.5zM82.5 108.0h1.5v1.5h-1.5zM76.5 109.5h1.5v1.5h-1.5zM78.0 109.5h1.5v1.5h-1.5zM82.5 109.5h1.5v1.5h-1.5zM84.0 109.5h1.5v1.5h-1.5zM78.0 111.0h1.5v1.5h-1.5zM82.5 111.0h1.5v1.5h-1.5zM84.0 111.0h1.5v1.5h-1.5zM75.0 112.5h1.5v1.5h-1.5zM76.5 112.5h1.5v1.5h-1.5zM78.0 112.5h1.5v1.5h-1.5zM79.5 112.5h1.5v1.5h-1.5zM81.0 112.5h1.5v1.5h-1.5zM78.0 114.0h1.5v1.5h-1.5zM79.5 114.0h1.5v1.5h-1.5zM81.0 114.0h1.5v1.5h-1.5zM79.5 115.5h1.5v1.5h-1.5zM13.5 108.0h1.5v1.5h-1.5zM15.0 108.0h1.5v1.5h-1.5zM12.0 109.5h1.5v1.5h-1.5zM13.5 109.5h1.5v1.5h-1.5zM15.0 109.5h1.5v1.5h-1.5zM16.5 109.5h1.5v1.5h-1.5zM12.0 111.0h1.5v1.5h-1.5zM16.5 111.0h1.5v1.5h-1.5zM12.0 112.5h1.5v1.5h-1.5zM13.5 112.5h1.5v1.5h-1.5zM16.5 112.5h1.5v1.5h-1.5zM12.0 114.0h1.5v1.5h-1.5zM13.5 114.0h1.5v1.5h-1.5zM15.0 114.0h1.5v1.5h-1.5zM16.5 114.0h1.5v1.5h-1.5zM13.5 115.5h1.5v1.5h-1.5zM15.0 115.5h1.5v1.5h-1.5zM58.5 114.0h1.5v1.5h-1.5zM54.0 115.5h1.5v1.5h-1.5zM55.5 115.5h1.5v1.5h-1.5zM57.0 115.5h1.5v1.5h-1.5zM58.5 115.5h1.5v1.5h-1.5zM60.0 115.5h1.5v1.5h-1.5zM54.0 117.0h1.5v1.5h-1.5zM55.5 117.0h1.5v1.5h-1.5zM58.5 117.0h1.5v1.5h-1.5zM60.0 117.0h1.5v1.5h-1.5zM55.5 118.5h1.5v1.5h-1.5zM58.5 118.5h1.5v1.5h-1.5zM55.5 120.0h1.5v1.5h-1.5zM57.0 120.0h1.5v1.5h-1.5zM58.5 120.0h1.5v1.5h-1.5zM49.5 121.5h1.5v1.5h-1.5zM51.0 121.5h1.5v1.5h-1.5zM48.0 123.0h1.5v1.5h-1.5zM49.5 123.0h1.5v1.5h-1.5zM43.5 136.5h1.5v1.5h-1.5zM42.0 138.0h1.5v1.5h-1.5zM43.5 138.0h1.5v1.5h-1.5zM45.0 138.0h1.5v1.5h-1.5zM43.5 139.5h1.5v1.5h-1.5zM45.0 139.5h1.5v1.5h-1.5zM46.5 139.5h1.5v1.5h-1.5zM43.5 141.0h1.5v1.5h-1.5zM45.0 141.0h1.5v1.5h-1.5zM46.5 141.0h1.5v1.5h-1.5zM60.0 132.0h1.5v1.5h-1.5zM58.5 133.5h1.5v1.5h-1.5zM60.0 133.5h1.5v1.5h-1.5zM58.5 135.0h1.5v1.5h-1.5zM60.0 135.0h1.5v1.5h-1.5zM61.5 135.0h1.5v1.5h-1.5zM70.5 139.5h1.5v1.5h-1.5zM72.0 139.5h1.5v1.5h-1.5zM73.5 139.5h1.5v1.5h-1.5zM75.0 139.5h1.5v1.5h-1.5zM69.0 141.0h1.5v1.5h-1.5zM73.5 141.0h1.5v1.5h-1.5zM67.5 142.5h1.5v1.5h-1.5zM69.0 142.5h1.5v1.5h-1.5zM70.5 142.5h1.5v1.5h-1.5zM72.0 142.5h1.5v1.5h-1.5zM69.0 144.0h1.5v1.5h-1.5zM72.0 144.0h1.5v1.5h-1.5zM64.5 147.0h1.5v1.5h-1.5zM66.0 147.0h1.5v1.5h-1.5zM63.0 148.5h1.5v1.5h-1.5zM67.5 148.5h1.5v1.5h-1.5zM63.0 150.0h1.5v1.5h-1.5zM67.5 150.0h1.5v1.5h-1.5zM66.0 151.5h1.5v1.5h-1.5zM45.0 154.5h1.5v1.5h-1.5zM42.0 156.0h1.5v1.5h-1.5zM43.5 156.0h1.5v1.5h-1.5zM45.0 156.0h1.5v1.5h-1.5zM46.5 156.0h1.5v1.5h-1.5zM48.0 156.0h1.5v1.5h-1.5zM42.0 157.5h1.5v1.5h-1.5zM43.5 157.5h1.5v1.5h-1.5zM45.0 157.5h1.5v1.5h-1.5zM46.5 157.5h1.5v1.5h-1.5zM48.0 157.5h1.5v1.5h-1.5zM49.5 157.5h1.5v1.5h-1.5zM43.5 159.0h1.5v1.5h-1.5zM45.0 159.0h1.5v1.5h-1.5zM46.5 159.0h1.5v1.5h-1.5zM48.0 159.0h1.5v1.5h-1.5zM46.5 160.5h1.5v1.5h-1.5zM52.5 166.5h1.5v1.5h-1.5zM54.0 166.5h1.5v1.5h-1.5zM51.0 168.0h1.5v1.5h-1.5zM52.5 168.0h1.5v1.5h-1.5zM54.0 168.0h1.5v1.5h-1.5zM52.5 169.5h1.5v1.5h-1.5zM54.0 169.5h1.5v1.5h-1.5zM55.5 169.5h1.5v1.5h-1.5zM52.5 171.0h1.5v1.5h-1.5zM54.0 171.0h1.5v1.5h-1.5zM55.5 171.0h1.5v1.5h-1.5zM52.5 172.5h1.5v1.5h-1.5zM3.0 175.5h1.5v1.5h-1.5zM1.5 177.0h1.5v1.5h-1.5zM3.0 177.0h1.5v1.5h-1.5zM4.5 177.0h1.5v1.5h-1.5zM-1.5 178.5h1.5v1.5h-1.5zM0.0 178.5h1.5v1.5h-1.5zM1.5 178.5h1.5v1.5h-1.5zM3.0 178.5h1.5v1.5h-1.5zM4.5 178.5h1.5v1.5h-1.5zM0.0 180.0h1.5v1.5h-1.5zM1.5 180.0h1.5v1.5h-1.5zM4.5 180.0h1.5v1.5h-1.5zM0.0 181.5h1.5v1.5h-1.5zM1.5 181.5h1.5v1.5h-1.5zM4.5 181.5h1.5v1.5h-1.5zM1.5 183.0h1.5v1.5h-1.5zM3.0 183.0h1.5v1.5h-1.5zM4.5 183.0h1.5v1.5h-1.5zM1.5 184.5h1.5v1.5h-1.5zM3.0 184.5h1.5v1.5h-1.5zM3.0 186.0h1.5v1.5h-1.5zM1.5 190.5h1.5v1.5h-1.5zM1.5 192.0h1.5v1.5h-1.5zM3.0 192.0h1.5v1.5h-1.5zM1.5 193.5h1.5v1.5h-1.5zM3.0 193.5h1.5v1.5h-1.5z"/>
<path fill="#ff3800" d="M12.0 7.5h1.5v1.5h-1.5zM13.5 7.5h1.5v1.5h-1.5zM15.0 7.5h1.5v1.5h-1.5zM13.5 9.0h1.5v1.5h-1.5zM3.0 22.5h1.5v1.5h-1.5zM1.5 24.0h1.5v1.5h-1.5zM3.0 24.0h1.5v1.5h-1.5zM1.5 25.5h1.5v1.5h-1.5zM79.5 33.0h1.5v1.5h-1.5zM108.0 67.5h1.5v1.5h-1.5zM105.0 69.0h1.5v1.5h-1.5zM106.5 69.0h1.5v1.5h-1.5zM108.0 69.0h1.5v1.5h-1.5zM109.5 69.0h1.5v1.5h-1.5zM106.5 70.5h1.5v1.5h-1.5zM108.0 70.5h1.5v1.5h-1.5zM120.0 60.0h1.5v1.5h-1.5zM22.5 88.5h1.5v1.5h-1.5zM24.0 88.5h1.5v1.5h-1.5zM25.5 88.5h1.5v1.5h-1.5zM24.0 90.0h1.5v1.5h-1.5zM81.0 108.0h1.5v1.5h-1.5zM79.5 111.0h1.5v1.5h-1.5zM81.0 111.0h1.5v1.5h-1.5zM13.5 111.0h1.5v1.5h-1.5zM15.0 111.0h1.5v1.5h-1.5zM15.0 112.5h1.5v1.5h-1.5zM57.0 117.0h1.5v1.5h-1.5zM57.0 118.5h1.5v1.5h-1.5zM70.5 141.0h1.5v1.5h-1.5zM72.0 141.0h1.5v1.5h-1.5zM64.5 148.5h1.5v1.5h-1.5zM66.0 148.5h1.5v1.5h-1.5zM64.5 150.0h1.5v1.5h-1.5zM66.0 150.0h1.5v1.5h-1.5zM3.0 180.0h1.5v1.5h-1.5zM3.0 181.5h1.5v1.5h-1.5z"/>
<path fill="#ffa000" d="M79.5 109.5h1.5v1.5h-1.5zM81.0 109.5h1.5v1.5h-1.5z"/>
</g>
<g transform="translate(0,2)"><use href="#bover"/>
<text x="89" y="79" font-family="Liberation Sans, sans-serif" font-weight="bold" font-size="7" fill="#fff" textLength="10.5" lengthAdjust="spacingAndGlyphs">V3d</text></g>
<path id="ips_bc2" d="M5.3 24.5 C22 25 42 30 62 45" fill="none"/>
<text font-family="Liberation Sans, sans-serif" font-weight="bold" font-size="7.3" fill="#fff"><textPath href="#ips_bc2" textLength="60" lengthAdjust="spacingAndGlyphs">intraparietal sulcus</textPath></text>
<use href="#bfixed"/>
<text x="59.6" y="198.6" font-family="Liberation Sans, sans-serif" font-size="9.5" fill="#eee">5</text>
<text x="110.10000000000001" y="201.79999999999998" font-family="Liberation Sans, sans-serif" font-size="16.2" fill="#fff" textLength="21.5" lengthAdjust="spacingAndGlyphs">LH</text>
</g></g>
<rect x="83" y="872" width="275.3" height="206.20000000000005" fill="none" stroke="#fff" stroke-width="2"/>
<line x1="221" y1="872" x2="221" y2="1078.2" stroke="#fff" stroke-width="2"/>
<rect x="385" y="826" width="299" height="260" fill="#000"/>
<text x="397" y="845" font-family="Liberation Sans, sans-serif" font-size="16.2" fill="#f2f2f2">Unattended</text>
<rect x="632.4" y="830.6" width="16.4" height="6" fill="#8a8a8a"/>
<rect x="632.4" y="839.2" width="16.4" height="5.8" fill="#3c3c3c"/>
<text x="651.0" y="836.4" font-family="Liberation Sans, sans-serif" font-size="8" fill="#ddd">gyrus</text>
<text x="651.0" y="844.8000000000001" font-family="Liberation Sans, sans-serif" font-size="8" fill="#ddd">sulcus</text>
<text x="397" y="868" font-family="Liberation Sans, sans-serif" font-size="13" fill="#f2f2f2">A.</text>
<text x="412.8" y="868" font-family="Liberation Sans, sans-serif" font-size="15.5" fill="#f2f2f2" textLength="43.8" lengthAdjust="spacingAndGlyphs">Similar</text>
<text x="533" y="867.8" font-family="Liberation Sans, sans-serif" font-size="13" fill="#f2f2f2">B.</text>
<text x="547.6" y="867.8" font-family="Liberation Sans, sans-serif" font-size="15.5" fill="#f2f2f2" textLength="62" lengthAdjust="spacingAndGlyphs">Dissimilar</text>
<clipPath id="bc3"><rect x="1" y="1" width="134.5" height="202.4"/></clipPath>
<g transform="translate(396,871)"><g clip-path="url(#bc3)">
<use href="#brainbase" transform="translate(0,0)"/>
<g filter="url(#rblob)">
<path fill="#bc0000" d="M3.0 3.0h1.5v1.5h-1.5zM1.5 4.5h1.5v1.5h-1.5zM3.0 4.5h1.5v1.5h-1.5zM4.5 4.5h1.5v1.5h-1.5zM-1.5 6.0h1.5v1.5h-1.5zM1.5 6.0h1.5v1.5h-1.5zM3.0 6.0h1.5v1.5h-1.5zM4.5 6.0h1.5v1.5h-1.5zM0.0 7.5h1.5v1.5h-1.5zM1.5 7.5h1.5v1.5h-1.5zM3.0 7.5h1.5v1.5h-1.5zM4.5 7.5h1.5v1.5h-1.5zM6.0 7.5h1.5v1.5h-1.5zM-3.0 9.0h1.5v1.5h-1.5zM0.0 9.0h1.5v1.5h-1.5zM-1.5 10.5h1.5v1.5h-1.5zM6.0 10.5h1.5v1.5h-1.5zM-1.5 12.0h1.5v1.5h-1.5zM-3.0 13.5h1.5v1.5h-1.5zM-1.5 13.5h1.5v1.5h-1.5zM4.5 13.5h1.5v1.5h-1.5zM6.0 13.5h1.5v1.5h-1.5zM6.0 15.0h1.5v1.5h-1.5zM-1.5 16.5h1.5v1.5h-1.5zM7.5 16.5h1.5v1.5h-1.5zM-1.5 18.0h1.5v1.5h-1.5zM7.5 18.0h1.5v1.5h-1.5zM9.0 18.0h1.5v1.5h-1.5zM-3.0 19.5h1.5v1.5h-1.5zM7.5 19.5h1.5v1.5h-1.5zM-1.5 21.0h1.5v1.5h-1.5zM3.0 21.0h1.5v1.5h-1.5zM6.0 21.0h1.5v1.5h-1.5zM7.5 21.0h1.5v1.5h-1.5zM9.0 21.0h1.5v1.5h-1.5zM3.0 22.5h1.5v1.5h-1.5zM4.5 22.5h1.5v1.5h-1.5zM7.5 22.5h1.5v1.5h-1.5zM-1.5 24.0h1.5v1.5h-1.5zM3.0 24.0h1.5v1.5h-1.5zM7.5 24.0h1.5v1.5h-1.5zM-3.0 25.5h1.5v1.5h-1.5zM-1.5 25.5h1.5v1.5h-1.5zM0.0 25.5h1.5v1.5h-1.5zM1.5 25.5h1.5v1.5h-1.5zM4.5 25.5h1.5v1.5h-1.5zM6.0 25.5h1.5v1.5h-1.5zM-3.0 27.0h1.5v1.5h-1.5zM0.0 27.0h1.5v1.5h-1.5zM0.0 28.5h1.5v1.5h-1.5zM15.0 13.5h1.5v1.5h-1.5zM16.5 13.5h1.5v1.5h-1.5zM15.0 15.0h1.5v1.5h-1.5zM18.0 16.5h1.5v1.5h-1.5zM13.5 18.0h1.5v1.5h-1.5zM15.0 19.5h1.5v1.5h-1.5zM18.0 19.5h1.5v1.5h-1.5zM16.5 21.0h1.5v1.5h-1.5zM40.5 -1.5h1.5v1.5h-1.5zM42.0 -1.5h1.5v1.5h-1.5zM40.5 0.0h1.5v1.5h-1.5zM43.5 1.5h1.5v1.5h-1.5zM43.5 3.0h1.5v1.5h-1.5zM42.0 15.0h1.5v1.5h-1.5zM43.5 15.0h1.5v1.5h-1.5zM45.0 15.0h1.5v1.5h-1.5zM37.5 16.5h1.5v1.5h-1.5zM39.0 16.5h1.5v1.5h-1.5zM40.5 16.5h1.5v1.5h-1.5zM42.0 16.5h1.5v1.5h-1.5zM45.0 16.5h1.5v1.5h-1.5zM36.0 18.0h1.5v1.5h-1.5zM39.0 18.0h1.5v1.5h-1.5zM45.0 18.0h1.5v1.5h-1.5zM46.5 18.0h1.5v1.5h-1.5zM34.5 21.0h1.5v1.5h-1.5zM36.0 21.0h1.5v1.5h-1.5zM46.5 21.0h1.5v1.5h-1.5zM36.0 22.5h1.5v1.5h-1.5zM37.5 22.5h1.5v1.5h-1.5zM48.0 22.5h1.5v1.5h-1.5zM37.5 24.0h1.5v1.5h-1.5zM46.5 24.0h1.5v1.5h-1.5zM48.0 24.0h1.5v1.5h-1.5zM36.0 25.5h1.5v1.5h-1.5zM37.5 25.5h1.5v1.5h-1.5zM39.0 25.5h1.5v1.5h-1.5zM43.5 25.5h1.5v1.5h-1.5zM45.0 25.5h1.5v1.5h-1.5zM37.5 27.0h1.5v1.5h-1.5zM39.0 27.0h1.5v1.5h-1.5zM40.5 27.0h1.5v1.5h-1.5zM42.0 27.0h1.5v1.5h-1.5zM60.0 24.0h1.5v1.5h-1.5zM57.0 25.5h1.5v1.5h-1.5zM60.0 25.5h1.5v1.5h-1.5zM55.5 27.0h1.5v1.5h-1.5zM57.0 27.0h1.5v1.5h-1.5zM61.5 27.0h1.5v1.5h-1.5zM63.0 27.0h1.5v1.5h-1.5zM55.5 28.5h1.5v1.5h-1.5zM64.5 28.5h1.5v1.5h-1.5zM54.0 30.0h1.5v1.5h-1.5zM55.5 30.0h1.5v1.5h-1.5zM64.5 30.0h1.5v1.5h-1.5zM55.5 31.5h1.5v1.5h-1.5zM61.5 31.5h1.5v1.5h-1.5zM63.0 31.5h1.5v1.5h-1.5zM57.0 33.0h1.5v1.5h-1.5zM58.5 33.0h1.5v1.5h-1.5zM69.0 24.0h1.5v1.5h-1.5zM67.5 25.5h1.5v1.5h-1.5zM69.0 25.5h1.5v1.5h-1.5zM64.5 27.0h1.5v1.5h-1.5zM66.0 27.0h1.5v1.5h-1.5zM67.5 27.0h1.5v1.5h-1.5zM69.0 27.0h1.5v1.5h-1.5zM70.5 27.0h1.5v1.5h-1.5zM63.0 28.5h1.5v1.5h-1.5zM70.5 28.5h1.5v1.5h-1.5zM70.5 30.0h1.5v1.5h-1.5zM63.0 31.5h1.5v1.5h-1.5zM64.5 33.0h1.5v1.5h-1.5zM64.5 34.5h1.5v1.5h-1.5zM66.0 36.0h1.5v1.5h-1.5zM67.5 36.0h1.5v1.5h-1.5zM69.0 36.0h1.5v1.5h-1.5zM67.5 37.5h1.5v1.5h-1.5zM69.0 37.5h1.5v1.5h-1.5zM66.0 37.5h1.5v1.5h-1.5zM67.5 37.5h1.5v1.5h-1.5zM64.5 39.0h1.5v1.5h-1.5zM64.5 40.5h1.5v1.5h-1.5zM67.5 42.0h1.5v1.5h-1.5zM88.5 6.0h1.5v1.5h-1.5zM82.5 7.5h1.5v1.5h-1.5zM84.0 7.5h1.5v1.5h-1.5zM87.0 7.5h1.5v1.5h-1.5zM90.0 7.5h1.5v1.5h-1.5zM81.0 10.5h1.5v1.5h-1.5zM90.0 12.0h1.5v1.5h-1.5zM82.5 13.5h1.5v1.5h-1.5zM84.0 13.5h1.5v1.5h-1.5zM88.5 15.0h1.5v1.5h-1.5zM85.5 16.5h1.5v1.5h-1.5zM87.0 16.5h1.5v1.5h-1.5zM93.0 19.5h1.5v1.5h-1.5zM82.5 36.0h1.5v1.5h-1.5zM87.0 36.0h1.5v1.5h-1.5zM82.5 37.5h1.5v1.5h-1.5zM85.5 37.5h1.5v1.5h-1.5zM82.5 39.0h1.5v1.5h-1.5zM45.0 34.5h1.5v1.5h-1.5zM46.5 34.5h1.5v1.5h-1.5zM46.5 36.0h1.5v1.5h-1.5zM43.5 37.5h1.5v1.5h-1.5zM45.0 37.5h1.5v1.5h-1.5zM48.0 37.5h1.5v1.5h-1.5zM43.5 39.0h1.5v1.5h-1.5zM45.0 39.0h1.5v1.5h-1.5zM48.0 39.0h1.5v1.5h-1.5zM43.5 40.5h1.5v1.5h-1.5zM49.5 40.5h1.5v1.5h-1.5zM51.0 40.5h1.5v1.5h-1.5zM52.5 40.5h1.5v1.5h-1.5zM43.5 42.0h1.5v1.5h-1.5zM52.5 42.0h1.5v1.5h-1.5zM43.5 43.5h1.5v1.5h-1.5zM52.5 43.5h1.5v1.5h-1.5zM54.0 43.5h1.5v1.5h-1.5zM52.5 45.0h1.5v1.5h-1.5zM54.0 45.0h1.5v1.5h-1.5zM42.0 46.5h1.5v1.5h-1.5zM51.0 46.5h1.5v1.5h-1.5zM52.5 46.5h1.5v1.5h-1.5zM42.0 48.0h1.5v1.5h-1.5zM43.5 48.0h1.5v1.5h-1.5zM45.0 48.0h1.5v1.5h-1.5zM49.5 48.0h1.5v1.5h-1.5zM42.0 49.5h1.5v1.5h-1.5zM43.5 49.5h1.5v1.5h-1.5zM45.0 49.5h1.5v1.5h-1.5zM49.5 49.5h1.5v1.5h-1.5zM46.5 51.0h1.5v1.5h-1.5zM48.0 51.0h1.5v1.5h-1.5zM49.5 51.0h1.5v1.5h-1.5zM49.5 52.5h1.5v1.5h-1.5zM69.0 55.5h1.5v1.5h-1.5zM70.5 55.5h1.5v1.5h-1.5zM72.0 55.5h1.5v1.5h-1.5zM78.0 55.5h1.5v1.5h-1.5zM79.5 55.5h1.5v1.5h-1.5zM69.0 57.0h1.5v1.5h-1.5zM70.5 57.0h1.5v1.5h-1.5zM75.0 57.0h1.5v1.5h-1.5zM79.5 57.0h1.5v1.5h-1.5zM81.0 57.0h1.5v1.5h-1.5zM69.0 58.5h1.5v1.5h-1.5zM81.0 58.5h1.5v1.5h-1.5zM70.5 60.0h1.5v1.5h-1.5zM78.0 60.0h1.5v1.5h-1.5zM79.5 60.0h1.5v1.5h-1.5zM72.0 61.5h1.5v1.5h-1.5zM72.0 63.0h1.5v1.5h-1.5zM76.5 63.0h1.5v1.5h-1.5zM73.5 64.5h1.5v1.5h-1.5zM75.0 64.5h1.5v1.5h-1.5zM76.5 64.5h1.5v1.5h-1.5zM109.5 54.0h1.5v1.5h-1.5zM106.5 55.5h1.5v1.5h-1.5zM109.5 55.5h1.5v1.5h-1.5zM111.0 57.0h1.5v1.5h-1.5zM111.0 58.5h1.5v1.5h-1.5zM111.0 60.0h1.5v1.5h-1.5zM106.5 61.5h1.5v1.5h-1.5zM111.0 61.5h1.5v1.5h-1.5zM106.5 63.0h1.5v1.5h-1.5zM108.0 64.5h1.5v1.5h-1.5zM108.0 69.0h1.5v1.5h-1.5zM109.5 69.0h1.5v1.5h-1.5zM111.0 69.0h1.5v1.5h-1.5zM105.0 70.5h1.5v1.5h-1.5zM111.0 70.5h1.5v1.5h-1.5zM103.5 72.0h1.5v1.5h-1.5zM112.5 72.0h1.5v1.5h-1.5zM102.0 73.5h1.5v1.5h-1.5zM111.0 73.5h1.5v1.5h-1.5zM103.5 75.0h1.5v1.5h-1.5zM105.0 75.0h1.5v1.5h-1.5zM106.5 75.0h1.5v1.5h-1.5zM109.5 75.0h1.5v1.5h-1.5zM111.0 75.0h1.5v1.5h-1.5zM108.0 76.5h1.5v1.5h-1.5zM109.5 76.5h1.5v1.5h-1.5zM15.0 96.0h1.5v1.5h-1.5zM21.0 96.0h1.5v1.5h-1.5zM16.5 97.5h1.5v1.5h-1.5zM22.5 97.5h1.5v1.5h-1.5zM18.0 99.0h1.5v1.5h-1.5zM19.5 99.0h1.5v1.5h-1.5zM21.0 99.0h1.5v1.5h-1.5zM22.5 99.0h1.5v1.5h-1.5zM57.0 109.5h1.5v1.5h-1.5zM57.0 111.0h1.5v1.5h-1.5zM60.0 111.0h1.5v1.5h-1.5zM63.0 111.0h1.5v1.5h-1.5zM63.0 112.5h1.5v1.5h-1.5zM76.5 99.0h1.5v1.5h-1.5zM78.0 99.0h1.5v1.5h-1.5zM73.5 100.5h1.5v1.5h-1.5zM73.5 102.0h1.5v1.5h-1.5zM78.0 102.0h1.5v1.5h-1.5zM78.0 103.5h1.5v1.5h-1.5zM75.0 105.0h1.5v1.5h-1.5zM76.5 106.5h1.5v1.5h-1.5zM78.0 106.5h1.5v1.5h-1.5zM82.5 102.0h1.5v1.5h-1.5zM84.0 102.0h1.5v1.5h-1.5zM85.5 102.0h1.5v1.5h-1.5zM82.5 103.5h1.5v1.5h-1.5zM88.5 103.5h1.5v1.5h-1.5zM82.5 105.0h1.5v1.5h-1.5zM82.5 106.5h1.5v1.5h-1.5zM88.5 106.5h1.5v1.5h-1.5zM84.0 108.0h1.5v1.5h-1.5zM85.5 108.0h1.5v1.5h-1.5zM87.0 108.0h1.5v1.5h-1.5zM39.0 132.0h1.5v1.5h-1.5zM40.5 132.0h1.5v1.5h-1.5zM42.0 132.0h1.5v1.5h-1.5zM34.5 133.5h1.5v1.5h-1.5zM36.0 133.5h1.5v1.5h-1.5zM37.5 133.5h1.5v1.5h-1.5zM39.0 133.5h1.5v1.5h-1.5zM42.0 133.5h1.5v1.5h-1.5zM34.5 135.0h1.5v1.5h-1.5zM42.0 135.0h1.5v1.5h-1.5zM43.5 135.0h1.5v1.5h-1.5zM33.0 136.5h1.5v1.5h-1.5zM34.5 136.5h1.5v1.5h-1.5zM43.5 136.5h1.5v1.5h-1.5zM45.0 136.5h1.5v1.5h-1.5zM34.5 138.0h1.5v1.5h-1.5zM34.5 139.5h1.5v1.5h-1.5zM37.5 139.5h1.5v1.5h-1.5zM40.5 139.5h1.5v1.5h-1.5zM42.0 139.5h1.5v1.5h-1.5zM43.5 139.5h1.5v1.5h-1.5zM6.0 156.0h1.5v1.5h-1.5zM7.5 156.0h1.5v1.5h-1.5zM4.5 157.5h1.5v1.5h-1.5zM4.5 159.0h1.5v1.5h-1.5zM10.5 160.5h1.5v1.5h-1.5zM6.0 162.0h1.5v1.5h-1.5zM6.0 163.5h1.5v1.5h-1.5zM7.5 165.0h1.5v1.5h-1.5zM9.0 165.0h1.5v1.5h-1.5zM10.5 172.5h1.5v1.5h-1.5zM9.0 175.5h1.5v1.5h-1.5zM12.0 175.5h1.5v1.5h-1.5zM10.5 177.0h1.5v1.5h-1.5z"/>
<path fill="#e20000" d="M1.5 9.0h1.5v1.5h-1.5zM3.0 9.0h1.5v1.5h-1.5zM4.5 9.0h1.5v1.5h-1.5zM0.0 10.5h1.5v1.5h-1.5zM1.5 10.5h1.5v1.5h-1.5zM3.0 10.5h1.5v1.5h-1.5zM4.5 10.5h1.5v1.5h-1.5zM0.0 12.0h1.5v1.5h-1.5zM1.5 12.0h1.5v1.5h-1.5zM3.0 12.0h1.5v1.5h-1.5zM4.5 12.0h1.5v1.5h-1.5zM0.0 13.5h1.5v1.5h-1.5zM-1.5 15.0h1.5v1.5h-1.5zM0.0 15.0h1.5v1.5h-1.5zM3.0 15.0h1.5v1.5h-1.5zM4.5 15.0h1.5v1.5h-1.5zM0.0 16.5h1.5v1.5h-1.5zM1.5 16.5h1.5v1.5h-1.5zM4.5 16.5h1.5v1.5h-1.5zM6.0 16.5h1.5v1.5h-1.5zM0.0 18.0h1.5v1.5h-1.5zM1.5 18.0h1.5v1.5h-1.5zM3.0 18.0h1.5v1.5h-1.5zM4.5 18.0h1.5v1.5h-1.5zM6.0 18.0h1.5v1.5h-1.5zM-1.5 19.5h1.5v1.5h-1.5zM0.0 19.5h1.5v1.5h-1.5zM3.0 19.5h1.5v1.5h-1.5zM4.5 19.5h1.5v1.5h-1.5zM6.0 19.5h1.5v1.5h-1.5zM0.0 21.0h1.5v1.5h-1.5zM1.5 21.0h1.5v1.5h-1.5zM4.5 21.0h1.5v1.5h-1.5zM-1.5 22.5h1.5v1.5h-1.5zM0.0 22.5h1.5v1.5h-1.5zM1.5 22.5h1.5v1.5h-1.5zM6.0 22.5h1.5v1.5h-1.5zM0.0 24.0h1.5v1.5h-1.5zM1.5 24.0h1.5v1.5h-1.5zM16.5 15.0h1.5v1.5h-1.5zM15.0 16.5h1.5v1.5h-1.5zM16.5 16.5h1.5v1.5h-1.5zM15.0 18.0h1.5v1.5h-1.5zM16.5 18.0h1.5v1.5h-1.5zM18.0 18.0h1.5v1.5h-1.5zM16.5 19.5h1.5v1.5h-1.5zM42.0 0.0h1.5v1.5h-1.5zM40.5 1.5h1.5v1.5h-1.5zM42.0 1.5h1.5v1.5h-1.5zM40.5 3.0h1.5v1.5h-1.5zM42.0 3.0h1.5v1.5h-1.5zM43.5 16.5h1.5v1.5h-1.5zM37.5 18.0h1.5v1.5h-1.5zM40.5 18.0h1.5v1.5h-1.5zM42.0 18.0h1.5v1.5h-1.5zM43.5 18.0h1.5v1.5h-1.5zM36.0 19.5h1.5v1.5h-1.5zM37.5 19.5h1.5v1.5h-1.5zM39.0 19.5h1.5v1.5h-1.5zM40.5 19.5h1.5v1.5h-1.5zM43.5 19.5h1.5v1.5h-1.5zM45.0 19.5h1.5v1.5h-1.5zM37.5 21.0h1.5v1.5h-1.5zM39.0 21.0h1.5v1.5h-1.5zM42.0 21.0h1.5v1.5h-1.5zM43.5 21.0h1.5v1.5h-1.5zM45.0 21.0h1.5v1.5h-1.5zM39.0 22.5h1.5v1.5h-1.5zM43.5 22.5h1.5v1.5h-1.5zM45.0 22.5h1.5v1.5h-1.5zM46.5 22.5h1.5v1.5h-1.5zM39.0 24.0h1.5v1.5h-1.5zM40.5 24.0h1.5v1.5h-1.5zM42.0 24.0h1.5v1.5h-1.5zM43.5 24.0h1.5v1.5h-1.5zM45.0 24.0h1.5v1.5h-1.5zM40.5 25.5h1.5v1.5h-1.5zM42.0 25.5h1.5v1.5h-1.5zM58.5 25.5h1.5v1.5h-1.5zM58.5 27.0h1.5v1.5h-1.5zM60.0 27.0h1.5v1.5h-1.5zM57.0 28.5h1.5v1.5h-1.5zM58.5 28.5h1.5v1.5h-1.5zM60.0 28.5h1.5v1.5h-1.5zM61.5 28.5h1.5v1.5h-1.5zM63.0 28.5h1.5v1.5h-1.5zM57.0 30.0h1.5v1.5h-1.5zM58.5 30.0h1.5v1.5h-1.5zM60.0 30.0h1.5v1.5h-1.5zM61.5 30.0h1.5v1.5h-1.5zM63.0 30.0h1.5v1.5h-1.5zM57.0 31.5h1.5v1.5h-1.5zM58.5 31.5h1.5v1.5h-1.5zM60.0 31.5h1.5v1.5h-1.5zM60.0 33.0h1.5v1.5h-1.5zM64.5 28.5h1.5v1.5h-1.5zM66.0 28.5h1.5v1.5h-1.5zM67.5 28.5h1.5v1.5h-1.5zM69.0 28.5h1.5v1.5h-1.5zM64.5 30.0h1.5v1.5h-1.5zM69.0 30.0h1.5v1.5h-1.5zM64.5 31.5h1.5v1.5h-1.5zM69.0 31.5h1.5v1.5h-1.5zM66.0 33.0h1.5v1.5h-1.5zM67.5 33.0h1.5v1.5h-1.5zM69.0 33.0h1.5v1.5h-1.5zM66.0 34.5h1.5v1.5h-1.5zM67.5 34.5h1.5v1.5h-1.5zM69.0 34.5h1.5v1.5h-1.5zM66.0 39.0h1.5v1.5h-1.5zM67.5 39.0h1.5v1.5h-1.5zM69.0 39.0h1.5v1.5h-1.5zM66.0 40.5h1.5v1.5h-1.5zM67.5 40.5h1.5v1.5h-1.5zM88.5 7.5h1.5v1.5h-1.5zM82.5 9.0h1.5v1.5h-1.5zM84.0 9.0h1.5v1.5h-1.5zM85.5 9.0h1.5v1.5h-1.5zM87.0 9.0h1.5v1.5h-1.5zM88.5 9.0h1.5v1.5h-1.5zM82.5 10.5h1.5v1.5h-1.5zM84.0 10.5h1.5v1.5h-1.5zM88.5 10.5h1.5v1.5h-1.5zM82.5 12.0h1.5v1.5h-1.5zM84.0 12.0h1.5v1.5h-1.5zM85.5 12.0h1.5v1.5h-1.5zM88.5 12.0h1.5v1.5h-1.5zM85.5 13.5h1.5v1.5h-1.5zM87.0 13.5h1.5v1.5h-1.5zM88.5 13.5h1.5v1.5h-1.5zM85.5 15.0h1.5v1.5h-1.5zM87.0 15.0h1.5v1.5h-1.5zM93.0 18.0h1.5v1.5h-1.5zM94.5 18.0h1.5v1.5h-1.5zM96.0 18.0h1.5v1.5h-1.5zM82.5 34.5h1.5v1.5h-1.5zM84.0 34.5h1.5v1.5h-1.5zM84.0 36.0h1.5v1.5h-1.5zM85.5 36.0h1.5v1.5h-1.5zM84.0 37.5h1.5v1.5h-1.5zM46.5 37.5h1.5v1.5h-1.5zM46.5 39.0h1.5v1.5h-1.5zM45.0 40.5h1.5v1.5h-1.5zM46.5 40.5h1.5v1.5h-1.5zM48.0 40.5h1.5v1.5h-1.5zM45.0 42.0h1.5v1.5h-1.5zM46.5 42.0h1.5v1.5h-1.5zM48.0 42.0h1.5v1.5h-1.5zM49.5 42.0h1.5v1.5h-1.5zM51.0 42.0h1.5v1.5h-1.5zM45.0 43.5h1.5v1.5h-1.5zM49.5 43.5h1.5v1.5h-1.5zM51.0 43.5h1.5v1.5h-1.5zM43.5 45.0h1.5v1.5h-1.5zM45.0 45.0h1.5v1.5h-1.5zM46.5 45.0h1.5v1.5h-1.5zM49.5 45.0h1.5v1.5h-1.5zM51.0 45.0h1.5v1.5h-1.5zM43.5 46.5h1.5v1.5h-1.5zM45.0 46.5h1.5v1.5h-1.5zM46.5 46.5h1.5v1.5h-1.5zM49.5 46.5h1.5v1.5h-1.5zM46.5 48.0h1.5v1.5h-1.5zM48.0 48.0h1.5v1.5h-1.5zM46.5 49.5h1.5v1.5h-1.5zM48.0 49.5h1.5v1.5h-1.5zM72.0 57.0h1.5v1.5h-1.5zM73.5 57.0h1.5v1.5h-1.5zM76.5 57.0h1.5v1.5h-1.5zM78.0 57.0h1.5v1.5h-1.5zM70.5 58.5h1.5v1.5h-1.5zM72.0 58.5h1.5v1.5h-1.5zM76.5 58.5h1.5v1.5h-1.5zM78.0 58.5h1.5v1.5h-1.5zM79.5 58.5h1.5v1.5h-1.5zM72.0 60.0h1.5v1.5h-1.5zM73.5 60.0h1.5v1.5h-1.5zM76.5 60.0h1.5v1.5h-1.5zM73.5 61.5h1.5v1.5h-1.5zM75.0 61.5h1.5v1.5h-1.5zM76.5 61.5h1.5v1.5h-1.5zM73.5 63.0h1.5v1.5h-1.5zM75.0 63.0h1.5v1.5h-1.5zM108.0 55.5h1.5v1.5h-1.5zM106.5 57.0h1.5v1.5h-1.5zM108.0 57.0h1.5v1.5h-1.5zM109.5 57.0h1.5v1.5h-1.5zM106.5 58.5h1.5v1.5h-1.5zM108.0 58.5h1.5v1.5h-1.5zM109.5 58.5h1.5v1.5h-1.5zM106.5 60.0h1.5v1.5h-1.5zM108.0 60.0h1.5v1.5h-1.5zM109.5 60.0h1.5v1.5h-1.5zM108.0 61.5h1.5v1.5h-1.5zM109.5 61.5h1.5v1.5h-1.5zM108.0 63.0h1.5v1.5h-1.5zM109.5 63.0h1.5v1.5h-1.5zM105.0 69.0h1.5v1.5h-1.5zM106.5 69.0h1.5v1.5h-1.5zM106.5 70.5h1.5v1.5h-1.5zM108.0 70.5h1.5v1.5h-1.5zM109.5 70.5h1.5v1.5h-1.5zM105.0 72.0h1.5v1.5h-1.5zM106.5 72.0h1.5v1.5h-1.5zM109.5 72.0h1.5v1.5h-1.5zM111.0 72.0h1.5v1.5h-1.5zM103.5 73.5h1.5v1.5h-1.5zM105.0 73.5h1.5v1.5h-1.5zM106.5 73.5h1.5v1.5h-1.5zM108.0 73.5h1.5v1.5h-1.5zM109.5 73.5h1.5v1.5h-1.5zM108.0 75.0h1.5v1.5h-1.5zM16.5 96.0h1.5v1.5h-1.5zM18.0 96.0h1.5v1.5h-1.5zM19.5 96.0h1.5v1.5h-1.5zM18.0 97.5h1.5v1.5h-1.5zM19.5 97.5h1.5v1.5h-1.5zM21.0 97.5h1.5v1.5h-1.5zM58.5 111.0h1.5v1.5h-1.5zM61.5 111.0h1.5v1.5h-1.5zM57.0 112.5h1.5v1.5h-1.5zM58.5 112.5h1.5v1.5h-1.5zM60.0 112.5h1.5v1.5h-1.5zM61.5 112.5h1.5v1.5h-1.5zM58.5 114.0h1.5v1.5h-1.5zM60.0 114.0h1.5v1.5h-1.5zM75.0 100.5h1.5v1.5h-1.5zM76.5 100.5h1.5v1.5h-1.5zM78.0 100.5h1.5v1.5h-1.5zM75.0 102.0h1.5v1.5h-1.5zM76.5 102.0h1.5v1.5h-1.5zM75.0 103.5h1.5v1.5h-1.5zM76.5 103.5h1.5v1.5h-1.5zM76.5 105.0h1.5v1.5h-1.5zM78.0 105.0h1.5v1.5h-1.5zM84.0 103.5h1.5v1.5h-1.5zM85.5 103.5h1.5v1.5h-1.5zM87.0 103.5h1.5v1.5h-1.5zM84.0 105.0h1.5v1.5h-1.5zM87.0 105.0h1.5v1.5h-1.5zM88.5 105.0h1.5v1.5h-1.5zM84.0 106.5h1.5v1.5h-1.5zM85.5 106.5h1.5v1.5h-1.5zM87.0 106.5h1.5v1.5h-1.5zM40.5 133.5h1.5v1.5h-1.5zM36.0 135.0h1.5v1.5h-1.5zM37.5 135.0h1.5v1.5h-1.5zM40.5 135.0h1.5v1.5h-1.5zM36.0 136.5h1.5v1.5h-1.5zM39.0 136.5h1.5v1.5h-1.5zM40.5 136.5h1.5v1.5h-1.5zM42.0 136.5h1.5v1.5h-1.5zM36.0 138.0h1.5v1.5h-1.5zM37.5 138.0h1.5v1.5h-1.5zM39.0 138.0h1.5v1.5h-1.5zM40.5 138.0h1.5v1.5h-1.5zM42.0 138.0h1.5v1.5h-1.5zM43.5 138.0h1.5v1.5h-1.5zM39.0 139.5h1.5v1.5h-1.5zM6.0 157.5h1.5v1.5h-1.5zM7.5 157.5h1.5v1.5h-1.5zM6.0 159.0h1.5v1.5h-1.5zM7.5 159.0h1.5v1.5h-1.5zM9.0 159.0h1.5v1.5h-1.5zM4.5 160.5h1.5v1.5h-1.5zM6.0 160.5h1.5v1.5h-1.5zM9.0 160.5h1.5v1.5h-1.5zM9.0 162.0h1.5v1.5h-1.5zM7.5 163.5h1.5v1.5h-1.5zM9.0 163.5h1.5v1.5h-1.5zM12.0 172.5h1.5v1.5h-1.5zM10.5 174.0h1.5v1.5h-1.5zM12.0 174.0h1.5v1.5h-1.5zM10.5 175.5h1.5v1.5h-1.5z"/>
<path fill="#ff3800" d="M1.5 13.5h1.5v1.5h-1.5zM3.0 13.5h1.5v1.5h-1.5zM1.5 15.0h1.5v1.5h-1.5zM3.0 16.5h1.5v1.5h-1.5zM1.5 19.5h1.5v1.5h-1.5zM42.0 19.5h1.5v1.5h-1.5zM40.5 21.0h1.5v1.5h-1.5zM40.5 22.5h1.5v1.5h-1.5zM42.0 22.5h1.5v1.5h-1.5zM66.0 30.0h1.5v1.5h-1.5zM67.5 30.0h1.5v1.5h-1.5zM66.0 31.5h1.5v1.5h-1.5zM67.5 31.5h1.5v1.5h-1.5zM85.5 10.5h1.5v1.5h-1.5zM87.0 10.5h1.5v1.5h-1.5zM87.0 12.0h1.5v1.5h-1.5zM46.5 43.5h1.5v1.5h-1.5zM48.0 43.5h1.5v1.5h-1.5zM48.0 45.0h1.5v1.5h-1.5zM48.0 46.5h1.5v1.5h-1.5zM73.5 58.5h1.5v1.5h-1.5zM75.0 58.5h1.5v1.5h-1.5zM75.0 60.0h1.5v1.5h-1.5zM108.0 72.0h1.5v1.5h-1.5zM85.5 105.0h1.5v1.5h-1.5zM39.0 135.0h1.5v1.5h-1.5zM37.5 136.5h1.5v1.5h-1.5zM7.5 160.5h1.5v1.5h-1.5zM7.5 162.0h1.5v1.5h-1.5z"/>
</g>
<g transform="translate(0,0)"><use href="#bover"/>
<text x="89" y="79" font-family="Liberation Sans, sans-serif" font-weight="bold" font-size="7" fill="#fff" textLength="7.5" lengthAdjust="spacingAndGlyphs">V3</text></g>
<path id="ips_bc3" d="M3.5 15.5 C22 16 42 22 64 40" fill="none"/>
<text font-family="Liberation Sans, sans-serif" font-weight="bold" font-size="7.3" fill="#fff"><textPath href="#ips_bc3" textLength="60" lengthAdjust="spacingAndGlyphs">intraparietal sulcus</textPath></text>
<use href="#bfixed"/>
<text x="59.6" y="198.6" font-family="Liberation Sans, sans-serif" font-size="9.5" fill="#eee">6</text>
</g></g>
<clipPath id="bc4"><rect x="1" y="1" width="139.1" height="202.4"/></clipPath>
<g transform="translate(532.5,871)"><g clip-path="url(#bc4)">
<use href="#brainbase" transform="translate(-1.5,0)"/>
<g filter="url(#rblob)">
<path fill="#bc0000" d="M31.5 0.0h1.5v1.5h-1.5zM27.0 1.5h1.5v1.5h-1.5zM30.0 1.5h1.5v1.5h-1.5zM33.0 1.5h1.5v1.5h-1.5zM34.5 1.5h1.5v1.5h-1.5zM27.0 3.0h1.5v1.5h-1.5zM36.0 3.0h1.5v1.5h-1.5zM27.0 4.5h1.5v1.5h-1.5zM33.0 4.5h1.5v1.5h-1.5zM30.0 6.0h1.5v1.5h-1.5zM33.0 6.0h1.5v1.5h-1.5zM30.0 7.5h1.5v1.5h-1.5zM31.5 7.5h1.5v1.5h-1.5zM48.0 0.0h1.5v1.5h-1.5zM45.0 3.0h1.5v1.5h-1.5zM46.5 4.5h1.5v1.5h-1.5zM1.5 12.0h1.5v1.5h-1.5zM-1.5 13.5h1.5v1.5h-1.5zM0.0 13.5h1.5v1.5h-1.5zM1.5 13.5h1.5v1.5h-1.5zM3.0 13.5h1.5v1.5h-1.5zM4.5 13.5h1.5v1.5h-1.5zM-1.5 15.0h1.5v1.5h-1.5zM-1.5 16.5h1.5v1.5h-1.5zM4.5 16.5h1.5v1.5h-1.5zM-1.5 19.5h1.5v1.5h-1.5zM4.5 19.5h1.5v1.5h-1.5zM0.0 21.0h1.5v1.5h-1.5zM3.0 21.0h1.5v1.5h-1.5zM54.0 12.0h1.5v1.5h-1.5zM52.5 13.5h1.5v1.5h-1.5zM54.0 13.5h1.5v1.5h-1.5zM60.0 13.5h1.5v1.5h-1.5zM52.5 15.0h1.5v1.5h-1.5zM60.0 15.0h1.5v1.5h-1.5zM52.5 16.5h1.5v1.5h-1.5zM61.5 16.5h1.5v1.5h-1.5zM52.5 18.0h1.5v1.5h-1.5zM60.0 18.0h1.5v1.5h-1.5zM61.5 18.0h1.5v1.5h-1.5zM54.0 19.5h1.5v1.5h-1.5zM58.5 19.5h1.5v1.5h-1.5zM60.0 19.5h1.5v1.5h-1.5zM66.0 21.0h1.5v1.5h-1.5zM67.5 21.0h1.5v1.5h-1.5zM69.0 21.0h1.5v1.5h-1.5zM67.5 22.5h1.5v1.5h-1.5zM69.0 22.5h1.5v1.5h-1.5zM61.5 24.0h1.5v1.5h-1.5zM63.0 24.0h1.5v1.5h-1.5zM69.0 24.0h1.5v1.5h-1.5zM70.5 25.5h1.5v1.5h-1.5zM61.5 28.5h1.5v1.5h-1.5zM63.0 28.5h1.5v1.5h-1.5zM64.5 28.5h1.5v1.5h-1.5zM69.0 28.5h1.5v1.5h-1.5zM64.5 30.0h1.5v1.5h-1.5zM67.5 30.0h1.5v1.5h-1.5zM69.0 30.0h1.5v1.5h-1.5zM66.0 31.5h1.5v1.5h-1.5zM67.5 31.5h1.5v1.5h-1.5zM69.0 31.5h1.5v1.5h-1.5zM67.5 34.5h1.5v1.5h-1.5zM69.0 34.5h1.5v1.5h-1.5zM70.5 34.5h1.5v1.5h-1.5zM72.0 34.5h1.5v1.5h-1.5zM67.5 36.0h1.5v1.5h-1.5zM73.5 36.0h1.5v1.5h-1.5zM67.5 37.5h1.5v1.5h-1.5zM72.0 39.0h1.5v1.5h-1.5zM70.5 40.5h1.5v1.5h-1.5zM72.0 40.5h1.5v1.5h-1.5zM81.0 30.0h1.5v1.5h-1.5zM76.5 31.5h1.5v1.5h-1.5zM81.0 31.5h1.5v1.5h-1.5zM81.0 33.0h1.5v1.5h-1.5zM43.5 34.5h1.5v1.5h-1.5zM45.0 34.5h1.5v1.5h-1.5zM40.5 36.0h1.5v1.5h-1.5zM42.0 36.0h1.5v1.5h-1.5zM48.0 36.0h1.5v1.5h-1.5zM40.5 37.5h1.5v1.5h-1.5zM39.0 39.0h1.5v1.5h-1.5zM48.0 39.0h1.5v1.5h-1.5zM45.0 40.5h1.5v1.5h-1.5zM46.5 40.5h1.5v1.5h-1.5zM48.0 40.5h1.5v1.5h-1.5zM45.0 42.0h1.5v1.5h-1.5zM37.5 49.5h1.5v1.5h-1.5zM37.5 51.0h1.5v1.5h-1.5zM39.0 51.0h1.5v1.5h-1.5zM40.5 51.0h1.5v1.5h-1.5zM3.0 45.0h1.5v1.5h-1.5zM1.5 46.5h1.5v1.5h-1.5zM3.0 46.5h1.5v1.5h-1.5zM4.5 46.5h1.5v1.5h-1.5zM4.5 48.0h1.5v1.5h-1.5zM1.5 49.5h1.5v1.5h-1.5zM4.5 49.5h1.5v1.5h-1.5zM6.0 49.5h1.5v1.5h-1.5zM1.5 51.0h1.5v1.5h-1.5zM6.0 51.0h1.5v1.5h-1.5zM6.0 52.5h1.5v1.5h-1.5zM0.0 54.0h1.5v1.5h-1.5zM1.5 54.0h1.5v1.5h-1.5zM4.5 54.0h1.5v1.5h-1.5zM6.0 54.0h1.5v1.5h-1.5zM0.0 55.5h1.5v1.5h-1.5zM1.5 55.5h1.5v1.5h-1.5zM51.0 51.0h1.5v1.5h-1.5zM52.5 51.0h1.5v1.5h-1.5zM54.0 51.0h1.5v1.5h-1.5zM49.5 52.5h1.5v1.5h-1.5zM55.5 52.5h1.5v1.5h-1.5zM48.0 57.0h1.5v1.5h-1.5zM49.5 57.0h1.5v1.5h-1.5zM52.5 57.0h1.5v1.5h-1.5zM49.5 58.5h1.5v1.5h-1.5zM51.0 58.5h1.5v1.5h-1.5zM70.5 54.0h1.5v1.5h-1.5zM73.5 54.0h1.5v1.5h-1.5zM67.5 55.5h1.5v1.5h-1.5zM69.0 55.5h1.5v1.5h-1.5zM75.0 55.5h1.5v1.5h-1.5zM67.5 57.0h1.5v1.5h-1.5zM73.5 57.0h1.5v1.5h-1.5zM75.0 57.0h1.5v1.5h-1.5zM66.0 58.5h1.5v1.5h-1.5zM67.5 58.5h1.5v1.5h-1.5zM67.5 60.0h1.5v1.5h-1.5zM75.0 60.0h1.5v1.5h-1.5zM67.5 61.5h1.5v1.5h-1.5zM69.0 61.5h1.5v1.5h-1.5zM70.5 61.5h1.5v1.5h-1.5zM72.0 61.5h1.5v1.5h-1.5zM75.0 61.5h1.5v1.5h-1.5zM72.0 63.0h1.5v1.5h-1.5zM73.5 63.0h1.5v1.5h-1.5zM75.0 63.0h1.5v1.5h-1.5zM82.5 57.0h1.5v1.5h-1.5zM79.5 60.0h1.5v1.5h-1.5zM81.0 61.5h1.5v1.5h-1.5zM114.0 52.5h1.5v1.5h-1.5zM112.5 54.0h1.5v1.5h-1.5zM114.0 54.0h1.5v1.5h-1.5zM115.5 54.0h1.5v1.5h-1.5zM112.5 55.5h1.5v1.5h-1.5zM114.0 55.5h1.5v1.5h-1.5zM115.5 55.5h1.5v1.5h-1.5zM117.0 55.5h1.5v1.5h-1.5zM111.0 57.0h1.5v1.5h-1.5zM112.5 57.0h1.5v1.5h-1.5zM117.0 57.0h1.5v1.5h-1.5zM118.5 57.0h1.5v1.5h-1.5zM120.0 57.0h1.5v1.5h-1.5zM118.5 58.5h1.5v1.5h-1.5zM120.0 60.0h1.5v1.5h-1.5zM120.0 61.5h1.5v1.5h-1.5zM109.5 63.0h1.5v1.5h-1.5zM120.0 63.0h1.5v1.5h-1.5zM121.5 63.0h1.5v1.5h-1.5zM108.0 64.5h1.5v1.5h-1.5zM109.5 64.5h1.5v1.5h-1.5zM108.0 66.0h1.5v1.5h-1.5zM120.0 66.0h1.5v1.5h-1.5zM121.5 66.0h1.5v1.5h-1.5zM108.0 67.5h1.5v1.5h-1.5zM118.5 67.5h1.5v1.5h-1.5zM120.0 67.5h1.5v1.5h-1.5zM121.5 67.5h1.5v1.5h-1.5zM106.5 69.0h1.5v1.5h-1.5zM109.5 69.0h1.5v1.5h-1.5zM115.5 69.0h1.5v1.5h-1.5zM117.0 69.0h1.5v1.5h-1.5zM118.5 69.0h1.5v1.5h-1.5zM106.5 70.5h1.5v1.5h-1.5zM108.0 70.5h1.5v1.5h-1.5zM114.0 70.5h1.5v1.5h-1.5zM117.0 70.5h1.5v1.5h-1.5zM118.5 70.5h1.5v1.5h-1.5zM108.0 72.0h1.5v1.5h-1.5zM109.5 72.0h1.5v1.5h-1.5zM111.0 72.0h1.5v1.5h-1.5zM114.0 72.0h1.5v1.5h-1.5zM115.5 72.0h1.5v1.5h-1.5zM117.0 72.0h1.5v1.5h-1.5zM108.0 73.5h1.5v1.5h-1.5zM109.5 73.5h1.5v1.5h-1.5zM111.0 73.5h1.5v1.5h-1.5zM76.5 76.5h1.5v1.5h-1.5zM79.5 76.5h1.5v1.5h-1.5zM73.5 78.0h1.5v1.5h-1.5zM81.0 78.0h1.5v1.5h-1.5zM73.5 79.5h1.5v1.5h-1.5zM75.0 79.5h1.5v1.5h-1.5zM81.0 79.5h1.5v1.5h-1.5zM82.5 79.5h1.5v1.5h-1.5zM75.0 81.0h1.5v1.5h-1.5zM84.0 81.0h1.5v1.5h-1.5zM75.0 82.5h1.5v1.5h-1.5zM76.5 82.5h1.5v1.5h-1.5zM84.0 82.5h1.5v1.5h-1.5zM84.0 84.0h1.5v1.5h-1.5zM76.5 85.5h1.5v1.5h-1.5zM78.0 85.5h1.5v1.5h-1.5zM84.0 85.5h1.5v1.5h-1.5zM85.5 85.5h1.5v1.5h-1.5zM78.0 87.0h1.5v1.5h-1.5zM79.5 87.0h1.5v1.5h-1.5zM81.0 87.0h1.5v1.5h-1.5zM82.5 87.0h1.5v1.5h-1.5zM79.5 88.5h1.5v1.5h-1.5zM82.5 88.5h1.5v1.5h-1.5zM28.5 87.0h1.5v1.5h-1.5zM27.0 88.5h1.5v1.5h-1.5zM30.0 88.5h1.5v1.5h-1.5zM22.5 90.0h1.5v1.5h-1.5zM24.0 93.0h1.5v1.5h-1.5zM24.0 94.5h1.5v1.5h-1.5zM28.5 94.5h1.5v1.5h-1.5zM24.0 96.0h1.5v1.5h-1.5zM25.5 96.0h1.5v1.5h-1.5zM28.5 96.0h1.5v1.5h-1.5zM25.5 97.5h1.5v1.5h-1.5zM27.0 97.5h1.5v1.5h-1.5zM28.5 97.5h1.5v1.5h-1.5zM12.0 94.5h1.5v1.5h-1.5zM13.5 94.5h1.5v1.5h-1.5zM7.5 97.5h1.5v1.5h-1.5zM13.5 97.5h1.5v1.5h-1.5zM7.5 99.0h1.5v1.5h-1.5zM9.0 99.0h1.5v1.5h-1.5zM21.0 100.5h1.5v1.5h-1.5zM18.0 102.0h1.5v1.5h-1.5zM21.0 102.0h1.5v1.5h-1.5zM82.5 100.5h1.5v1.5h-1.5zM81.0 102.0h1.5v1.5h-1.5zM82.5 102.0h1.5v1.5h-1.5zM76.5 103.5h1.5v1.5h-1.5zM78.0 103.5h1.5v1.5h-1.5zM79.5 103.5h1.5v1.5h-1.5zM85.5 103.5h1.5v1.5h-1.5zM76.5 106.5h1.5v1.5h-1.5zM85.5 106.5h1.5v1.5h-1.5zM78.0 108.0h1.5v1.5h-1.5zM79.5 108.0h1.5v1.5h-1.5zM81.0 108.0h1.5v1.5h-1.5zM82.5 108.0h1.5v1.5h-1.5zM84.0 108.0h1.5v1.5h-1.5zM85.5 108.0h1.5v1.5h-1.5zM82.5 109.5h1.5v1.5h-1.5zM84.0 109.5h1.5v1.5h-1.5zM99.0 87.0h1.5v1.5h-1.5zM100.5 87.0h1.5v1.5h-1.5zM102.0 87.0h1.5v1.5h-1.5zM99.0 88.5h1.5v1.5h-1.5zM102.0 88.5h1.5v1.5h-1.5zM103.5 88.5h1.5v1.5h-1.5zM97.5 90.0h1.5v1.5h-1.5zM103.5 90.0h1.5v1.5h-1.5zM96.0 93.0h1.5v1.5h-1.5zM103.5 94.5h1.5v1.5h-1.5zM96.0 96.0h1.5v1.5h-1.5zM96.0 97.5h1.5v1.5h-1.5zM97.5 99.0h1.5v1.5h-1.5zM99.0 99.0h1.5v1.5h-1.5zM99.0 100.5h1.5v1.5h-1.5zM100.5 105.0h1.5v1.5h-1.5zM97.5 106.5h1.5v1.5h-1.5zM102.0 108.0h1.5v1.5h-1.5zM96.0 112.5h1.5v1.5h-1.5zM99.0 114.0h1.5v1.5h-1.5zM96.0 115.5h1.5v1.5h-1.5zM99.0 115.5h1.5v1.5h-1.5zM45.0 133.5h1.5v1.5h-1.5zM46.5 133.5h1.5v1.5h-1.5zM48.0 133.5h1.5v1.5h-1.5zM42.0 135.0h1.5v1.5h-1.5zM43.5 135.0h1.5v1.5h-1.5zM48.0 135.0h1.5v1.5h-1.5zM42.0 136.5h1.5v1.5h-1.5zM43.5 138.0h1.5v1.5h-1.5zM46.5 138.0h1.5v1.5h-1.5zM48.0 138.0h1.5v1.5h-1.5zM43.5 139.5h1.5v1.5h-1.5zM45.0 139.5h1.5v1.5h-1.5zM1.5 144.0h1.5v1.5h-1.5zM3.0 147.0h1.5v1.5h-1.5zM0.0 148.5h1.5v1.5h-1.5zM1.5 150.0h1.5v1.5h-1.5zM75.0 162.0h1.5v1.5h-1.5zM78.0 162.0h1.5v1.5h-1.5zM75.0 163.5h1.5v1.5h-1.5zM79.5 163.5h1.5v1.5h-1.5zM81.0 163.5h1.5v1.5h-1.5zM84.0 163.5h1.5v1.5h-1.5zM85.5 163.5h1.5v1.5h-1.5zM75.0 165.0h1.5v1.5h-1.5zM84.0 165.0h1.5v1.5h-1.5zM85.5 165.0h1.5v1.5h-1.5zM75.0 166.5h1.5v1.5h-1.5zM76.5 166.5h1.5v1.5h-1.5zM82.5 166.5h1.5v1.5h-1.5zM73.5 168.0h1.5v1.5h-1.5zM82.5 168.0h1.5v1.5h-1.5zM76.5 169.5h1.5v1.5h-1.5zM79.5 169.5h1.5v1.5h-1.5zM82.5 169.5h1.5v1.5h-1.5zM81.0 171.0h1.5v1.5h-1.5z"/>
<path fill="#e20000" d="M28.5 1.5h1.5v1.5h-1.5zM31.5 1.5h1.5v1.5h-1.5zM28.5 3.0h1.5v1.5h-1.5zM30.0 3.0h1.5v1.5h-1.5zM31.5 3.0h1.5v1.5h-1.5zM33.0 3.0h1.5v1.5h-1.5zM34.5 3.0h1.5v1.5h-1.5zM30.0 4.5h1.5v1.5h-1.5zM31.5 4.5h1.5v1.5h-1.5zM31.5 6.0h1.5v1.5h-1.5zM46.5 0.0h1.5v1.5h-1.5zM46.5 1.5h1.5v1.5h-1.5zM48.0 1.5h1.5v1.5h-1.5zM46.5 3.0h1.5v1.5h-1.5zM48.0 3.0h1.5v1.5h-1.5zM0.0 15.0h1.5v1.5h-1.5zM1.5 15.0h1.5v1.5h-1.5zM3.0 15.0h1.5v1.5h-1.5zM0.0 16.5h1.5v1.5h-1.5zM1.5 16.5h1.5v1.5h-1.5zM3.0 16.5h1.5v1.5h-1.5zM-1.5 18.0h1.5v1.5h-1.5zM0.0 18.0h1.5v1.5h-1.5zM1.5 18.0h1.5v1.5h-1.5zM3.0 18.0h1.5v1.5h-1.5zM0.0 19.5h1.5v1.5h-1.5zM1.5 19.5h1.5v1.5h-1.5zM3.0 19.5h1.5v1.5h-1.5zM1.5 21.0h1.5v1.5h-1.5zM55.5 13.5h1.5v1.5h-1.5zM57.0 13.5h1.5v1.5h-1.5zM54.0 15.0h1.5v1.5h-1.5zM55.5 15.0h1.5v1.5h-1.5zM57.0 15.0h1.5v1.5h-1.5zM58.5 15.0h1.5v1.5h-1.5zM54.0 16.5h1.5v1.5h-1.5zM58.5 16.5h1.5v1.5h-1.5zM60.0 16.5h1.5v1.5h-1.5zM54.0 18.0h1.5v1.5h-1.5zM55.5 18.0h1.5v1.5h-1.5zM57.0 18.0h1.5v1.5h-1.5zM58.5 18.0h1.5v1.5h-1.5zM57.0 19.5h1.5v1.5h-1.5zM66.0 22.5h1.5v1.5h-1.5zM64.5 24.0h1.5v1.5h-1.5zM66.0 24.0h1.5v1.5h-1.5zM67.5 24.0h1.5v1.5h-1.5zM61.5 25.5h1.5v1.5h-1.5zM63.0 25.5h1.5v1.5h-1.5zM67.5 25.5h1.5v1.5h-1.5zM69.0 25.5h1.5v1.5h-1.5zM63.0 27.0h1.5v1.5h-1.5zM64.5 27.0h1.5v1.5h-1.5zM66.0 27.0h1.5v1.5h-1.5zM67.5 27.0h1.5v1.5h-1.5zM69.0 27.0h1.5v1.5h-1.5zM66.0 28.5h1.5v1.5h-1.5zM67.5 28.5h1.5v1.5h-1.5zM66.0 30.0h1.5v1.5h-1.5zM69.0 36.0h1.5v1.5h-1.5zM70.5 36.0h1.5v1.5h-1.5zM72.0 36.0h1.5v1.5h-1.5zM69.0 37.5h1.5v1.5h-1.5zM70.5 37.5h1.5v1.5h-1.5zM72.0 37.5h1.5v1.5h-1.5zM69.0 39.0h1.5v1.5h-1.5zM70.5 39.0h1.5v1.5h-1.5zM69.0 40.5h1.5v1.5h-1.5zM78.0 30.0h1.5v1.5h-1.5zM79.5 30.0h1.5v1.5h-1.5zM78.0 31.5h1.5v1.5h-1.5zM79.5 31.5h1.5v1.5h-1.5zM78.0 33.0h1.5v1.5h-1.5zM79.5 33.0h1.5v1.5h-1.5zM43.5 36.0h1.5v1.5h-1.5zM45.0 36.0h1.5v1.5h-1.5zM46.5 36.0h1.5v1.5h-1.5zM42.0 37.5h1.5v1.5h-1.5zM43.5 37.5h1.5v1.5h-1.5zM45.0 37.5h1.5v1.5h-1.5zM46.5 37.5h1.5v1.5h-1.5zM48.0 37.5h1.5v1.5h-1.5zM40.5 39.0h1.5v1.5h-1.5zM42.0 39.0h1.5v1.5h-1.5zM43.5 39.0h1.5v1.5h-1.5zM45.0 39.0h1.5v1.5h-1.5zM46.5 39.0h1.5v1.5h-1.5zM42.0 40.5h1.5v1.5h-1.5zM43.5 40.5h1.5v1.5h-1.5zM39.0 48.0h1.5v1.5h-1.5zM40.5 48.0h1.5v1.5h-1.5zM39.0 49.5h1.5v1.5h-1.5zM40.5 49.5h1.5v1.5h-1.5zM1.5 48.0h1.5v1.5h-1.5zM3.0 48.0h1.5v1.5h-1.5zM3.0 49.5h1.5v1.5h-1.5zM3.0 51.0h1.5v1.5h-1.5zM4.5 51.0h1.5v1.5h-1.5zM1.5 52.5h1.5v1.5h-1.5zM3.0 52.5h1.5v1.5h-1.5zM4.5 52.5h1.5v1.5h-1.5zM3.0 54.0h1.5v1.5h-1.5zM51.0 52.5h1.5v1.5h-1.5zM52.5 52.5h1.5v1.5h-1.5zM54.0 52.5h1.5v1.5h-1.5zM49.5 54.0h1.5v1.5h-1.5zM54.0 54.0h1.5v1.5h-1.5zM48.0 55.5h1.5v1.5h-1.5zM49.5 55.5h1.5v1.5h-1.5zM52.5 55.5h1.5v1.5h-1.5zM51.0 57.0h1.5v1.5h-1.5zM70.5 55.5h1.5v1.5h-1.5zM72.0 55.5h1.5v1.5h-1.5zM73.5 55.5h1.5v1.5h-1.5zM69.0 57.0h1.5v1.5h-1.5zM70.5 57.0h1.5v1.5h-1.5zM72.0 57.0h1.5v1.5h-1.5zM69.0 58.5h1.5v1.5h-1.5zM73.5 58.5h1.5v1.5h-1.5zM69.0 60.0h1.5v1.5h-1.5zM70.5 60.0h1.5v1.5h-1.5zM72.0 60.0h1.5v1.5h-1.5zM73.5 60.0h1.5v1.5h-1.5zM73.5 61.5h1.5v1.5h-1.5zM81.0 57.0h1.5v1.5h-1.5zM79.5 58.5h1.5v1.5h-1.5zM81.0 58.5h1.5v1.5h-1.5zM82.5 58.5h1.5v1.5h-1.5zM81.0 60.0h1.5v1.5h-1.5zM82.5 60.0h1.5v1.5h-1.5zM114.0 57.0h1.5v1.5h-1.5zM115.5 57.0h1.5v1.5h-1.5zM111.0 58.5h1.5v1.5h-1.5zM112.5 58.5h1.5v1.5h-1.5zM114.0 58.5h1.5v1.5h-1.5zM115.5 58.5h1.5v1.5h-1.5zM117.0 58.5h1.5v1.5h-1.5zM111.0 60.0h1.5v1.5h-1.5zM112.5 60.0h1.5v1.5h-1.5zM114.0 60.0h1.5v1.5h-1.5zM115.5 60.0h1.5v1.5h-1.5zM117.0 60.0h1.5v1.5h-1.5zM118.5 60.0h1.5v1.5h-1.5zM111.0 61.5h1.5v1.5h-1.5zM112.5 61.5h1.5v1.5h-1.5zM115.5 61.5h1.5v1.5h-1.5zM117.0 61.5h1.5v1.5h-1.5zM118.5 61.5h1.5v1.5h-1.5zM111.0 63.0h1.5v1.5h-1.5zM115.5 63.0h1.5v1.5h-1.5zM117.0 63.0h1.5v1.5h-1.5zM118.5 63.0h1.5v1.5h-1.5zM111.0 64.5h1.5v1.5h-1.5zM114.0 64.5h1.5v1.5h-1.5zM117.0 64.5h1.5v1.5h-1.5zM118.5 64.5h1.5v1.5h-1.5zM120.0 64.5h1.5v1.5h-1.5zM121.5 64.5h1.5v1.5h-1.5zM109.5 66.0h1.5v1.5h-1.5zM111.0 66.0h1.5v1.5h-1.5zM114.0 66.0h1.5v1.5h-1.5zM117.0 66.0h1.5v1.5h-1.5zM118.5 66.0h1.5v1.5h-1.5zM109.5 67.5h1.5v1.5h-1.5zM111.0 67.5h1.5v1.5h-1.5zM112.5 67.5h1.5v1.5h-1.5zM114.0 67.5h1.5v1.5h-1.5zM115.5 67.5h1.5v1.5h-1.5zM117.0 67.5h1.5v1.5h-1.5zM108.0 69.0h1.5v1.5h-1.5zM111.0 69.0h1.5v1.5h-1.5zM112.5 69.0h1.5v1.5h-1.5zM114.0 69.0h1.5v1.5h-1.5zM109.5 70.5h1.5v1.5h-1.5zM111.0 70.5h1.5v1.5h-1.5zM112.5 70.5h1.5v1.5h-1.5zM112.5 72.0h1.5v1.5h-1.5zM76.5 78.0h1.5v1.5h-1.5zM78.0 78.0h1.5v1.5h-1.5zM79.5 78.0h1.5v1.5h-1.5zM76.5 79.5h1.5v1.5h-1.5zM78.0 79.5h1.5v1.5h-1.5zM79.5 79.5h1.5v1.5h-1.5zM76.5 81.0h1.5v1.5h-1.5zM81.0 81.0h1.5v1.5h-1.5zM81.0 82.5h1.5v1.5h-1.5zM82.5 82.5h1.5v1.5h-1.5zM76.5 84.0h1.5v1.5h-1.5zM78.0 84.0h1.5v1.5h-1.5zM81.0 84.0h1.5v1.5h-1.5zM82.5 84.0h1.5v1.5h-1.5zM79.5 85.5h1.5v1.5h-1.5zM81.0 85.5h1.5v1.5h-1.5zM82.5 85.5h1.5v1.5h-1.5zM24.0 88.5h1.5v1.5h-1.5zM28.5 88.5h1.5v1.5h-1.5zM24.0 90.0h1.5v1.5h-1.5zM25.5 90.0h1.5v1.5h-1.5zM27.0 90.0h1.5v1.5h-1.5zM28.5 90.0h1.5v1.5h-1.5zM24.0 91.5h1.5v1.5h-1.5zM28.5 91.5h1.5v1.5h-1.5zM25.5 93.0h1.5v1.5h-1.5zM28.5 93.0h1.5v1.5h-1.5zM25.5 94.5h1.5v1.5h-1.5zM27.0 94.5h1.5v1.5h-1.5zM27.0 96.0h1.5v1.5h-1.5zM10.5 96.0h1.5v1.5h-1.5zM12.0 96.0h1.5v1.5h-1.5zM9.0 97.5h1.5v1.5h-1.5zM10.5 97.5h1.5v1.5h-1.5zM12.0 97.5h1.5v1.5h-1.5zM12.0 99.0h1.5v1.5h-1.5zM13.5 99.0h1.5v1.5h-1.5zM18.0 100.5h1.5v1.5h-1.5zM19.5 100.5h1.5v1.5h-1.5zM19.5 102.0h1.5v1.5h-1.5zM81.0 103.5h1.5v1.5h-1.5zM82.5 103.5h1.5v1.5h-1.5zM84.0 103.5h1.5v1.5h-1.5zM76.5 105.0h1.5v1.5h-1.5zM78.0 105.0h1.5v1.5h-1.5zM79.5 105.0h1.5v1.5h-1.5zM81.0 105.0h1.5v1.5h-1.5zM82.5 105.0h1.5v1.5h-1.5zM84.0 105.0h1.5v1.5h-1.5zM78.0 106.5h1.5v1.5h-1.5zM79.5 106.5h1.5v1.5h-1.5zM81.0 106.5h1.5v1.5h-1.5zM82.5 106.5h1.5v1.5h-1.5zM84.0 106.5h1.5v1.5h-1.5zM100.5 88.5h1.5v1.5h-1.5zM99.0 90.0h1.5v1.5h-1.5zM100.5 90.0h1.5v1.5h-1.5zM102.0 90.0h1.5v1.5h-1.5zM97.5 91.5h1.5v1.5h-1.5zM99.0 91.5h1.5v1.5h-1.5zM102.0 91.5h1.5v1.5h-1.5zM103.5 91.5h1.5v1.5h-1.5zM97.5 93.0h1.5v1.5h-1.5zM100.5 93.0h1.5v1.5h-1.5zM102.0 93.0h1.5v1.5h-1.5zM103.5 93.0h1.5v1.5h-1.5zM97.5 94.5h1.5v1.5h-1.5zM100.5 94.5h1.5v1.5h-1.5zM102.0 94.5h1.5v1.5h-1.5zM97.5 96.0h1.5v1.5h-1.5zM99.0 96.0h1.5v1.5h-1.5zM100.5 96.0h1.5v1.5h-1.5zM102.0 96.0h1.5v1.5h-1.5zM97.5 97.5h1.5v1.5h-1.5zM99.0 97.5h1.5v1.5h-1.5zM100.5 97.5h1.5v1.5h-1.5zM102.0 97.5h1.5v1.5h-1.5zM100.5 99.0h1.5v1.5h-1.5zM99.0 105.0h1.5v1.5h-1.5zM99.0 106.5h1.5v1.5h-1.5zM100.5 106.5h1.5v1.5h-1.5zM97.5 108.0h1.5v1.5h-1.5zM99.0 108.0h1.5v1.5h-1.5zM100.5 108.0h1.5v1.5h-1.5zM99.0 109.5h1.5v1.5h-1.5zM96.0 114.0h1.5v1.5h-1.5zM97.5 114.0h1.5v1.5h-1.5zM97.5 115.5h1.5v1.5h-1.5zM45.0 135.0h1.5v1.5h-1.5zM46.5 135.0h1.5v1.5h-1.5zM43.5 136.5h1.5v1.5h-1.5zM48.0 136.5h1.5v1.5h-1.5zM45.0 138.0h1.5v1.5h-1.5zM3.0 144.0h1.5v1.5h-1.5zM0.0 145.5h1.5v1.5h-1.5zM1.5 145.5h1.5v1.5h-1.5zM3.0 145.5h1.5v1.5h-1.5zM0.0 147.0h1.5v1.5h-1.5zM1.5 147.0h1.5v1.5h-1.5zM1.5 148.5h1.5v1.5h-1.5zM76.5 163.5h1.5v1.5h-1.5zM78.0 163.5h1.5v1.5h-1.5zM82.5 163.5h1.5v1.5h-1.5zM76.5 165.0h1.5v1.5h-1.5zM79.5 165.0h1.5v1.5h-1.5zM82.5 165.0h1.5v1.5h-1.5zM81.0 166.5h1.5v1.5h-1.5zM75.0 168.0h1.5v1.5h-1.5zM76.5 168.0h1.5v1.5h-1.5zM78.0 168.0h1.5v1.5h-1.5zM79.5 168.0h1.5v1.5h-1.5zM81.0 168.0h1.5v1.5h-1.5zM78.0 169.5h1.5v1.5h-1.5zM81.0 169.5h1.5v1.5h-1.5z"/>
<path fill="#ff3800" d="M55.5 16.5h1.5v1.5h-1.5zM57.0 16.5h1.5v1.5h-1.5zM64.5 25.5h1.5v1.5h-1.5zM66.0 25.5h1.5v1.5h-1.5zM51.0 54.0h1.5v1.5h-1.5zM52.5 54.0h1.5v1.5h-1.5zM51.0 55.5h1.5v1.5h-1.5zM70.5 58.5h1.5v1.5h-1.5zM72.0 58.5h1.5v1.5h-1.5zM114.0 61.5h1.5v1.5h-1.5zM112.5 63.0h1.5v1.5h-1.5zM114.0 63.0h1.5v1.5h-1.5zM112.5 64.5h1.5v1.5h-1.5zM115.5 64.5h1.5v1.5h-1.5zM112.5 66.0h1.5v1.5h-1.5zM115.5 66.0h1.5v1.5h-1.5zM78.0 81.0h1.5v1.5h-1.5zM79.5 81.0h1.5v1.5h-1.5zM78.0 82.5h1.5v1.5h-1.5zM79.5 84.0h1.5v1.5h-1.5zM25.5 91.5h1.5v1.5h-1.5zM27.0 91.5h1.5v1.5h-1.5zM27.0 93.0h1.5v1.5h-1.5zM100.5 91.5h1.5v1.5h-1.5zM99.0 93.0h1.5v1.5h-1.5zM99.0 94.5h1.5v1.5h-1.5zM45.0 136.5h1.5v1.5h-1.5zM46.5 136.5h1.5v1.5h-1.5zM78.0 165.0h1.5v1.5h-1.5zM81.0 165.0h1.5v1.5h-1.5zM78.0 166.5h1.5v1.5h-1.5zM79.5 166.5h1.5v1.5h-1.5z"/>
<path fill="#ffa000" d="M79.5 82.5h1.5v1.5h-1.5z"/>
</g>
<g transform="translate(0.5,0)"><use href="#bover"/>
<text x="89" y="79" font-family="Liberation Sans, sans-serif" font-weight="bold" font-size="7" fill="#fff" textLength="10.5" lengthAdjust="spacingAndGlyphs">V3d</text></g>
<path id="ips_bc4" d="M8 19 C25 19 45 25 66 41" fill="none"/>
<text font-family="Liberation Sans, sans-serif" font-weight="bold" font-size="7.3" fill="#fff"><textPath href="#ips_bc4" textLength="60" lengthAdjust="spacingAndGlyphs">intraparietal sulcus</textPath></text>
<use href="#bfixed"/>
<text x="59.6" y="198.6" font-family="Liberation Sans, sans-serif" font-size="9.5" fill="#eee">5</text>
<text x="113.89999999999999" y="200.0" font-family="Liberation Sans, sans-serif" font-size="16.2" fill="#fff" textLength="21.5" lengthAdjust="spacingAndGlyphs">LH</text>
</g></g>
<rect x="396" y="871" width="277.6" height="204.4000000000001" fill="none" stroke="#fff" stroke-width="2"/>
<line x1="532.5" y1="871" x2="532.5" y2="1075.4" stroke="#fff" stroke-width="2"/>
</svg></body></html>
